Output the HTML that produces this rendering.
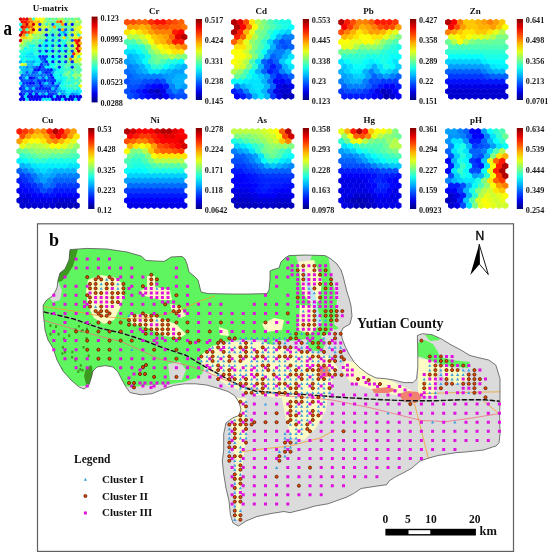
<!DOCTYPE html>
<html><head><meta charset="utf-8"><style>
html,body{margin:0;padding:0;background:#fff;}
svg{display:block;filter:blur(0.3px);}
.tt{font-family:"Liberation Serif",serif;font-weight:bold;font-size:9px;fill:#111;}
.cb{font-family:"Liberation Serif",serif;font-weight:bold;font-size:8.2px;fill:#1a1a1a;}
.big{font-family:"Liberation Serif",serif;font-weight:bold;font-size:17px;fill:#000;}
.lg{font-family:"Liberation Serif",serif;font-weight:bold;fill:#111;}
</style></head><body>
<svg width="550" height="556" viewBox="0 0 550 556">
<rect width="550" height="556" fill="#fff"/>
<defs><linearGradient id="jetg" x1="0" y1="1" x2="0" y2="0">
<stop offset="0.00" stop-color="#000080"/>
<stop offset="0.10" stop-color="#0000e6"/>
<stop offset="0.20" stop-color="#004dff"/>
<stop offset="0.30" stop-color="#00b2ff"/>
<stop offset="0.40" stop-color="#1affe5"/>
<stop offset="0.50" stop-color="#80ff80"/>
<stop offset="0.60" stop-color="#e5ff1a"/>
<stop offset="0.70" stop-color="#ffb300"/>
<stop offset="0.80" stop-color="#ff4c00"/>
<stop offset="0.90" stop-color="#e50000"/>
<stop offset="1.00" stop-color="#800000"/>
</linearGradient></defs>
<text x="50.5" y="11.4" class="tt" text-anchor="middle">U-matrix</text>
<defs><path id="h1" d="M0.00 -1.89 1.71 -0.94 1.71 0.94 0.00 1.89 -1.71 0.94 -1.71 -0.94 Z"/></defs>
<use href="#h1" x="20.62" y="19.18" fill="#d10000"/>
<use href="#h1" x="23.85" y="19.18" fill="#ff1300"/>
<use href="#h1" x="27.08" y="19.18" fill="#d10000"/>
<use href="#h1" x="30.31" y="19.18" fill="#ff8f00"/>
<use href="#h1" x="33.54" y="19.18" fill="#4dffb2"/>
<use href="#h1" x="36.77" y="19.18" fill="#fffb00"/>
<use href="#h1" x="40.00" y="19.18" fill="#faff05"/>
<use href="#h1" x="43.23" y="19.18" fill="#efff10"/>
<use href="#h1" x="46.46" y="19.18" fill="#76ff89"/>
<use href="#h1" x="49.69" y="19.18" fill="#56ffa9"/>
<use href="#h1" x="52.92" y="19.18" fill="#79ff86"/>
<use href="#h1" x="56.15" y="19.18" fill="#5affa5"/>
<use href="#h1" x="59.38" y="19.18" fill="#9eff61"/>
<use href="#h1" x="62.62" y="19.18" fill="#a1ff5e"/>
<use href="#h1" x="65.85" y="19.18" fill="#56ffa9"/>
<use href="#h1" x="69.08" y="19.18" fill="#6dff92"/>
<use href="#h1" x="72.31" y="19.18" fill="#59ffa6"/>
<use href="#h1" x="75.54" y="19.18" fill="#8cff73"/>
<use href="#h1" x="78.77" y="19.18" fill="#64ff9b"/>
<use href="#h1" x="22.23" y="21.86" fill="#ff0500"/>
<use href="#h1" x="25.46" y="21.86" fill="#ff0c00"/>
<use href="#h1" x="28.69" y="21.86" fill="#ff4f00"/>
<use href="#h1" x="31.92" y="21.86" fill="#ff7b00"/>
<use href="#h1" x="35.15" y="21.86" fill="#ffd000"/>
<use href="#h1" x="38.38" y="21.86" fill="#ffb300"/>
<use href="#h1" x="41.62" y="21.86" fill="#fff900"/>
<use href="#h1" x="44.85" y="21.86" fill="#abff54"/>
<use href="#h1" x="48.08" y="21.86" fill="#71ff8e"/>
<use href="#h1" x="51.31" y="21.86" fill="#69ff96"/>
<use href="#h1" x="54.54" y="21.86" fill="#6cff93"/>
<use href="#h1" x="57.77" y="21.86" fill="#ff7f00"/>
<use href="#h1" x="61.00" y="21.86" fill="#ff3500"/>
<use href="#h1" x="64.23" y="21.86" fill="#b5ff4a"/>
<use href="#h1" x="67.46" y="21.86" fill="#60ff9f"/>
<use href="#h1" x="70.69" y="21.86" fill="#b5ff4a"/>
<use href="#h1" x="73.92" y="21.86" fill="#7bff84"/>
<use href="#h1" x="77.15" y="21.86" fill="#e1ff1e"/>
<use href="#h1" x="80.38" y="21.86" fill="#97ff68"/>
<use href="#h1" x="20.62" y="24.53" fill="#1affe5"/>
<use href="#h1" x="23.85" y="24.53" fill="#ff5800"/>
<use href="#h1" x="27.08" y="24.53" fill="#d10000"/>
<use href="#h1" x="30.31" y="24.53" fill="#ffae00"/>
<use href="#h1" x="33.54" y="24.53" fill="#d10000"/>
<use href="#h1" x="36.77" y="24.53" fill="#ffee00"/>
<use href="#h1" x="40.00" y="24.53" fill="#0032ff"/>
<use href="#h1" x="43.23" y="24.53" fill="#b0ff4f"/>
<use href="#h1" x="46.46" y="24.53" fill="#40ffbf"/>
<use href="#h1" x="49.69" y="24.53" fill="#8dff72"/>
<use href="#h1" x="52.92" y="24.53" fill="#0061ff"/>
<use href="#h1" x="56.15" y="24.53" fill="#3effc1"/>
<use href="#h1" x="59.38" y="24.53" fill="#5effa1"/>
<use href="#h1" x="62.62" y="24.53" fill="#ffa000"/>
<use href="#h1" x="65.85" y="24.53" fill="#0024ff"/>
<use href="#h1" x="69.08" y="24.53" fill="#afff50"/>
<use href="#h1" x="72.31" y="24.53" fill="#0015ff"/>
<use href="#h1" x="75.54" y="24.53" fill="#8eff71"/>
<use href="#h1" x="78.77" y="24.53" fill="#91ff6e"/>
<use href="#h1" x="22.23" y="27.21" fill="#d90000"/>
<use href="#h1" x="25.46" y="27.21" fill="#ff2200"/>
<use href="#h1" x="28.69" y="27.21" fill="#ff5700"/>
<use href="#h1" x="31.92" y="27.21" fill="#ff6900"/>
<use href="#h1" x="35.15" y="27.21" fill="#ffea00"/>
<use href="#h1" x="38.38" y="27.21" fill="#ffd800"/>
<use href="#h1" x="41.62" y="27.21" fill="#bbff44"/>
<use href="#h1" x="44.85" y="27.21" fill="#ddff22"/>
<use href="#h1" x="48.08" y="27.21" fill="#b4ff4b"/>
<use href="#h1" x="51.31" y="27.21" fill="#66ff99"/>
<use href="#h1" x="54.54" y="27.21" fill="#ffaa00"/>
<use href="#h1" x="57.77" y="27.21" fill="#47ffb8"/>
<use href="#h1" x="61.00" y="27.21" fill="#4cffb3"/>
<use href="#h1" x="64.23" y="27.21" fill="#71ff8e"/>
<use href="#h1" x="67.46" y="27.21" fill="#54ffab"/>
<use href="#h1" x="70.69" y="27.21" fill="#61ff9e"/>
<use href="#h1" x="73.92" y="27.21" fill="#acff53"/>
<use href="#h1" x="77.15" y="27.21" fill="#caff35"/>
<use href="#h1" x="80.38" y="27.21" fill="#fffd00"/>
<use href="#h1" x="20.62" y="29.88" fill="#1affe5"/>
<use href="#h1" x="23.85" y="29.88" fill="#ff4000"/>
<use href="#h1" x="27.08" y="29.88" fill="#4dffb2"/>
<use href="#h1" x="30.31" y="29.88" fill="#ffbd00"/>
<use href="#h1" x="33.54" y="29.88" fill="#b30000"/>
<use href="#h1" x="36.77" y="29.88" fill="#ffff00"/>
<use href="#h1" x="40.00" y="29.88" fill="#001bff"/>
<use href="#h1" x="43.23" y="29.88" fill="#a1ff5e"/>
<use href="#h1" x="46.46" y="29.88" fill="#003aff"/>
<use href="#h1" x="49.69" y="29.88" fill="#7dff82"/>
<use href="#h1" x="52.92" y="29.88" fill="#31ffce"/>
<use href="#h1" x="56.15" y="29.88" fill="#46ffb9"/>
<use href="#h1" x="59.38" y="29.88" fill="#0040ff"/>
<use href="#h1" x="62.62" y="29.88" fill="#ffb200"/>
<use href="#h1" x="65.85" y="29.88" fill="#0061ff"/>
<use href="#h1" x="69.08" y="29.88" fill="#5dffa2"/>
<use href="#h1" x="72.31" y="29.88" fill="#0059ff"/>
<use href="#h1" x="75.54" y="29.88" fill="#dcff23"/>
<use href="#h1" x="78.77" y="29.88" fill="#e1ff1e"/>
<use href="#h1" x="22.23" y="32.56" fill="#e40000"/>
<use href="#h1" x="25.46" y="32.56" fill="#ff3700"/>
<use href="#h1" x="28.69" y="32.56" fill="#ff5e00"/>
<use href="#h1" x="31.92" y="32.56" fill="#ffa000"/>
<use href="#h1" x="35.15" y="32.56" fill="#fff100"/>
<use href="#h1" x="38.38" y="32.56" fill="#cbff34"/>
<use href="#h1" x="41.62" y="32.56" fill="#bdff42"/>
<use href="#h1" x="44.85" y="32.56" fill="#9cff63"/>
<use href="#h1" x="48.08" y="32.56" fill="#8fff70"/>
<use href="#h1" x="51.31" y="32.56" fill="#39ffc6"/>
<use href="#h1" x="54.54" y="32.56" fill="#4fffb0"/>
<use href="#h1" x="57.77" y="32.56" fill="#6cff93"/>
<use href="#h1" x="61.00" y="32.56" fill="#00eaff"/>
<use href="#h1" x="64.23" y="32.56" fill="#00a9ff"/>
<use href="#h1" x="67.46" y="32.56" fill="#3bffc4"/>
<use href="#h1" x="70.69" y="32.56" fill="#98ff67"/>
<use href="#h1" x="73.92" y="32.56" fill="#d5ff2a"/>
<use href="#h1" x="77.15" y="32.56" fill="#adff52"/>
<use href="#h1" x="80.38" y="32.56" fill="#f8ff07"/>
<use href="#h1" x="20.62" y="35.23" fill="#b30000"/>
<use href="#h1" x="23.85" y="35.23" fill="#ff8700"/>
<use href="#h1" x="27.08" y="35.23" fill="#4dffb2"/>
<use href="#h1" x="30.31" y="35.23" fill="#efff10"/>
<use href="#h1" x="33.54" y="35.23" fill="#91ff6e"/>
<use href="#h1" x="36.77" y="35.23" fill="#a0ff5f"/>
<use href="#h1" x="40.00" y="35.23" fill="#93ff6c"/>
<use href="#h1" x="43.23" y="35.23" fill="#64ff9b"/>
<use href="#h1" x="46.46" y="35.23" fill="#001aff"/>
<use href="#h1" x="49.69" y="35.23" fill="#38ffc7"/>
<use href="#h1" x="52.92" y="35.23" fill="#0049ff"/>
<use href="#h1" x="56.15" y="35.23" fill="#6cff93"/>
<use href="#h1" x="59.38" y="35.23" fill="#0034ff"/>
<use href="#h1" x="62.62" y="35.23" fill="#2effd1"/>
<use href="#h1" x="65.85" y="35.23" fill="#0042ff"/>
<use href="#h1" x="69.08" y="35.23" fill="#88ff77"/>
<use href="#h1" x="72.31" y="35.23" fill="#005fff"/>
<use href="#h1" x="75.54" y="35.23" fill="#ddff22"/>
<use href="#h1" x="78.77" y="35.23" fill="#1affe5"/>
<use href="#h1" x="22.23" y="37.90" fill="#ffd100"/>
<use href="#h1" x="25.46" y="37.90" fill="#ffd400"/>
<use href="#h1" x="28.69" y="37.90" fill="#deff21"/>
<use href="#h1" x="31.92" y="37.90" fill="#c8ff37"/>
<use href="#h1" x="35.15" y="37.90" fill="#8cff73"/>
<use href="#h1" x="38.38" y="37.90" fill="#92ff6d"/>
<use href="#h1" x="41.62" y="37.90" fill="#81ff7e"/>
<use href="#h1" x="44.85" y="37.90" fill="#83ff7c"/>
<use href="#h1" x="48.08" y="37.90" fill="#17ffe8"/>
<use href="#h1" x="51.31" y="37.90" fill="#3affc5"/>
<use href="#h1" x="54.54" y="37.90" fill="#05fffa"/>
<use href="#h1" x="57.77" y="37.90" fill="#55ffaa"/>
<use href="#h1" x="61.00" y="37.90" fill="#4dffb2"/>
<use href="#h1" x="64.23" y="37.90" fill="#ffdf00"/>
<use href="#h1" x="67.46" y="37.90" fill="#40ffbf"/>
<use href="#h1" x="70.69" y="37.90" fill="#9fff60"/>
<use href="#h1" x="73.92" y="37.90" fill="#caff35"/>
<use href="#h1" x="77.15" y="37.90" fill="#e7ff18"/>
<use href="#h1" x="80.38" y="37.90" fill="#ffae00"/>
<use href="#h1" x="20.62" y="40.58" fill="#d10000"/>
<use href="#h1" x="23.85" y="40.58" fill="#a4ff5b"/>
<use href="#h1" x="27.08" y="40.58" fill="#94ff6b"/>
<use href="#h1" x="30.31" y="40.58" fill="#acff53"/>
<use href="#h1" x="33.54" y="40.58" fill="#46ffb9"/>
<use href="#h1" x="36.77" y="40.58" fill="#6eff91"/>
<use href="#h1" x="40.00" y="40.58" fill="#1bffe4"/>
<use href="#h1" x="43.23" y="40.58" fill="#43ffbc"/>
<use href="#h1" x="46.46" y="40.58" fill="#0052ff"/>
<use href="#h1" x="49.69" y="40.58" fill="#2fffd0"/>
<use href="#h1" x="52.92" y="40.58" fill="#0059ff"/>
<use href="#h1" x="56.15" y="40.58" fill="#5affa5"/>
<use href="#h1" x="59.38" y="40.58" fill="#0050ff"/>
<use href="#h1" x="62.62" y="40.58" fill="#1fffe0"/>
<use href="#h1" x="65.85" y="40.58" fill="#23ffdc"/>
<use href="#h1" x="69.08" y="40.58" fill="#62ff9d"/>
<use href="#h1" x="72.31" y="40.58" fill="#004eff"/>
<use href="#h1" x="75.54" y="40.58" fill="#ff1c00"/>
<use href="#h1" x="78.77" y="40.58" fill="#d10000"/>
<use href="#h1" x="22.23" y="43.25" fill="#cbff34"/>
<use href="#h1" x="25.46" y="43.25" fill="#7fff80"/>
<use href="#h1" x="28.69" y="43.25" fill="#4effb1"/>
<use href="#h1" x="31.92" y="43.25" fill="#57ffa8"/>
<use href="#h1" x="35.15" y="43.25" fill="#5bffa4"/>
<use href="#h1" x="38.38" y="43.25" fill="#55ffaa"/>
<use href="#h1" x="41.62" y="43.25" fill="#52ffad"/>
<use href="#h1" x="44.85" y="43.25" fill="#04fffb"/>
<use href="#h1" x="48.08" y="43.25" fill="#08fff7"/>
<use href="#h1" x="51.31" y="43.25" fill="#28ffd7"/>
<use href="#h1" x="54.54" y="43.25" fill="#42ffbd"/>
<use href="#h1" x="57.77" y="43.25" fill="#10ffef"/>
<use href="#h1" x="61.00" y="43.25" fill="#4cffb3"/>
<use href="#h1" x="64.23" y="43.25" fill="#10ffef"/>
<use href="#h1" x="67.46" y="43.25" fill="#7fff80"/>
<use href="#h1" x="70.69" y="43.25" fill="#95ff6a"/>
<use href="#h1" x="73.92" y="43.25" fill="#cfff30"/>
<use href="#h1" x="77.15" y="43.25" fill="#ff0a00"/>
<use href="#h1" x="80.38" y="43.25" fill="#ffb500"/>
<use href="#h1" x="20.62" y="45.93" fill="#86ff79"/>
<use href="#h1" x="23.85" y="45.93" fill="#76ff89"/>
<use href="#h1" x="27.08" y="45.93" fill="#4effb1"/>
<use href="#h1" x="30.31" y="45.93" fill="#16ffe9"/>
<use href="#h1" x="33.54" y="45.93" fill="#04fffb"/>
<use href="#h1" x="36.77" y="45.93" fill="#4effb1"/>
<use href="#h1" x="40.00" y="45.93" fill="#0036ff"/>
<use href="#h1" x="43.23" y="45.93" fill="#00f5ff"/>
<use href="#h1" x="46.46" y="45.93" fill="#0059ff"/>
<use href="#h1" x="49.69" y="45.93" fill="#17ffe8"/>
<use href="#h1" x="52.92" y="45.93" fill="#0042ff"/>
<use href="#h1" x="56.15" y="45.93" fill="#51ffae"/>
<use href="#h1" x="59.38" y="45.93" fill="#0011ff"/>
<use href="#h1" x="62.62" y="45.93" fill="#12ffed"/>
<use href="#h1" x="65.85" y="45.93" fill="#002aff"/>
<use href="#h1" x="69.08" y="45.93" fill="#7eff81"/>
<use href="#h1" x="72.31" y="45.93" fill="#004bff"/>
<use href="#h1" x="75.54" y="45.93" fill="#dcff23"/>
<use href="#h1" x="78.77" y="45.93" fill="#b30000"/>
<use href="#h1" x="22.23" y="48.60" fill="#76ff89"/>
<use href="#h1" x="25.46" y="48.60" fill="#00fbff"/>
<use href="#h1" x="28.69" y="48.60" fill="#37ffc8"/>
<use href="#h1" x="31.92" y="48.60" fill="#0dfff2"/>
<use href="#h1" x="35.15" y="48.60" fill="#2cffd3"/>
<use href="#h1" x="38.38" y="48.60" fill="#1affe5"/>
<use href="#h1" x="41.62" y="48.60" fill="#23ffdc"/>
<use href="#h1" x="44.85" y="48.60" fill="#00fcff"/>
<use href="#h1" x="48.08" y="48.60" fill="#39ffc6"/>
<use href="#h1" x="51.31" y="48.60" fill="#07fff8"/>
<use href="#h1" x="54.54" y="48.60" fill="#4cffb3"/>
<use href="#h1" x="57.77" y="48.60" fill="#5bffa4"/>
<use href="#h1" x="61.00" y="48.60" fill="#09fff6"/>
<use href="#h1" x="64.23" y="48.60" fill="#4dffb2"/>
<use href="#h1" x="67.46" y="48.60" fill="#2cffd3"/>
<use href="#h1" x="70.69" y="48.60" fill="#85ff7a"/>
<use href="#h1" x="73.92" y="48.60" fill="#9fff60"/>
<use href="#h1" x="77.15" y="48.60" fill="#ff0e00"/>
<use href="#h1" x="80.38" y="48.60" fill="#ffc200"/>
<use href="#h1" x="20.62" y="51.28" fill="#3cffc3"/>
<use href="#h1" x="23.85" y="51.28" fill="#22ffdd"/>
<use href="#h1" x="27.08" y="51.28" fill="#15ffea"/>
<use href="#h1" x="30.31" y="51.28" fill="#0cfff3"/>
<use href="#h1" x="33.54" y="51.28" fill="#16ffe9"/>
<use href="#h1" x="36.77" y="51.28" fill="#2effd1"/>
<use href="#h1" x="40.00" y="51.28" fill="#004dff"/>
<use href="#h1" x="43.23" y="51.28" fill="#20ffdf"/>
<use href="#h1" x="46.46" y="51.28" fill="#001fff"/>
<use href="#h1" x="49.69" y="51.28" fill="#00f1ff"/>
<use href="#h1" x="52.92" y="51.28" fill="#0026ff"/>
<use href="#h1" x="56.15" y="51.28" fill="#3bffc4"/>
<use href="#h1" x="59.38" y="51.28" fill="#0047ff"/>
<use href="#h1" x="62.62" y="51.28" fill="#0ffff0"/>
<use href="#h1" x="65.85" y="51.28" fill="#0032ff"/>
<use href="#h1" x="69.08" y="51.28" fill="#7eff81"/>
<use href="#h1" x="72.31" y="51.28" fill="#0043ff"/>
<use href="#h1" x="75.54" y="51.28" fill="#c7ff38"/>
<use href="#h1" x="78.77" y="51.28" fill="#d10000"/>
<use href="#h1" x="22.23" y="53.95" fill="#13ffec"/>
<use href="#h1" x="25.46" y="53.95" fill="#0afff5"/>
<use href="#h1" x="28.69" y="53.95" fill="#00ecff"/>
<use href="#h1" x="31.92" y="53.95" fill="#00d8ff"/>
<use href="#h1" x="35.15" y="53.95" fill="#25ffda"/>
<use href="#h1" x="38.38" y="53.95" fill="#2bffd4"/>
<use href="#h1" x="41.62" y="53.95" fill="#01fffe"/>
<use href="#h1" x="44.85" y="53.95" fill="#10ffef"/>
<use href="#h1" x="48.08" y="53.95" fill="#33ffcc"/>
<use href="#h1" x="51.31" y="53.95" fill="#42ffbd"/>
<use href="#h1" x="54.54" y="53.95" fill="#3effc1"/>
<use href="#h1" x="57.77" y="53.95" fill="#21ffde"/>
<use href="#h1" x="61.00" y="53.95" fill="#5bffa4"/>
<use href="#h1" x="64.23" y="53.95" fill="#59ffa6"/>
<use href="#h1" x="67.46" y="53.95" fill="#51ffae"/>
<use href="#h1" x="70.69" y="53.95" fill="#5fffa0"/>
<use href="#h1" x="73.92" y="53.95" fill="#ff2800"/>
<use href="#h1" x="77.15" y="53.95" fill="#ffdf00"/>
<use href="#h1" x="80.38" y="53.95" fill="#efff10"/>
<use href="#h1" x="20.62" y="56.63" fill="#1fffe0"/>
<use href="#h1" x="23.85" y="56.63" fill="#00f5ff"/>
<use href="#h1" x="27.08" y="56.63" fill="#00dcff"/>
<use href="#h1" x="30.31" y="56.63" fill="#00e0ff"/>
<use href="#h1" x="33.54" y="56.63" fill="#00deff"/>
<use href="#h1" x="36.77" y="56.63" fill="#00fbff"/>
<use href="#h1" x="40.00" y="56.63" fill="#0030ff"/>
<use href="#h1" x="43.23" y="56.63" fill="#0030ff"/>
<use href="#h1" x="46.46" y="56.63" fill="#0034ff"/>
<use href="#h1" x="49.69" y="56.63" fill="#0ffff0"/>
<use href="#h1" x="52.92" y="56.63" fill="#0010ff"/>
<use href="#h1" x="56.15" y="56.63" fill="#0dfff2"/>
<use href="#h1" x="59.38" y="56.63" fill="#003bff"/>
<use href="#h1" x="62.62" y="56.63" fill="#34ffcb"/>
<use href="#h1" x="65.85" y="56.63" fill="#0017ff"/>
<use href="#h1" x="69.08" y="56.63" fill="#79ff86"/>
<use href="#h1" x="72.31" y="56.63" fill="#0046ff"/>
<use href="#h1" x="75.54" y="56.63" fill="#fdff02"/>
<use href="#h1" x="78.77" y="56.63" fill="#4dffb2"/>
<use href="#h1" x="22.23" y="59.30" fill="#00f8ff"/>
<use href="#h1" x="25.46" y="59.30" fill="#25ffda"/>
<use href="#h1" x="28.69" y="59.30" fill="#06fff9"/>
<use href="#h1" x="31.92" y="59.30" fill="#00f6ff"/>
<use href="#h1" x="35.15" y="59.30" fill="#00e8ff"/>
<use href="#h1" x="38.38" y="59.30" fill="#00f5ff"/>
<use href="#h1" x="41.62" y="59.30" fill="#006dff"/>
<use href="#h1" x="44.85" y="59.30" fill="#0033ff"/>
<use href="#h1" x="48.08" y="59.30" fill="#09fff6"/>
<use href="#h1" x="51.31" y="59.30" fill="#00fbff"/>
<use href="#h1" x="54.54" y="59.30" fill="#00e4ff"/>
<use href="#h1" x="57.77" y="59.30" fill="#16ffe9"/>
<use href="#h1" x="61.00" y="59.30" fill="#45ffba"/>
<use href="#h1" x="64.23" y="59.30" fill="#5affa5"/>
<use href="#h1" x="67.46" y="59.30" fill="#69ff96"/>
<use href="#h1" x="70.69" y="59.30" fill="#ff9200"/>
<use href="#h1" x="73.92" y="59.30" fill="#beff41"/>
<use href="#h1" x="77.15" y="59.30" fill="#aeff51"/>
<use href="#h1" x="80.38" y="59.30" fill="#f1ff0e"/>
<use href="#h1" x="20.62" y="61.97" fill="#00b5ff"/>
<use href="#h1" x="23.85" y="61.97" fill="#04fffb"/>
<use href="#h1" x="27.08" y="61.97" fill="#00b5ff"/>
<use href="#h1" x="30.31" y="61.97" fill="#00bfff"/>
<use href="#h1" x="33.54" y="61.97" fill="#00a4ff"/>
<use href="#h1" x="36.77" y="61.97" fill="#00e3ff"/>
<use href="#h1" x="40.00" y="61.97" fill="#00ddff"/>
<use href="#h1" x="43.23" y="61.97" fill="#006eff"/>
<use href="#h1" x="46.46" y="61.97" fill="#0026ff"/>
<use href="#h1" x="49.69" y="61.97" fill="#2affd5"/>
<use href="#h1" x="52.92" y="61.97" fill="#0019ff"/>
<use href="#h1" x="56.15" y="61.97" fill="#43ffbc"/>
<use href="#h1" x="59.38" y="61.97" fill="#002dff"/>
<use href="#h1" x="62.62" y="61.97" fill="#23ffdc"/>
<use href="#h1" x="65.85" y="61.97" fill="#0040ff"/>
<use href="#h1" x="69.08" y="61.97" fill="#73ff8c"/>
<use href="#h1" x="72.31" y="61.97" fill="#0024ff"/>
<use href="#h1" x="75.54" y="61.97" fill="#c5ff3a"/>
<use href="#h1" x="78.77" y="61.97" fill="#b3ff4c"/>
<use href="#h1" x="22.23" y="64.65" fill="#e1ff1e"/>
<use href="#h1" x="25.46" y="64.65" fill="#b5ff4a"/>
<use href="#h1" x="28.69" y="64.65" fill="#00bfff"/>
<use href="#h1" x="31.92" y="64.65" fill="#00b8ff"/>
<use href="#h1" x="35.15" y="64.65" fill="#00f1ff"/>
<use href="#h1" x="38.38" y="64.65" fill="#00ecff"/>
<use href="#h1" x="41.62" y="64.65" fill="#0033ff"/>
<use href="#h1" x="44.85" y="64.65" fill="#0086ff"/>
<use href="#h1" x="48.08" y="64.65" fill="#0056ff"/>
<use href="#h1" x="51.31" y="64.65" fill="#0dfff2"/>
<use href="#h1" x="54.54" y="64.65" fill="#00fbff"/>
<use href="#h1" x="57.77" y="64.65" fill="#35ffca"/>
<use href="#h1" x="61.00" y="64.65" fill="#37ffc8"/>
<use href="#h1" x="64.23" y="64.65" fill="#28ffd7"/>
<use href="#h1" x="67.46" y="64.65" fill="#63ff9c"/>
<use href="#h1" x="70.69" y="64.65" fill="#51ffae"/>
<use href="#h1" x="73.92" y="64.65" fill="#3effc1"/>
<use href="#h1" x="77.15" y="64.65" fill="#4bffb4"/>
<use href="#h1" x="80.38" y="64.65" fill="#8bff74"/>
<use href="#h1" x="20.62" y="67.32" fill="#00ccff"/>
<use href="#h1" x="23.85" y="67.32" fill="#00beff"/>
<use href="#h1" x="27.08" y="67.32" fill="#0084ff"/>
<use href="#h1" x="30.31" y="67.32" fill="#00acff"/>
<use href="#h1" x="33.54" y="67.32" fill="#007cff"/>
<use href="#h1" x="36.77" y="67.32" fill="#005bff"/>
<use href="#h1" x="40.00" y="67.32" fill="#0005ff"/>
<use href="#h1" x="43.23" y="67.32" fill="#004eff"/>
<use href="#h1" x="46.46" y="67.32" fill="#00fdff"/>
<use href="#h1" x="49.69" y="67.32" fill="#00f5ff"/>
<use href="#h1" x="52.92" y="67.32" fill="#04fffb"/>
<use href="#h1" x="56.15" y="67.32" fill="#36ffc9"/>
<use href="#h1" x="59.38" y="67.32" fill="#0028ff"/>
<use href="#h1" x="62.62" y="67.32" fill="#25ffda"/>
<use href="#h1" x="65.85" y="67.32" fill="#53ffac"/>
<use href="#h1" x="69.08" y="67.32" fill="#3dffc2"/>
<use href="#h1" x="72.31" y="67.32" fill="#002dff"/>
<use href="#h1" x="75.54" y="67.32" fill="#67ff98"/>
<use href="#h1" x="78.77" y="67.32" fill="#42ffbd"/>
<use href="#h1" x="22.23" y="70.00" fill="#00c1ff"/>
<use href="#h1" x="25.46" y="70.00" fill="#00baff"/>
<use href="#h1" x="28.69" y="70.00" fill="#00b8ff"/>
<use href="#h1" x="31.92" y="70.00" fill="#00c7ff"/>
<use href="#h1" x="35.15" y="70.00" fill="#0018ff"/>
<use href="#h1" x="38.38" y="70.00" fill="#000fff"/>
<use href="#h1" x="41.62" y="70.00" fill="#0052ff"/>
<use href="#h1" x="44.85" y="70.00" fill="#0044ff"/>
<use href="#h1" x="48.08" y="70.00" fill="#002fff"/>
<use href="#h1" x="51.31" y="70.00" fill="#0014ff"/>
<use href="#h1" x="54.54" y="70.00" fill="#00bdff"/>
<use href="#h1" x="57.77" y="70.00" fill="#00f8ff"/>
<use href="#h1" x="61.00" y="70.00" fill="#1affe5"/>
<use href="#h1" x="64.23" y="70.00" fill="#25ffda"/>
<use href="#h1" x="67.46" y="70.00" fill="#3affc5"/>
<use href="#h1" x="70.69" y="70.00" fill="#46ffb9"/>
<use href="#h1" x="73.92" y="70.00" fill="#63ff9c"/>
<use href="#h1" x="77.15" y="70.00" fill="#46ffb9"/>
<use href="#h1" x="80.38" y="70.00" fill="#51ffae"/>
<use href="#h1" x="20.62" y="72.67" fill="#2effd1"/>
<use href="#h1" x="23.85" y="72.67" fill="#00beff"/>
<use href="#h1" x="27.08" y="72.67" fill="#0058ff"/>
<use href="#h1" x="30.31" y="72.67" fill="#00b8ff"/>
<use href="#h1" x="33.54" y="72.67" fill="#004fff"/>
<use href="#h1" x="36.77" y="72.67" fill="#0069ff"/>
<use href="#h1" x="40.00" y="72.67" fill="#00dbff"/>
<use href="#h1" x="43.23" y="72.67" fill="#0055ff"/>
<use href="#h1" x="46.46" y="72.67" fill="#001eff"/>
<use href="#h1" x="49.69" y="72.67" fill="#003aff"/>
<use href="#h1" x="52.92" y="72.67" fill="#00a2ff"/>
<use href="#h1" x="56.15" y="72.67" fill="#1effe1"/>
<use href="#h1" x="59.38" y="72.67" fill="#0efff1"/>
<use href="#h1" x="62.62" y="72.67" fill="#1fffe0"/>
<use href="#h1" x="65.85" y="72.67" fill="#55ffaa"/>
<use href="#h1" x="69.08" y="72.67" fill="#81ff7e"/>
<use href="#h1" x="72.31" y="72.67" fill="#14ffeb"/>
<use href="#h1" x="75.54" y="72.67" fill="#70ff8f"/>
<use href="#h1" x="78.77" y="72.67" fill="#4effb1"/>
<use href="#h1" x="22.23" y="75.35" fill="#0063ff"/>
<use href="#h1" x="25.46" y="75.35" fill="#0086ff"/>
<use href="#h1" x="28.69" y="75.35" fill="#0076ff"/>
<use href="#h1" x="31.92" y="75.35" fill="#006eff"/>
<use href="#h1" x="35.15" y="75.35" fill="#0075ff"/>
<use href="#h1" x="38.38" y="75.35" fill="#0088ff"/>
<use href="#h1" x="41.62" y="75.35" fill="#0069ff"/>
<use href="#h1" x="44.85" y="75.35" fill="#0082ff"/>
<use href="#h1" x="48.08" y="75.35" fill="#0059ff"/>
<use href="#h1" x="51.31" y="75.35" fill="#0018ff"/>
<use href="#h1" x="54.54" y="75.35" fill="#00f9ff"/>
<use href="#h1" x="57.77" y="75.35" fill="#08fff7"/>
<use href="#h1" x="61.00" y="75.35" fill="#00e1ff"/>
<use href="#h1" x="64.23" y="75.35" fill="#59ffa6"/>
<use href="#h1" x="67.46" y="75.35" fill="#72ff8d"/>
<use href="#h1" x="70.69" y="75.35" fill="#3dffc2"/>
<use href="#h1" x="73.92" y="75.35" fill="#8bff74"/>
<use href="#h1" x="77.15" y="75.35" fill="#8eff71"/>
<use href="#h1" x="80.38" y="75.35" fill="#a9ff56"/>
<use href="#h1" x="20.62" y="78.02" fill="#0035ff"/>
<use href="#h1" x="23.85" y="78.02" fill="#007cff"/>
<use href="#h1" x="27.08" y="78.02" fill="#00f8ff"/>
<use href="#h1" x="30.31" y="78.02" fill="#0000eb"/>
<use href="#h1" x="33.54" y="78.02" fill="#0023ff"/>
<use href="#h1" x="36.77" y="78.02" fill="#0067ff"/>
<use href="#h1" x="40.00" y="78.02" fill="#00c6ff"/>
<use href="#h1" x="43.23" y="78.02" fill="#0057ff"/>
<use href="#h1" x="46.46" y="78.02" fill="#00dfff"/>
<use href="#h1" x="49.69" y="78.02" fill="#004dff"/>
<use href="#h1" x="52.92" y="78.02" fill="#0015ff"/>
<use href="#h1" x="56.15" y="78.02" fill="#00ffff"/>
<use href="#h1" x="59.38" y="78.02" fill="#12ffed"/>
<use href="#h1" x="62.62" y="78.02" fill="#01fffe"/>
<use href="#h1" x="65.85" y="78.02" fill="#07fff8"/>
<use href="#h1" x="69.08" y="78.02" fill="#55ffaa"/>
<use href="#h1" x="72.31" y="78.02" fill="#1cffe3"/>
<use href="#h1" x="75.54" y="78.02" fill="#8cff73"/>
<use href="#h1" x="78.77" y="78.02" fill="#45ffba"/>
<use href="#h1" x="22.23" y="80.70" fill="#0043ff"/>
<use href="#h1" x="25.46" y="80.70" fill="#0066ff"/>
<use href="#h1" x="28.69" y="80.70" fill="#0056ff"/>
<use href="#h1" x="31.92" y="80.70" fill="#0038ff"/>
<use href="#h1" x="35.15" y="80.70" fill="#007eff"/>
<use href="#h1" x="38.38" y="80.70" fill="#002bff"/>
<use href="#h1" x="41.62" y="80.70" fill="#0046ff"/>
<use href="#h1" x="44.85" y="80.70" fill="#001dff"/>
<use href="#h1" x="48.08" y="80.70" fill="#0049ff"/>
<use href="#h1" x="51.31" y="80.70" fill="#0036ff"/>
<use href="#h1" x="54.54" y="80.70" fill="#0033ff"/>
<use href="#h1" x="57.77" y="80.70" fill="#00e9ff"/>
<use href="#h1" x="61.00" y="80.70" fill="#00ddff"/>
<use href="#h1" x="64.23" y="80.70" fill="#10ffef"/>
<use href="#h1" x="67.46" y="80.70" fill="#40ffbf"/>
<use href="#h1" x="70.69" y="80.70" fill="#34ffcb"/>
<use href="#h1" x="73.92" y="80.70" fill="#28ffd7"/>
<use href="#h1" x="77.15" y="80.70" fill="#34ffcb"/>
<use href="#h1" x="80.38" y="80.70" fill="#7eff81"/>
<use href="#h1" x="20.62" y="83.37" fill="#00f8ff"/>
<use href="#h1" x="23.85" y="83.37" fill="#0035ff"/>
<use href="#h1" x="27.08" y="83.37" fill="#0023ff"/>
<use href="#h1" x="30.31" y="83.37" fill="#0005ff"/>
<use href="#h1" x="33.54" y="83.37" fill="#0010ff"/>
<use href="#h1" x="36.77" y="83.37" fill="#0067ff"/>
<use href="#h1" x="40.00" y="83.37" fill="#0000fa"/>
<use href="#h1" x="43.23" y="83.37" fill="#0085ff"/>
<use href="#h1" x="46.46" y="83.37" fill="#00d4ff"/>
<use href="#h1" x="49.69" y="83.37" fill="#0072ff"/>
<use href="#h1" x="52.92" y="83.37" fill="#0007ff"/>
<use href="#h1" x="56.15" y="83.37" fill="#00deff"/>
<use href="#h1" x="59.38" y="83.37" fill="#00a3ff"/>
<use href="#h1" x="62.62" y="83.37" fill="#06fff9"/>
<use href="#h1" x="65.85" y="83.37" fill="#20ffdf"/>
<use href="#h1" x="69.08" y="83.37" fill="#12ffed"/>
<use href="#h1" x="72.31" y="83.37" fill="#27ffd8"/>
<use href="#h1" x="75.54" y="83.37" fill="#6dff92"/>
<use href="#h1" x="78.77" y="83.37" fill="#48ffb7"/>
<use href="#h1" x="22.23" y="86.04" fill="#0041ff"/>
<use href="#h1" x="25.46" y="86.04" fill="#0089ff"/>
<use href="#h1" x="28.69" y="86.04" fill="#004cff"/>
<use href="#h1" x="31.92" y="86.04" fill="#004eff"/>
<use href="#h1" x="35.15" y="86.04" fill="#0068ff"/>
<use href="#h1" x="38.38" y="86.04" fill="#0069ff"/>
<use href="#h1" x="41.62" y="86.04" fill="#0012ff"/>
<use href="#h1" x="44.85" y="86.04" fill="#006bff"/>
<use href="#h1" x="48.08" y="86.04" fill="#0062ff"/>
<use href="#h1" x="51.31" y="86.04" fill="#0067ff"/>
<use href="#h1" x="54.54" y="86.04" fill="#0073ff"/>
<use href="#h1" x="57.77" y="86.04" fill="#003eff"/>
<use href="#h1" x="61.00" y="86.04" fill="#1cffe3"/>
<use href="#h1" x="64.23" y="86.04" fill="#19ffe6"/>
<use href="#h1" x="67.46" y="86.04" fill="#46ffb9"/>
<use href="#h1" x="70.69" y="86.04" fill="#58ffa7"/>
<use href="#h1" x="73.92" y="86.04" fill="#40ffbf"/>
<use href="#h1" x="77.15" y="86.04" fill="#23ffdc"/>
<use href="#h1" x="80.38" y="86.04" fill="#fffc00"/>
<use href="#h1" x="20.62" y="88.72" fill="#001eff"/>
<use href="#h1" x="23.85" y="88.72" fill="#0044ff"/>
<use href="#h1" x="27.08" y="88.72" fill="#00e2ff"/>
<use href="#h1" x="30.31" y="88.72" fill="#005eff"/>
<use href="#h1" x="33.54" y="88.72" fill="#00c8ff"/>
<use href="#h1" x="36.77" y="88.72" fill="#002aff"/>
<use href="#h1" x="40.00" y="88.72" fill="#0019ff"/>
<use href="#h1" x="43.23" y="88.72" fill="#0020ff"/>
<use href="#h1" x="46.46" y="88.72" fill="#002bff"/>
<use href="#h1" x="49.69" y="88.72" fill="#002dff"/>
<use href="#h1" x="52.92" y="88.72" fill="#00c7ff"/>
<use href="#h1" x="56.15" y="88.72" fill="#0056ff"/>
<use href="#h1" x="59.38" y="88.72" fill="#00c7ff"/>
<use href="#h1" x="62.62" y="88.72" fill="#0ffff0"/>
<use href="#h1" x="65.85" y="88.72" fill="#0cfff3"/>
<use href="#h1" x="69.08" y="88.72" fill="#18ffe7"/>
<use href="#h1" x="72.31" y="88.72" fill="#26ffd9"/>
<use href="#h1" x="75.54" y="88.72" fill="#4effb1"/>
<use href="#h1" x="78.77" y="88.72" fill="#0dfff2"/>
<use href="#h1" x="22.23" y="91.39" fill="#004fff"/>
<use href="#h1" x="25.46" y="91.39" fill="#0049ff"/>
<use href="#h1" x="28.69" y="91.39" fill="#003eff"/>
<use href="#h1" x="31.92" y="91.39" fill="#0031ff"/>
<use href="#h1" x="35.15" y="91.39" fill="#0058ff"/>
<use href="#h1" x="38.38" y="91.39" fill="#005cff"/>
<use href="#h1" x="41.62" y="91.39" fill="#0066ff"/>
<use href="#h1" x="44.85" y="91.39" fill="#005dff"/>
<use href="#h1" x="48.08" y="91.39" fill="#0035ff"/>
<use href="#h1" x="51.31" y="91.39" fill="#0063ff"/>
<use href="#h1" x="54.54" y="91.39" fill="#0051ff"/>
<use href="#h1" x="57.77" y="91.39" fill="#009eff"/>
<use href="#h1" x="61.00" y="91.39" fill="#00a4ff"/>
<use href="#h1" x="64.23" y="91.39" fill="#00b8ff"/>
<use href="#h1" x="67.46" y="91.39" fill="#0ffff0"/>
<use href="#h1" x="70.69" y="91.39" fill="#00faff"/>
<use href="#h1" x="73.92" y="91.39" fill="#00e6ff"/>
<use href="#h1" x="77.15" y="91.39" fill="#00d6ff"/>
<use href="#h1" x="80.38" y="91.39" fill="#00ffff"/>
<use href="#h1" x="20.62" y="94.07" fill="#0000f7"/>
<use href="#h1" x="23.85" y="94.07" fill="#0038ff"/>
<use href="#h1" x="27.08" y="94.07" fill="#00c5ff"/>
<use href="#h1" x="30.31" y="94.07" fill="#0003ff"/>
<use href="#h1" x="33.54" y="94.07" fill="#00c5ff"/>
<use href="#h1" x="36.77" y="94.07" fill="#000aff"/>
<use href="#h1" x="40.00" y="94.07" fill="#00d0ff"/>
<use href="#h1" x="43.23" y="94.07" fill="#0070ff"/>
<use href="#h1" x="46.46" y="94.07" fill="#00ddff"/>
<use href="#h1" x="49.69" y="94.07" fill="#0030ff"/>
<use href="#h1" x="52.92" y="94.07" fill="#002dff"/>
<use href="#h1" x="56.15" y="94.07" fill="#0052ff"/>
<use href="#h1" x="59.38" y="94.07" fill="#26ffd9"/>
<use href="#h1" x="62.62" y="94.07" fill="#0098ff"/>
<use href="#h1" x="65.85" y="94.07" fill="#00c5ff"/>
<use href="#h1" x="69.08" y="94.07" fill="#00eaff"/>
<use href="#h1" x="72.31" y="94.07" fill="#007fff"/>
<use href="#h1" x="75.54" y="94.07" fill="#00a8ff"/>
<use href="#h1" x="78.77" y="94.07" fill="#00c9ff"/>
<use href="#h1" x="22.23" y="96.74" fill="#0000fa"/>
<use href="#h1" x="25.46" y="96.74" fill="#00e5ff"/>
<use href="#h1" x="28.69" y="96.74" fill="#0000e6"/>
<use href="#h1" x="31.92" y="96.74" fill="#0000d1"/>
<use href="#h1" x="35.15" y="96.74" fill="#0000fa"/>
<use href="#h1" x="38.38" y="96.74" fill="#0000e6"/>
<use href="#h1" x="41.62" y="96.74" fill="#000fff"/>
<use href="#h1" x="44.85" y="96.74" fill="#0000fa"/>
<use href="#h1" x="48.08" y="96.74" fill="#0000fa"/>
<use href="#h1" x="51.31" y="96.74" fill="#0000fa"/>
<use href="#h1" x="54.54" y="96.74" fill="#00e5ff"/>
<use href="#h1" x="57.77" y="96.74" fill="#0000e6"/>
<use href="#h1" x="61.00" y="96.74" fill="#0000e6"/>
<use href="#h1" x="64.23" y="96.74" fill="#0000d1"/>
<use href="#h1" x="67.46" y="96.74" fill="#00e5ff"/>
<use href="#h1" x="70.69" y="96.74" fill="#0000d1"/>
<use href="#h1" x="73.92" y="96.74" fill="#0000fa"/>
<use href="#h1" x="77.15" y="96.74" fill="#0000e6"/>
<use href="#h1" x="80.38" y="96.74" fill="#0000e6"/>
<use href="#h1" x="20.62" y="99.42" fill="#0000fa"/>
<use href="#h1" x="23.85" y="99.42" fill="#0000e6"/>
<use href="#h1" x="27.08" y="99.42" fill="#00e5ff"/>
<use href="#h1" x="30.31" y="99.42" fill="#000fff"/>
<use href="#h1" x="33.54" y="99.42" fill="#000fff"/>
<use href="#h1" x="36.77" y="99.42" fill="#0000fa"/>
<use href="#h1" x="40.00" y="99.42" fill="#000fff"/>
<use href="#h1" x="43.23" y="99.42" fill="#00e5ff"/>
<use href="#h1" x="46.46" y="99.42" fill="#00e5ff"/>
<use href="#h1" x="49.69" y="99.42" fill="#00e5ff"/>
<use href="#h1" x="52.92" y="99.42" fill="#0000e6"/>
<use href="#h1" x="56.15" y="99.42" fill="#0000fa"/>
<use href="#h1" x="59.38" y="99.42" fill="#0000fa"/>
<use href="#h1" x="62.62" y="99.42" fill="#00e5ff"/>
<use href="#h1" x="65.85" y="99.42" fill="#0000fa"/>
<use href="#h1" x="69.08" y="99.42" fill="#0000d1"/>
<use href="#h1" x="72.31" y="99.42" fill="#0000e6"/>
<use href="#h1" x="75.54" y="99.42" fill="#00e5ff"/>
<use href="#h1" x="78.77" y="99.42" fill="#000fff"/>
<rect x="91.6" y="16.6" width="6.0" height="85.8" fill="url(#jetg)"/>
<text x="100.4" y="20.6" class="cb">0.123</text>
<text x="100.4" y="42.0" class="cb">0.0993</text>
<text x="100.4" y="63.5" class="cb">0.0758</text>
<text x="100.4" y="84.9" class="cb">0.0523</text>
<text x="100.4" y="106.4" class="cb">0.0288</text>
<text x="154.3" y="14.1" class="tt" text-anchor="middle">Cr</text>
<defs><path id="h2" d="M0.00 -3.49 3.18 -1.74 3.18 1.74 0.00 3.49 -3.18 1.74 -3.18 -1.74 Z"/></defs>
<use href="#h2" x="127.20" y="22.29" fill="#ff4c00"/>
<use href="#h2" x="133.20" y="22.29" fill="#ff4c00"/>
<use href="#h2" x="139.20" y="22.29" fill="#ff6100"/>
<use href="#h2" x="145.20" y="22.29" fill="#ff6100"/>
<use href="#h2" x="151.20" y="22.29" fill="#ff2e00"/>
<use href="#h2" x="157.20" y="22.29" fill="#ff0f00"/>
<use href="#h2" x="163.20" y="22.29" fill="#ff0f00"/>
<use href="#h2" x="169.20" y="22.29" fill="#ff3800"/>
<use href="#h2" x="175.20" y="22.29" fill="#ff4c00"/>
<use href="#h2" x="181.20" y="22.29" fill="#ff6100"/>
<use href="#h2" x="130.20" y="27.22" fill="#ff9e00"/>
<use href="#h2" x="136.20" y="27.22" fill="#ff9e00"/>
<use href="#h2" x="142.20" y="27.22" fill="#ffb300"/>
<use href="#h2" x="148.20" y="27.22" fill="#ff9e00"/>
<use href="#h2" x="154.20" y="27.22" fill="#ff6100"/>
<use href="#h2" x="160.20" y="27.22" fill="#ff4c00"/>
<use href="#h2" x="166.20" y="27.22" fill="#ff4c00"/>
<use href="#h2" x="172.20" y="27.22" fill="#ff6100"/>
<use href="#h2" x="178.20" y="27.22" fill="#ff6100"/>
<use href="#h2" x="184.20" y="27.22" fill="#ff7500"/>
<use href="#h2" x="127.20" y="32.16" fill="#ffe500"/>
<use href="#h2" x="133.20" y="32.16" fill="#faff05"/>
<use href="#h2" x="139.20" y="32.16" fill="#ffe500"/>
<use href="#h2" x="145.20" y="32.16" fill="#ffc700"/>
<use href="#h2" x="151.20" y="32.16" fill="#ff9e00"/>
<use href="#h2" x="157.20" y="32.16" fill="#ff8000"/>
<use href="#h2" x="163.20" y="32.16" fill="#ff8000"/>
<use href="#h2" x="169.20" y="32.16" fill="#ff8000"/>
<use href="#h2" x="175.20" y="32.16" fill="#ff1a00"/>
<use href="#h2" x="181.20" y="32.16" fill="#fa0000"/>
<use href="#h2" x="130.20" y="37.09" fill="#b3ff4c"/>
<use href="#h2" x="136.20" y="37.09" fill="#b3ff4c"/>
<use href="#h2" x="142.20" y="37.09" fill="#d1ff2e"/>
<use href="#h2" x="148.20" y="37.09" fill="#faff05"/>
<use href="#h2" x="154.20" y="37.09" fill="#ffc700"/>
<use href="#h2" x="160.20" y="37.09" fill="#ffb300"/>
<use href="#h2" x="166.20" y="37.09" fill="#ff9e00"/>
<use href="#h2" x="172.20" y="37.09" fill="#ff6100"/>
<use href="#h2" x="178.20" y="37.09" fill="#e50000"/>
<use href="#h2" x="184.20" y="37.09" fill="#b30000"/>
<use href="#h2" x="127.20" y="42.03" fill="#4dffb2"/>
<use href="#h2" x="133.20" y="42.03" fill="#4dffb2"/>
<use href="#h2" x="139.20" y="42.03" fill="#80ff80"/>
<use href="#h2" x="145.20" y="42.03" fill="#b3ff4c"/>
<use href="#h2" x="151.20" y="42.03" fill="#faff05"/>
<use href="#h2" x="157.20" y="42.03" fill="#ffc700"/>
<use href="#h2" x="163.20" y="42.03" fill="#ffb300"/>
<use href="#h2" x="169.20" y="42.03" fill="#ff8000"/>
<use href="#h2" x="175.20" y="42.03" fill="#ff1a00"/>
<use href="#h2" x="181.20" y="42.03" fill="#ff1a00"/>
<use href="#h2" x="130.20" y="46.96" fill="#1affe5"/>
<use href="#h2" x="136.20" y="46.96" fill="#1affe5"/>
<use href="#h2" x="142.20" y="46.96" fill="#2effd1"/>
<use href="#h2" x="148.20" y="46.96" fill="#6bff94"/>
<use href="#h2" x="154.20" y="46.96" fill="#d1ff2e"/>
<use href="#h2" x="160.20" y="46.96" fill="#faff05"/>
<use href="#h2" x="166.20" y="46.96" fill="#ffe500"/>
<use href="#h2" x="172.20" y="46.96" fill="#ffc700"/>
<use href="#h2" x="178.20" y="46.96" fill="#ff9e00"/>
<use href="#h2" x="184.20" y="46.96" fill="#ff8000"/>
<use href="#h2" x="127.20" y="51.90" fill="#00e5ff"/>
<use href="#h2" x="133.20" y="51.90" fill="#00e5ff"/>
<use href="#h2" x="139.20" y="51.90" fill="#05fffa"/>
<use href="#h2" x="145.20" y="51.90" fill="#2effd1"/>
<use href="#h2" x="151.20" y="51.90" fill="#80ff80"/>
<use href="#h2" x="157.20" y="51.90" fill="#b3ff4c"/>
<use href="#h2" x="163.20" y="51.90" fill="#e5ff1a"/>
<use href="#h2" x="169.20" y="51.90" fill="#faff05"/>
<use href="#h2" x="175.20" y="51.90" fill="#ffe500"/>
<use href="#h2" x="181.20" y="51.90" fill="#ffe500"/>
<use href="#h2" x="130.20" y="56.83" fill="#00b2ff"/>
<use href="#h2" x="136.20" y="56.83" fill="#00c7ff"/>
<use href="#h2" x="142.20" y="56.83" fill="#00e5ff"/>
<use href="#h2" x="148.20" y="56.83" fill="#1affe5"/>
<use href="#h2" x="154.20" y="56.83" fill="#6bff94"/>
<use href="#h2" x="160.20" y="56.83" fill="#80ff80"/>
<use href="#h2" x="166.20" y="56.83" fill="#94ff6b"/>
<use href="#h2" x="172.20" y="56.83" fill="#b3ff4c"/>
<use href="#h2" x="178.20" y="56.83" fill="#94ff6b"/>
<use href="#h2" x="184.20" y="56.83" fill="#80ff80"/>
<use href="#h2" x="127.20" y="61.77" fill="#009eff"/>
<use href="#h2" x="133.20" y="61.77" fill="#00b2ff"/>
<use href="#h2" x="139.20" y="61.77" fill="#00d1ff"/>
<use href="#h2" x="145.20" y="61.77" fill="#05fffa"/>
<use href="#h2" x="151.20" y="61.77" fill="#4dffb2"/>
<use href="#h2" x="157.20" y="61.77" fill="#6bff94"/>
<use href="#h2" x="163.20" y="61.77" fill="#4dffb2"/>
<use href="#h2" x="169.20" y="61.77" fill="#2effd1"/>
<use href="#h2" x="175.20" y="61.77" fill="#1affe5"/>
<use href="#h2" x="181.20" y="61.77" fill="#05fffa"/>
<use href="#h2" x="130.20" y="66.70" fill="#0080ff"/>
<use href="#h2" x="136.20" y="66.70" fill="#0094ff"/>
<use href="#h2" x="142.20" y="66.70" fill="#00b2ff"/>
<use href="#h2" x="148.20" y="66.70" fill="#00e5ff"/>
<use href="#h2" x="154.20" y="66.70" fill="#2effd1"/>
<use href="#h2" x="160.20" y="66.70" fill="#2effd1"/>
<use href="#h2" x="166.20" y="66.70" fill="#05fffa"/>
<use href="#h2" x="172.20" y="66.70" fill="#00e5ff"/>
<use href="#h2" x="178.20" y="66.70" fill="#00c7ff"/>
<use href="#h2" x="184.20" y="66.70" fill="#00b2ff"/>
<use href="#h2" x="127.20" y="71.64" fill="#006bff"/>
<use href="#h2" x="133.20" y="71.64" fill="#0080ff"/>
<use href="#h2" x="139.20" y="71.64" fill="#009eff"/>
<use href="#h2" x="145.20" y="71.64" fill="#00b2ff"/>
<use href="#h2" x="151.20" y="71.64" fill="#00e5ff"/>
<use href="#h2" x="157.20" y="71.64" fill="#00e5ff"/>
<use href="#h2" x="163.20" y="71.64" fill="#00c7ff"/>
<use href="#h2" x="169.20" y="71.64" fill="#00b2ff"/>
<use href="#h2" x="175.20" y="71.64" fill="#009eff"/>
<use href="#h2" x="181.20" y="71.64" fill="#009eff"/>
<use href="#h2" x="130.20" y="76.57" fill="#0061ff"/>
<use href="#h2" x="136.20" y="76.57" fill="#0075ff"/>
<use href="#h2" x="142.20" y="76.57" fill="#0080ff"/>
<use href="#h2" x="148.20" y="76.57" fill="#0080ff"/>
<use href="#h2" x="154.20" y="76.57" fill="#0080ff"/>
<use href="#h2" x="160.20" y="76.57" fill="#0080ff"/>
<use href="#h2" x="166.20" y="76.57" fill="#0094ff"/>
<use href="#h2" x="172.20" y="76.57" fill="#009eff"/>
<use href="#h2" x="178.20" y="76.57" fill="#00b2ff"/>
<use href="#h2" x="184.20" y="76.57" fill="#00b2ff"/>
<use href="#h2" x="127.20" y="81.51" fill="#004dff"/>
<use href="#h2" x="133.20" y="81.51" fill="#0061ff"/>
<use href="#h2" x="139.20" y="81.51" fill="#0061ff"/>
<use href="#h2" x="145.20" y="81.51" fill="#004dff"/>
<use href="#h2" x="151.20" y="81.51" fill="#004dff"/>
<use href="#h2" x="157.20" y="81.51" fill="#0038ff"/>
<use href="#h2" x="163.20" y="81.51" fill="#004dff"/>
<use href="#h2" x="169.20" y="81.51" fill="#0094ff"/>
<use href="#h2" x="175.20" y="81.51" fill="#00b2ff"/>
<use href="#h2" x="181.20" y="81.51" fill="#00b2ff"/>
<use href="#h2" x="130.20" y="86.44" fill="#004dff"/>
<use href="#h2" x="136.20" y="86.44" fill="#004dff"/>
<use href="#h2" x="142.20" y="86.44" fill="#0038ff"/>
<use href="#h2" x="148.20" y="86.44" fill="#001aff"/>
<use href="#h2" x="154.20" y="86.44" fill="#0005ff"/>
<use href="#h2" x="160.20" y="86.44" fill="#0000fa"/>
<use href="#h2" x="166.20" y="86.44" fill="#001aff"/>
<use href="#h2" x="172.20" y="86.44" fill="#0080ff"/>
<use href="#h2" x="178.20" y="86.44" fill="#00b2ff"/>
<use href="#h2" x="184.20" y="86.44" fill="#009eff"/>
<use href="#h2" x="127.20" y="91.38" fill="#004dff"/>
<use href="#h2" x="133.20" y="91.38" fill="#0038ff"/>
<use href="#h2" x="139.20" y="91.38" fill="#001aff"/>
<use href="#h2" x="145.20" y="91.38" fill="#0000fa"/>
<use href="#h2" x="151.20" y="91.38" fill="#0000d1"/>
<use href="#h2" x="157.20" y="91.38" fill="#0000bd"/>
<use href="#h2" x="163.20" y="91.38" fill="#0000e6"/>
<use href="#h2" x="169.20" y="91.38" fill="#004dff"/>
<use href="#h2" x="175.20" y="91.38" fill="#0080ff"/>
<use href="#h2" x="181.20" y="91.38" fill="#0061ff"/>
<use href="#h2" x="130.20" y="96.31" fill="#004dff"/>
<use href="#h2" x="136.20" y="96.31" fill="#0038ff"/>
<use href="#h2" x="142.20" y="96.31" fill="#001aff"/>
<use href="#h2" x="148.20" y="96.31" fill="#0005ff"/>
<use href="#h2" x="154.20" y="96.31" fill="#0000e6"/>
<use href="#h2" x="160.20" y="96.31" fill="#0000d1"/>
<use href="#h2" x="166.20" y="96.31" fill="#0000fa"/>
<use href="#h2" x="172.20" y="96.31" fill="#0038ff"/>
<use href="#h2" x="178.20" y="96.31" fill="#004dff"/>
<use href="#h2" x="184.20" y="96.31" fill="#004dff"/>
<rect x="195.8" y="19.0" width="6.2" height="81.0" fill="url(#jetg)"/>
<text x="204.8" y="23.0" class="cb">0.517</text>
<text x="204.8" y="43.2" class="cb">0.424</text>
<text x="204.8" y="63.5" class="cb">0.331</text>
<text x="204.8" y="83.8" class="cb">0.238</text>
<text x="204.8" y="104.0" class="cb">0.145</text>
<text x="261.3" y="14.1" class="tt" text-anchor="middle">Cd</text>
<defs><path id="h3" d="M0.00 -3.49 3.18 -1.74 3.18 1.74 0.00 3.49 -3.18 1.74 -3.18 -1.74 Z"/></defs>
<use href="#h3" x="234.20" y="22.29" fill="#b30000"/>
<use href="#h3" x="240.20" y="22.29" fill="#e50000"/>
<use href="#h3" x="246.20" y="22.29" fill="#ff4c00"/>
<use href="#h3" x="252.20" y="22.29" fill="#ffe500"/>
<use href="#h3" x="258.20" y="22.29" fill="#b3ff4c"/>
<use href="#h3" x="264.20" y="22.29" fill="#80ff80"/>
<use href="#h3" x="270.20" y="22.29" fill="#4dffb2"/>
<use href="#h3" x="276.20" y="22.29" fill="#2effd1"/>
<use href="#h3" x="282.20" y="22.29" fill="#1affe5"/>
<use href="#h3" x="288.20" y="22.29" fill="#1affe5"/>
<use href="#h3" x="237.20" y="27.22" fill="#b30000"/>
<use href="#h3" x="243.20" y="27.22" fill="#fa0000"/>
<use href="#h3" x="249.20" y="27.22" fill="#ff8000"/>
<use href="#h3" x="255.20" y="27.22" fill="#faff05"/>
<use href="#h3" x="261.20" y="27.22" fill="#94ff6b"/>
<use href="#h3" x="267.20" y="27.22" fill="#6bff94"/>
<use href="#h3" x="273.20" y="27.22" fill="#4dffb2"/>
<use href="#h3" x="279.20" y="27.22" fill="#2effd1"/>
<use href="#h3" x="285.20" y="27.22" fill="#1affe5"/>
<use href="#h3" x="291.20" y="27.22" fill="#05fffa"/>
<use href="#h3" x="234.20" y="32.16" fill="#b30000"/>
<use href="#h3" x="240.20" y="32.16" fill="#ff1a00"/>
<use href="#h3" x="246.20" y="32.16" fill="#ffb300"/>
<use href="#h3" x="252.20" y="32.16" fill="#e5ff1a"/>
<use href="#h3" x="258.20" y="32.16" fill="#80ff80"/>
<use href="#h3" x="264.20" y="32.16" fill="#6bff94"/>
<use href="#h3" x="270.20" y="32.16" fill="#2effd1"/>
<use href="#h3" x="276.20" y="32.16" fill="#05fffa"/>
<use href="#h3" x="282.20" y="32.16" fill="#00e5ff"/>
<use href="#h3" x="288.20" y="32.16" fill="#00d1ff"/>
<use href="#h3" x="237.20" y="37.09" fill="#ff1a00"/>
<use href="#h3" x="243.20" y="37.09" fill="#ff6100"/>
<use href="#h3" x="249.20" y="37.09" fill="#ffe500"/>
<use href="#h3" x="255.20" y="37.09" fill="#b3ff4c"/>
<use href="#h3" x="261.20" y="37.09" fill="#6bff94"/>
<use href="#h3" x="267.20" y="37.09" fill="#4dffb2"/>
<use href="#h3" x="273.20" y="37.09" fill="#05fffa"/>
<use href="#h3" x="279.20" y="37.09" fill="#00b2ff"/>
<use href="#h3" x="285.20" y="37.09" fill="#0080ff"/>
<use href="#h3" x="291.20" y="37.09" fill="#0080ff"/>
<use href="#h3" x="234.20" y="42.03" fill="#ff6100"/>
<use href="#h3" x="240.20" y="42.03" fill="#ffb300"/>
<use href="#h3" x="246.20" y="42.03" fill="#e5ff1a"/>
<use href="#h3" x="252.20" y="42.03" fill="#94ff6b"/>
<use href="#h3" x="258.20" y="42.03" fill="#6bff94"/>
<use href="#h3" x="264.20" y="42.03" fill="#2effd1"/>
<use href="#h3" x="270.20" y="42.03" fill="#00d1ff"/>
<use href="#h3" x="276.20" y="42.03" fill="#0080ff"/>
<use href="#h3" x="282.20" y="42.03" fill="#004dff"/>
<use href="#h3" x="288.20" y="42.03" fill="#0061ff"/>
<use href="#h3" x="237.20" y="46.96" fill="#ffe500"/>
<use href="#h3" x="243.20" y="46.96" fill="#ffe500"/>
<use href="#h3" x="249.20" y="46.96" fill="#d1ff2e"/>
<use href="#h3" x="255.20" y="46.96" fill="#80ff80"/>
<use href="#h3" x="261.20" y="46.96" fill="#4dffb2"/>
<use href="#h3" x="267.20" y="46.96" fill="#1affe5"/>
<use href="#h3" x="273.20" y="46.96" fill="#00b2ff"/>
<use href="#h3" x="279.20" y="46.96" fill="#0061ff"/>
<use href="#h3" x="285.20" y="46.96" fill="#004dff"/>
<use href="#h3" x="291.20" y="46.96" fill="#0061ff"/>
<use href="#h3" x="234.20" y="51.90" fill="#faff05"/>
<use href="#h3" x="240.20" y="51.90" fill="#faff05"/>
<use href="#h3" x="246.20" y="51.90" fill="#d1ff2e"/>
<use href="#h3" x="252.20" y="51.90" fill="#80ff80"/>
<use href="#h3" x="258.20" y="51.90" fill="#4dffb2"/>
<use href="#h3" x="264.20" y="51.90" fill="#05fffa"/>
<use href="#h3" x="270.20" y="51.90" fill="#009eff"/>
<use href="#h3" x="276.20" y="51.90" fill="#0080ff"/>
<use href="#h3" x="282.20" y="51.90" fill="#0080ff"/>
<use href="#h3" x="288.20" y="51.90" fill="#00b2ff"/>
<use href="#h3" x="237.20" y="56.83" fill="#faff05"/>
<use href="#h3" x="243.20" y="56.83" fill="#faff05"/>
<use href="#h3" x="249.20" y="56.83" fill="#d1ff2e"/>
<use href="#h3" x="255.20" y="56.83" fill="#80ff80"/>
<use href="#h3" x="261.20" y="56.83" fill="#2effd1"/>
<use href="#h3" x="267.20" y="56.83" fill="#00b2ff"/>
<use href="#h3" x="273.20" y="56.83" fill="#0061ff"/>
<use href="#h3" x="279.20" y="56.83" fill="#0080ff"/>
<use href="#h3" x="285.20" y="56.83" fill="#00b2ff"/>
<use href="#h3" x="291.20" y="56.83" fill="#00e5ff"/>
<use href="#h3" x="234.20" y="61.77" fill="#faff05"/>
<use href="#h3" x="240.20" y="61.77" fill="#e5ff1a"/>
<use href="#h3" x="246.20" y="61.77" fill="#b3ff4c"/>
<use href="#h3" x="252.20" y="61.77" fill="#4dffb2"/>
<use href="#h3" x="258.20" y="61.77" fill="#00e5ff"/>
<use href="#h3" x="264.20" y="61.77" fill="#0061ff"/>
<use href="#h3" x="270.20" y="61.77" fill="#0038ff"/>
<use href="#h3" x="276.20" y="61.77" fill="#0061ff"/>
<use href="#h3" x="282.20" y="61.77" fill="#00c7ff"/>
<use href="#h3" x="288.20" y="61.77" fill="#05fffa"/>
<use href="#h3" x="237.20" y="66.70" fill="#e5ff1a"/>
<use href="#h3" x="243.20" y="66.70" fill="#d1ff2e"/>
<use href="#h3" x="249.20" y="66.70" fill="#80ff80"/>
<use href="#h3" x="255.20" y="66.70" fill="#2effd1"/>
<use href="#h3" x="261.20" y="66.70" fill="#00b2ff"/>
<use href="#h3" x="267.20" y="66.70" fill="#004dff"/>
<use href="#h3" x="273.20" y="66.70" fill="#001aff"/>
<use href="#h3" x="279.20" y="66.70" fill="#004dff"/>
<use href="#h3" x="285.20" y="66.70" fill="#00b2ff"/>
<use href="#h3" x="291.20" y="66.70" fill="#00e5ff"/>
<use href="#h3" x="234.20" y="71.64" fill="#b3ff4c"/>
<use href="#h3" x="240.20" y="71.64" fill="#94ff6b"/>
<use href="#h3" x="246.20" y="71.64" fill="#4dffb2"/>
<use href="#h3" x="252.20" y="71.64" fill="#05fffa"/>
<use href="#h3" x="258.20" y="71.64" fill="#00b2ff"/>
<use href="#h3" x="264.20" y="71.64" fill="#0061ff"/>
<use href="#h3" x="270.20" y="71.64" fill="#001aff"/>
<use href="#h3" x="276.20" y="71.64" fill="#0038ff"/>
<use href="#h3" x="282.20" y="71.64" fill="#0080ff"/>
<use href="#h3" x="288.20" y="71.64" fill="#00b2ff"/>
<use href="#h3" x="237.20" y="76.57" fill="#6bff94"/>
<use href="#h3" x="243.20" y="76.57" fill="#4dffb2"/>
<use href="#h3" x="249.20" y="76.57" fill="#1affe5"/>
<use href="#h3" x="255.20" y="76.57" fill="#00f0ff"/>
<use href="#h3" x="261.20" y="76.57" fill="#00d1ff"/>
<use href="#h3" x="267.20" y="76.57" fill="#009eff"/>
<use href="#h3" x="273.20" y="76.57" fill="#004dff"/>
<use href="#h3" x="279.20" y="76.57" fill="#001aff"/>
<use href="#h3" x="285.20" y="76.57" fill="#0038ff"/>
<use href="#h3" x="291.20" y="76.57" fill="#0061ff"/>
<use href="#h3" x="234.20" y="81.51" fill="#05fffa"/>
<use href="#h3" x="240.20" y="81.51" fill="#05fffa"/>
<use href="#h3" x="246.20" y="81.51" fill="#00f0ff"/>
<use href="#h3" x="252.20" y="81.51" fill="#00e5ff"/>
<use href="#h3" x="258.20" y="81.51" fill="#00e5ff"/>
<use href="#h3" x="264.20" y="81.51" fill="#00b2ff"/>
<use href="#h3" x="270.20" y="81.51" fill="#0061ff"/>
<use href="#h3" x="276.20" y="81.51" fill="#0000fa"/>
<use href="#h3" x="282.20" y="81.51" fill="#0000fa"/>
<use href="#h3" x="288.20" y="81.51" fill="#001aff"/>
<use href="#h3" x="237.20" y="86.44" fill="#0080ff"/>
<use href="#h3" x="243.20" y="86.44" fill="#00b2ff"/>
<use href="#h3" x="249.20" y="86.44" fill="#00d1ff"/>
<use href="#h3" x="255.20" y="86.44" fill="#00e5ff"/>
<use href="#h3" x="261.20" y="86.44" fill="#00e5ff"/>
<use href="#h3" x="267.20" y="86.44" fill="#00b2ff"/>
<use href="#h3" x="273.20" y="86.44" fill="#0061ff"/>
<use href="#h3" x="279.20" y="86.44" fill="#0000e6"/>
<use href="#h3" x="285.20" y="86.44" fill="#0000d1"/>
<use href="#h3" x="291.20" y="86.44" fill="#0000e6"/>
<use href="#h3" x="234.20" y="91.38" fill="#001aff"/>
<use href="#h3" x="240.20" y="91.38" fill="#0038ff"/>
<use href="#h3" x="246.20" y="91.38" fill="#0080ff"/>
<use href="#h3" x="252.20" y="91.38" fill="#00d1ff"/>
<use href="#h3" x="258.20" y="91.38" fill="#00e5ff"/>
<use href="#h3" x="264.20" y="91.38" fill="#00b2ff"/>
<use href="#h3" x="270.20" y="91.38" fill="#004dff"/>
<use href="#h3" x="276.20" y="91.38" fill="#0000e6"/>
<use href="#h3" x="282.20" y="91.38" fill="#0000d1"/>
<use href="#h3" x="288.20" y="91.38" fill="#0000d1"/>
<use href="#h3" x="237.20" y="96.31" fill="#0000fa"/>
<use href="#h3" x="243.20" y="96.31" fill="#001aff"/>
<use href="#h3" x="249.20" y="96.31" fill="#004dff"/>
<use href="#h3" x="255.20" y="96.31" fill="#00b2ff"/>
<use href="#h3" x="261.20" y="96.31" fill="#00e5ff"/>
<use href="#h3" x="267.20" y="96.31" fill="#00b2ff"/>
<use href="#h3" x="273.20" y="96.31" fill="#0038ff"/>
<use href="#h3" x="279.20" y="96.31" fill="#0000e6"/>
<use href="#h3" x="285.20" y="96.31" fill="#0000bd"/>
<use href="#h3" x="291.20" y="96.31" fill="#0000bd"/>
<rect x="302.8" y="19.0" width="6.2" height="81.0" fill="url(#jetg)"/>
<text x="311.8" y="23.0" class="cb">0.553</text>
<text x="311.8" y="43.2" class="cb">0.445</text>
<text x="311.8" y="63.5" class="cb">0.338</text>
<text x="311.8" y="83.8" class="cb">0.23</text>
<text x="311.8" y="104.0" class="cb">0.123</text>
<text x="368.5" y="14.1" class="tt" text-anchor="middle">Pb</text>
<defs><path id="h4" d="M0.00 -3.49 3.18 -1.74 3.18 1.74 0.00 3.49 -3.18 1.74 -3.18 -1.74 Z"/></defs>
<use href="#h4" x="341.40" y="22.29" fill="#b30000"/>
<use href="#h4" x="347.40" y="22.29" fill="#ff1a00"/>
<use href="#h4" x="353.40" y="22.29" fill="#ff4c00"/>
<use href="#h4" x="359.40" y="22.29" fill="#ff8000"/>
<use href="#h4" x="365.40" y="22.29" fill="#ff8000"/>
<use href="#h4" x="371.40" y="22.29" fill="#ff6100"/>
<use href="#h4" x="377.40" y="22.29" fill="#ff1a00"/>
<use href="#h4" x="383.40" y="22.29" fill="#ff1a00"/>
<use href="#h4" x="389.40" y="22.29" fill="#ff1a00"/>
<use href="#h4" x="395.40" y="22.29" fill="#ff3800"/>
<use href="#h4" x="344.40" y="27.22" fill="#fa0000"/>
<use href="#h4" x="350.40" y="27.22" fill="#ff3800"/>
<use href="#h4" x="356.40" y="27.22" fill="#ff8000"/>
<use href="#h4" x="362.40" y="27.22" fill="#ffb300"/>
<use href="#h4" x="368.40" y="27.22" fill="#ff9e00"/>
<use href="#h4" x="374.40" y="27.22" fill="#ff8000"/>
<use href="#h4" x="380.40" y="27.22" fill="#ff4c00"/>
<use href="#h4" x="386.40" y="27.22" fill="#ff3800"/>
<use href="#h4" x="392.40" y="27.22" fill="#ff4c00"/>
<use href="#h4" x="398.40" y="27.22" fill="#ff9e00"/>
<use href="#h4" x="341.40" y="32.16" fill="#ff4c00"/>
<use href="#h4" x="347.40" y="32.16" fill="#ff8000"/>
<use href="#h4" x="353.40" y="32.16" fill="#ffb300"/>
<use href="#h4" x="359.40" y="32.16" fill="#ffe500"/>
<use href="#h4" x="365.40" y="32.16" fill="#ffc700"/>
<use href="#h4" x="371.40" y="32.16" fill="#ff9e00"/>
<use href="#h4" x="377.40" y="32.16" fill="#ff9e00"/>
<use href="#h4" x="383.40" y="32.16" fill="#ffb300"/>
<use href="#h4" x="389.40" y="32.16" fill="#ffe500"/>
<use href="#h4" x="395.40" y="32.16" fill="#e5ff1a"/>
<use href="#h4" x="344.40" y="37.09" fill="#ffb300"/>
<use href="#h4" x="350.40" y="37.09" fill="#ffc700"/>
<use href="#h4" x="356.40" y="37.09" fill="#ffe500"/>
<use href="#h4" x="362.40" y="37.09" fill="#faff05"/>
<use href="#h4" x="368.40" y="37.09" fill="#faff05"/>
<use href="#h4" x="374.40" y="37.09" fill="#ffe500"/>
<use href="#h4" x="380.40" y="37.09" fill="#ffe500"/>
<use href="#h4" x="386.40" y="37.09" fill="#e5ff1a"/>
<use href="#h4" x="392.40" y="37.09" fill="#b3ff4c"/>
<use href="#h4" x="398.40" y="37.09" fill="#80ff80"/>
<use href="#h4" x="341.40" y="42.03" fill="#faff05"/>
<use href="#h4" x="347.40" y="42.03" fill="#faff05"/>
<use href="#h4" x="353.40" y="42.03" fill="#e5ff1a"/>
<use href="#h4" x="359.40" y="42.03" fill="#e5ff1a"/>
<use href="#h4" x="365.40" y="42.03" fill="#faff05"/>
<use href="#h4" x="371.40" y="42.03" fill="#faff05"/>
<use href="#h4" x="377.40" y="42.03" fill="#d1ff2e"/>
<use href="#h4" x="383.40" y="42.03" fill="#94ff6b"/>
<use href="#h4" x="389.40" y="42.03" fill="#6bff94"/>
<use href="#h4" x="395.40" y="42.03" fill="#4dffb2"/>
<use href="#h4" x="344.40" y="46.96" fill="#e5ff1a"/>
<use href="#h4" x="350.40" y="46.96" fill="#e5ff1a"/>
<use href="#h4" x="356.40" y="46.96" fill="#b3ff4c"/>
<use href="#h4" x="362.40" y="46.96" fill="#80ff80"/>
<use href="#h4" x="368.40" y="46.96" fill="#94ff6b"/>
<use href="#h4" x="374.40" y="46.96" fill="#94ff6b"/>
<use href="#h4" x="380.40" y="46.96" fill="#80ff80"/>
<use href="#h4" x="386.40" y="46.96" fill="#4dffb2"/>
<use href="#h4" x="392.40" y="46.96" fill="#2effd1"/>
<use href="#h4" x="398.40" y="46.96" fill="#1affe5"/>
<use href="#h4" x="341.40" y="51.90" fill="#6bff94"/>
<use href="#h4" x="347.40" y="51.90" fill="#6bff94"/>
<use href="#h4" x="353.40" y="51.90" fill="#6bff94"/>
<use href="#h4" x="359.40" y="51.90" fill="#4dffb2"/>
<use href="#h4" x="365.40" y="51.90" fill="#4dffb2"/>
<use href="#h4" x="371.40" y="51.90" fill="#4dffb2"/>
<use href="#h4" x="377.40" y="51.90" fill="#4dffb2"/>
<use href="#h4" x="383.40" y="51.90" fill="#2effd1"/>
<use href="#h4" x="389.40" y="51.90" fill="#1affe5"/>
<use href="#h4" x="395.40" y="51.90" fill="#1affe5"/>
<use href="#h4" x="344.40" y="56.83" fill="#2effd1"/>
<use href="#h4" x="350.40" y="56.83" fill="#2effd1"/>
<use href="#h4" x="356.40" y="56.83" fill="#2effd1"/>
<use href="#h4" x="362.40" y="56.83" fill="#2effd1"/>
<use href="#h4" x="368.40" y="56.83" fill="#1affe5"/>
<use href="#h4" x="374.40" y="56.83" fill="#1affe5"/>
<use href="#h4" x="380.40" y="56.83" fill="#1affe5"/>
<use href="#h4" x="386.40" y="56.83" fill="#1affe5"/>
<use href="#h4" x="392.40" y="56.83" fill="#05fffa"/>
<use href="#h4" x="398.40" y="56.83" fill="#05fffa"/>
<use href="#h4" x="341.40" y="61.77" fill="#00e5ff"/>
<use href="#h4" x="347.40" y="61.77" fill="#05fffa"/>
<use href="#h4" x="353.40" y="61.77" fill="#1affe5"/>
<use href="#h4" x="359.40" y="61.77" fill="#1affe5"/>
<use href="#h4" x="365.40" y="61.77" fill="#05fffa"/>
<use href="#h4" x="371.40" y="61.77" fill="#00f0ff"/>
<use href="#h4" x="377.40" y="61.77" fill="#05fffa"/>
<use href="#h4" x="383.40" y="61.77" fill="#1affe5"/>
<use href="#h4" x="389.40" y="61.77" fill="#05fffa"/>
<use href="#h4" x="395.40" y="61.77" fill="#00e5ff"/>
<use href="#h4" x="344.40" y="66.70" fill="#00c7ff"/>
<use href="#h4" x="350.40" y="66.70" fill="#00e5ff"/>
<use href="#h4" x="356.40" y="66.70" fill="#05fffa"/>
<use href="#h4" x="362.40" y="66.70" fill="#05fffa"/>
<use href="#h4" x="368.40" y="66.70" fill="#00e5ff"/>
<use href="#h4" x="374.40" y="66.70" fill="#00b2ff"/>
<use href="#h4" x="380.40" y="66.70" fill="#00e5ff"/>
<use href="#h4" x="386.40" y="66.70" fill="#1affe5"/>
<use href="#h4" x="392.40" y="66.70" fill="#05fffa"/>
<use href="#h4" x="398.40" y="66.70" fill="#00d1ff"/>
<use href="#h4" x="341.40" y="71.64" fill="#00b2ff"/>
<use href="#h4" x="347.40" y="71.64" fill="#00d1ff"/>
<use href="#h4" x="353.40" y="71.64" fill="#00f0ff"/>
<use href="#h4" x="359.40" y="71.64" fill="#00f0ff"/>
<use href="#h4" x="365.40" y="71.64" fill="#00b2ff"/>
<use href="#h4" x="371.40" y="71.64" fill="#0080ff"/>
<use href="#h4" x="377.40" y="71.64" fill="#00b2ff"/>
<use href="#h4" x="383.40" y="71.64" fill="#00e5ff"/>
<use href="#h4" x="389.40" y="71.64" fill="#00d1ff"/>
<use href="#h4" x="395.40" y="71.64" fill="#00b2ff"/>
<use href="#h4" x="344.40" y="76.57" fill="#009eff"/>
<use href="#h4" x="350.40" y="76.57" fill="#00b2ff"/>
<use href="#h4" x="356.40" y="76.57" fill="#00d1ff"/>
<use href="#h4" x="362.40" y="76.57" fill="#00d1ff"/>
<use href="#h4" x="368.40" y="76.57" fill="#009eff"/>
<use href="#h4" x="374.40" y="76.57" fill="#0061ff"/>
<use href="#h4" x="380.40" y="76.57" fill="#0080ff"/>
<use href="#h4" x="386.40" y="76.57" fill="#009eff"/>
<use href="#h4" x="392.40" y="76.57" fill="#0080ff"/>
<use href="#h4" x="398.40" y="76.57" fill="#0061ff"/>
<use href="#h4" x="341.40" y="81.51" fill="#0080ff"/>
<use href="#h4" x="347.40" y="81.51" fill="#009eff"/>
<use href="#h4" x="353.40" y="81.51" fill="#00b2ff"/>
<use href="#h4" x="359.40" y="81.51" fill="#00b2ff"/>
<use href="#h4" x="365.40" y="81.51" fill="#0080ff"/>
<use href="#h4" x="371.40" y="81.51" fill="#004dff"/>
<use href="#h4" x="377.40" y="81.51" fill="#004dff"/>
<use href="#h4" x="383.40" y="81.51" fill="#0038ff"/>
<use href="#h4" x="389.40" y="81.51" fill="#0038ff"/>
<use href="#h4" x="395.40" y="81.51" fill="#0038ff"/>
<use href="#h4" x="344.40" y="86.44" fill="#0061ff"/>
<use href="#h4" x="350.40" y="86.44" fill="#0080ff"/>
<use href="#h4" x="356.40" y="86.44" fill="#0080ff"/>
<use href="#h4" x="362.40" y="86.44" fill="#0080ff"/>
<use href="#h4" x="368.40" y="86.44" fill="#0061ff"/>
<use href="#h4" x="374.40" y="86.44" fill="#0038ff"/>
<use href="#h4" x="380.40" y="86.44" fill="#001aff"/>
<use href="#h4" x="386.40" y="86.44" fill="#0000fa"/>
<use href="#h4" x="392.40" y="86.44" fill="#0000fa"/>
<use href="#h4" x="398.40" y="86.44" fill="#001aff"/>
<use href="#h4" x="341.40" y="91.38" fill="#0038ff"/>
<use href="#h4" x="347.40" y="91.38" fill="#004dff"/>
<use href="#h4" x="353.40" y="91.38" fill="#004dff"/>
<use href="#h4" x="359.40" y="91.38" fill="#004dff"/>
<use href="#h4" x="365.40" y="91.38" fill="#0038ff"/>
<use href="#h4" x="371.40" y="91.38" fill="#001aff"/>
<use href="#h4" x="377.40" y="91.38" fill="#0000e6"/>
<use href="#h4" x="383.40" y="91.38" fill="#0000bd"/>
<use href="#h4" x="389.40" y="91.38" fill="#0000d1"/>
<use href="#h4" x="395.40" y="91.38" fill="#0000fa"/>
<use href="#h4" x="344.40" y="96.31" fill="#001aff"/>
<use href="#h4" x="350.40" y="96.31" fill="#001aff"/>
<use href="#h4" x="356.40" y="96.31" fill="#001aff"/>
<use href="#h4" x="362.40" y="96.31" fill="#001aff"/>
<use href="#h4" x="368.40" y="96.31" fill="#001aff"/>
<use href="#h4" x="374.40" y="96.31" fill="#0000fa"/>
<use href="#h4" x="380.40" y="96.31" fill="#0000e6"/>
<use href="#h4" x="386.40" y="96.31" fill="#0000b2"/>
<use href="#h4" x="392.40" y="96.31" fill="#0000d1"/>
<use href="#h4" x="398.40" y="96.31" fill="#0000fa"/>
<rect x="410.0" y="19.0" width="6.2" height="81.0" fill="url(#jetg)"/>
<text x="419.0" y="23.0" class="cb">0.427</text>
<text x="419.0" y="43.2" class="cb">0.358</text>
<text x="419.0" y="63.5" class="cb">0.289</text>
<text x="419.0" y="83.8" class="cb">0.22</text>
<text x="419.0" y="104.0" class="cb">0.151</text>
<text x="475.3" y="14.1" class="tt" text-anchor="middle">Zn</text>
<defs><path id="h5" d="M0.00 -3.49 3.18 -1.74 3.18 1.74 0.00 3.49 -3.18 1.74 -3.18 -1.74 Z"/></defs>
<use href="#h5" x="448.20" y="22.29" fill="#b30000"/>
<use href="#h5" x="454.20" y="22.29" fill="#fa0000"/>
<use href="#h5" x="460.20" y="22.29" fill="#ff8000"/>
<use href="#h5" x="466.20" y="22.29" fill="#ffc700"/>
<use href="#h5" x="472.20" y="22.29" fill="#ffc700"/>
<use href="#h5" x="478.20" y="22.29" fill="#ffb300"/>
<use href="#h5" x="484.20" y="22.29" fill="#ff9e00"/>
<use href="#h5" x="490.20" y="22.29" fill="#ff8000"/>
<use href="#h5" x="496.20" y="22.29" fill="#ff9e00"/>
<use href="#h5" x="502.20" y="22.29" fill="#ffc700"/>
<use href="#h5" x="451.20" y="27.22" fill="#fa0000"/>
<use href="#h5" x="457.20" y="27.22" fill="#ff4c00"/>
<use href="#h5" x="463.20" y="27.22" fill="#ff9e00"/>
<use href="#h5" x="469.20" y="27.22" fill="#ffc700"/>
<use href="#h5" x="475.20" y="27.22" fill="#ffc700"/>
<use href="#h5" x="481.20" y="27.22" fill="#ffb300"/>
<use href="#h5" x="487.20" y="27.22" fill="#ffb300"/>
<use href="#h5" x="493.20" y="27.22" fill="#ff9e00"/>
<use href="#h5" x="499.20" y="27.22" fill="#ffc700"/>
<use href="#h5" x="505.20" y="27.22" fill="#faff05"/>
<use href="#h5" x="448.20" y="32.16" fill="#ff8000"/>
<use href="#h5" x="454.20" y="32.16" fill="#ff9e00"/>
<use href="#h5" x="460.20" y="32.16" fill="#ffc700"/>
<use href="#h5" x="466.20" y="32.16" fill="#ffe500"/>
<use href="#h5" x="472.20" y="32.16" fill="#ffe500"/>
<use href="#h5" x="478.20" y="32.16" fill="#ffc700"/>
<use href="#h5" x="484.20" y="32.16" fill="#ffc700"/>
<use href="#h5" x="490.20" y="32.16" fill="#ffe500"/>
<use href="#h5" x="496.20" y="32.16" fill="#e5ff1a"/>
<use href="#h5" x="502.20" y="32.16" fill="#b3ff4c"/>
<use href="#h5" x="451.20" y="37.09" fill="#e5ff1a"/>
<use href="#h5" x="457.20" y="37.09" fill="#faff05"/>
<use href="#h5" x="463.20" y="37.09" fill="#ffe500"/>
<use href="#h5" x="469.20" y="37.09" fill="#faff05"/>
<use href="#h5" x="475.20" y="37.09" fill="#e5ff1a"/>
<use href="#h5" x="481.20" y="37.09" fill="#e5ff1a"/>
<use href="#h5" x="487.20" y="37.09" fill="#d1ff2e"/>
<use href="#h5" x="493.20" y="37.09" fill="#b3ff4c"/>
<use href="#h5" x="499.20" y="37.09" fill="#80ff80"/>
<use href="#h5" x="505.20" y="37.09" fill="#80ff80"/>
<use href="#h5" x="448.20" y="42.03" fill="#6bff94"/>
<use href="#h5" x="454.20" y="42.03" fill="#b3ff4c"/>
<use href="#h5" x="460.20" y="42.03" fill="#faff05"/>
<use href="#h5" x="466.20" y="42.03" fill="#b3ff4c"/>
<use href="#h5" x="472.20" y="42.03" fill="#80ff80"/>
<use href="#h5" x="478.20" y="42.03" fill="#6bff94"/>
<use href="#h5" x="484.20" y="42.03" fill="#6bff94"/>
<use href="#h5" x="490.20" y="42.03" fill="#6bff94"/>
<use href="#h5" x="496.20" y="42.03" fill="#61ff9e"/>
<use href="#h5" x="502.20" y="42.03" fill="#61ff9e"/>
<use href="#h5" x="451.20" y="46.96" fill="#4dffb2"/>
<use href="#h5" x="457.20" y="46.96" fill="#4dffb2"/>
<use href="#h5" x="463.20" y="46.96" fill="#4dffb2"/>
<use href="#h5" x="469.20" y="46.96" fill="#4dffb2"/>
<use href="#h5" x="475.20" y="46.96" fill="#4dffb2"/>
<use href="#h5" x="481.20" y="46.96" fill="#4dffb2"/>
<use href="#h5" x="487.20" y="46.96" fill="#4dffb2"/>
<use href="#h5" x="493.20" y="46.96" fill="#4dffb2"/>
<use href="#h5" x="499.20" y="46.96" fill="#4dffb2"/>
<use href="#h5" x="505.20" y="46.96" fill="#4dffb2"/>
<use href="#h5" x="448.20" y="51.90" fill="#2effd1"/>
<use href="#h5" x="454.20" y="51.90" fill="#2effd1"/>
<use href="#h5" x="460.20" y="51.90" fill="#2effd1"/>
<use href="#h5" x="466.20" y="51.90" fill="#2effd1"/>
<use href="#h5" x="472.20" y="51.90" fill="#2effd1"/>
<use href="#h5" x="478.20" y="51.90" fill="#2effd1"/>
<use href="#h5" x="484.20" y="51.90" fill="#2effd1"/>
<use href="#h5" x="490.20" y="51.90" fill="#2effd1"/>
<use href="#h5" x="496.20" y="51.90" fill="#2effd1"/>
<use href="#h5" x="502.20" y="51.90" fill="#2effd1"/>
<use href="#h5" x="451.20" y="56.83" fill="#05fffa"/>
<use href="#h5" x="457.20" y="56.83" fill="#05fffa"/>
<use href="#h5" x="463.20" y="56.83" fill="#05fffa"/>
<use href="#h5" x="469.20" y="56.83" fill="#05fffa"/>
<use href="#h5" x="475.20" y="56.83" fill="#05fffa"/>
<use href="#h5" x="481.20" y="56.83" fill="#05fffa"/>
<use href="#h5" x="487.20" y="56.83" fill="#1affe5"/>
<use href="#h5" x="493.20" y="56.83" fill="#1affe5"/>
<use href="#h5" x="499.20" y="56.83" fill="#1affe5"/>
<use href="#h5" x="505.20" y="56.83" fill="#1affe5"/>
<use href="#h5" x="448.20" y="61.77" fill="#00d1ff"/>
<use href="#h5" x="454.20" y="61.77" fill="#00d1ff"/>
<use href="#h5" x="460.20" y="61.77" fill="#00d1ff"/>
<use href="#h5" x="466.20" y="61.77" fill="#00d1ff"/>
<use href="#h5" x="472.20" y="61.77" fill="#00d1ff"/>
<use href="#h5" x="478.20" y="61.77" fill="#00d1ff"/>
<use href="#h5" x="484.20" y="61.77" fill="#00f0ff"/>
<use href="#h5" x="490.20" y="61.77" fill="#05fffa"/>
<use href="#h5" x="496.20" y="61.77" fill="#05fffa"/>
<use href="#h5" x="502.20" y="61.77" fill="#05fffa"/>
<use href="#h5" x="451.20" y="66.70" fill="#009eff"/>
<use href="#h5" x="457.20" y="66.70" fill="#009eff"/>
<use href="#h5" x="463.20" y="66.70" fill="#009eff"/>
<use href="#h5" x="469.20" y="66.70" fill="#009eff"/>
<use href="#h5" x="475.20" y="66.70" fill="#009eff"/>
<use href="#h5" x="481.20" y="66.70" fill="#009eff"/>
<use href="#h5" x="487.20" y="66.70" fill="#00b2ff"/>
<use href="#h5" x="493.20" y="66.70" fill="#00e5ff"/>
<use href="#h5" x="499.20" y="66.70" fill="#00f0ff"/>
<use href="#h5" x="505.20" y="66.70" fill="#00f0ff"/>
<use href="#h5" x="448.20" y="71.64" fill="#0061ff"/>
<use href="#h5" x="454.20" y="71.64" fill="#0061ff"/>
<use href="#h5" x="460.20" y="71.64" fill="#0061ff"/>
<use href="#h5" x="466.20" y="71.64" fill="#0061ff"/>
<use href="#h5" x="472.20" y="71.64" fill="#0061ff"/>
<use href="#h5" x="478.20" y="71.64" fill="#0061ff"/>
<use href="#h5" x="484.20" y="71.64" fill="#0080ff"/>
<use href="#h5" x="490.20" y="71.64" fill="#009eff"/>
<use href="#h5" x="496.20" y="71.64" fill="#00b2ff"/>
<use href="#h5" x="502.20" y="71.64" fill="#00b2ff"/>
<use href="#h5" x="451.20" y="76.57" fill="#0038ff"/>
<use href="#h5" x="457.20" y="76.57" fill="#0038ff"/>
<use href="#h5" x="463.20" y="76.57" fill="#0038ff"/>
<use href="#h5" x="469.20" y="76.57" fill="#0038ff"/>
<use href="#h5" x="475.20" y="76.57" fill="#0038ff"/>
<use href="#h5" x="481.20" y="76.57" fill="#0038ff"/>
<use href="#h5" x="487.20" y="76.57" fill="#004dff"/>
<use href="#h5" x="493.20" y="76.57" fill="#0061ff"/>
<use href="#h5" x="499.20" y="76.57" fill="#0061ff"/>
<use href="#h5" x="505.20" y="76.57" fill="#0061ff"/>
<use href="#h5" x="448.20" y="81.51" fill="#000fff"/>
<use href="#h5" x="454.20" y="81.51" fill="#000fff"/>
<use href="#h5" x="460.20" y="81.51" fill="#000fff"/>
<use href="#h5" x="466.20" y="81.51" fill="#000fff"/>
<use href="#h5" x="472.20" y="81.51" fill="#000fff"/>
<use href="#h5" x="478.20" y="81.51" fill="#000fff"/>
<use href="#h5" x="484.20" y="81.51" fill="#001aff"/>
<use href="#h5" x="490.20" y="81.51" fill="#001aff"/>
<use href="#h5" x="496.20" y="81.51" fill="#001aff"/>
<use href="#h5" x="502.20" y="81.51" fill="#001aff"/>
<use href="#h5" x="451.20" y="86.44" fill="#0000e6"/>
<use href="#h5" x="457.20" y="86.44" fill="#0000e6"/>
<use href="#h5" x="463.20" y="86.44" fill="#0000e6"/>
<use href="#h5" x="469.20" y="86.44" fill="#0000e6"/>
<use href="#h5" x="475.20" y="86.44" fill="#0000e6"/>
<use href="#h5" x="481.20" y="86.44" fill="#0000e6"/>
<use href="#h5" x="487.20" y="86.44" fill="#0000e6"/>
<use href="#h5" x="493.20" y="86.44" fill="#0000e6"/>
<use href="#h5" x="499.20" y="86.44" fill="#0000e6"/>
<use href="#h5" x="505.20" y="86.44" fill="#0000e6"/>
<use href="#h5" x="448.20" y="91.38" fill="#0000d1"/>
<use href="#h5" x="454.20" y="91.38" fill="#0000d1"/>
<use href="#h5" x="460.20" y="91.38" fill="#0000d1"/>
<use href="#h5" x="466.20" y="91.38" fill="#0000d1"/>
<use href="#h5" x="472.20" y="91.38" fill="#0000d1"/>
<use href="#h5" x="478.20" y="91.38" fill="#0000d1"/>
<use href="#h5" x="484.20" y="91.38" fill="#0000d1"/>
<use href="#h5" x="490.20" y="91.38" fill="#0000d1"/>
<use href="#h5" x="496.20" y="91.38" fill="#0000d1"/>
<use href="#h5" x="502.20" y="91.38" fill="#0000d1"/>
<use href="#h5" x="451.20" y="96.31" fill="#0000d1"/>
<use href="#h5" x="457.20" y="96.31" fill="#0000d1"/>
<use href="#h5" x="463.20" y="96.31" fill="#0000d1"/>
<use href="#h5" x="469.20" y="96.31" fill="#0000d1"/>
<use href="#h5" x="475.20" y="96.31" fill="#0000d1"/>
<use href="#h5" x="481.20" y="96.31" fill="#0000d1"/>
<use href="#h5" x="487.20" y="96.31" fill="#0000d1"/>
<use href="#h5" x="493.20" y="96.31" fill="#0000d1"/>
<use href="#h5" x="499.20" y="96.31" fill="#0000d1"/>
<use href="#h5" x="505.20" y="96.31" fill="#0000d1"/>
<rect x="516.8" y="19.0" width="6.2" height="81.0" fill="url(#jetg)"/>
<text x="525.8" y="23.0" class="cb">0.641</text>
<text x="525.8" y="43.2" class="cb">0.498</text>
<text x="525.8" y="63.5" class="cb">0.356</text>
<text x="525.8" y="83.8" class="cb">0.213</text>
<text x="525.8" y="104.0" class="cb">0.0701</text>
<text x="47.4" y="123.1" class="tt" text-anchor="middle">Cu</text>
<defs><path id="h6" d="M0.00 -3.49 3.18 -1.74 3.18 1.74 0.00 3.49 -3.18 1.74 -3.18 -1.74 Z"/></defs>
<use href="#h6" x="19.60" y="131.49" fill="#ff1a00"/>
<use href="#h6" x="25.60" y="131.49" fill="#ff3800"/>
<use href="#h6" x="31.60" y="131.49" fill="#ff6100"/>
<use href="#h6" x="37.60" y="131.49" fill="#ff9e00"/>
<use href="#h6" x="43.60" y="131.49" fill="#ff8000"/>
<use href="#h6" x="49.60" y="131.49" fill="#ff1a00"/>
<use href="#h6" x="55.60" y="131.49" fill="#b30000"/>
<use href="#h6" x="61.60" y="131.49" fill="#fa0000"/>
<use href="#h6" x="67.60" y="131.49" fill="#ff6100"/>
<use href="#h6" x="73.60" y="131.49" fill="#ff9e00"/>
<use href="#h6" x="22.60" y="136.42" fill="#ff4c00"/>
<use href="#h6" x="28.60" y="136.42" fill="#ff9e00"/>
<use href="#h6" x="34.60" y="136.42" fill="#ffc700"/>
<use href="#h6" x="40.60" y="136.42" fill="#ffc700"/>
<use href="#h6" x="46.60" y="136.42" fill="#ff9e00"/>
<use href="#h6" x="52.60" y="136.42" fill="#ff3800"/>
<use href="#h6" x="58.60" y="136.42" fill="#fa0000"/>
<use href="#h6" x="64.60" y="136.42" fill="#ff3800"/>
<use href="#h6" x="70.60" y="136.42" fill="#ff9e00"/>
<use href="#h6" x="76.60" y="136.42" fill="#ffe500"/>
<use href="#h6" x="19.60" y="141.36" fill="#ff9e00"/>
<use href="#h6" x="25.60" y="141.36" fill="#ffe500"/>
<use href="#h6" x="31.60" y="141.36" fill="#faff05"/>
<use href="#h6" x="37.60" y="141.36" fill="#faff05"/>
<use href="#h6" x="43.60" y="141.36" fill="#ffe500"/>
<use href="#h6" x="49.60" y="141.36" fill="#ff9e00"/>
<use href="#h6" x="55.60" y="141.36" fill="#ff8000"/>
<use href="#h6" x="61.60" y="141.36" fill="#ffb300"/>
<use href="#h6" x="67.60" y="141.36" fill="#ffe500"/>
<use href="#h6" x="73.60" y="141.36" fill="#e5ff1a"/>
<use href="#h6" x="22.60" y="146.29" fill="#e5ff1a"/>
<use href="#h6" x="28.60" y="146.29" fill="#bdff42"/>
<use href="#h6" x="34.60" y="146.29" fill="#b3ff4c"/>
<use href="#h6" x="40.60" y="146.29" fill="#bdff42"/>
<use href="#h6" x="46.60" y="146.29" fill="#d1ff2e"/>
<use href="#h6" x="52.60" y="146.29" fill="#faff05"/>
<use href="#h6" x="58.60" y="146.29" fill="#faff05"/>
<use href="#h6" x="64.60" y="146.29" fill="#e5ff1a"/>
<use href="#h6" x="70.60" y="146.29" fill="#bdff42"/>
<use href="#h6" x="76.60" y="146.29" fill="#94ff6b"/>
<use href="#h6" x="19.60" y="151.23" fill="#6bff94"/>
<use href="#h6" x="25.60" y="151.23" fill="#6bff94"/>
<use href="#h6" x="31.60" y="151.23" fill="#80ff80"/>
<use href="#h6" x="37.60" y="151.23" fill="#94ff6b"/>
<use href="#h6" x="43.60" y="151.23" fill="#94ff6b"/>
<use href="#h6" x="49.60" y="151.23" fill="#94ff6b"/>
<use href="#h6" x="55.60" y="151.23" fill="#94ff6b"/>
<use href="#h6" x="61.60" y="151.23" fill="#94ff6b"/>
<use href="#h6" x="67.60" y="151.23" fill="#80ff80"/>
<use href="#h6" x="73.60" y="151.23" fill="#6bff94"/>
<use href="#h6" x="22.60" y="156.16" fill="#2effd1"/>
<use href="#h6" x="28.60" y="156.16" fill="#42ffbd"/>
<use href="#h6" x="34.60" y="156.16" fill="#57ffa8"/>
<use href="#h6" x="40.60" y="156.16" fill="#6bff94"/>
<use href="#h6" x="46.60" y="156.16" fill="#6bff94"/>
<use href="#h6" x="52.60" y="156.16" fill="#57ffa8"/>
<use href="#h6" x="58.60" y="156.16" fill="#57ffa8"/>
<use href="#h6" x="64.60" y="156.16" fill="#57ffa8"/>
<use href="#h6" x="70.60" y="156.16" fill="#4dffb2"/>
<use href="#h6" x="76.60" y="156.16" fill="#42ffbd"/>
<use href="#h6" x="19.60" y="161.10" fill="#00f0ff"/>
<use href="#h6" x="25.60" y="161.10" fill="#05fffa"/>
<use href="#h6" x="31.60" y="161.10" fill="#1affe5"/>
<use href="#h6" x="37.60" y="161.10" fill="#2effd1"/>
<use href="#h6" x="43.60" y="161.10" fill="#2effd1"/>
<use href="#h6" x="49.60" y="161.10" fill="#1affe5"/>
<use href="#h6" x="55.60" y="161.10" fill="#1affe5"/>
<use href="#h6" x="61.60" y="161.10" fill="#1affe5"/>
<use href="#h6" x="67.60" y="161.10" fill="#1affe5"/>
<use href="#h6" x="73.60" y="161.10" fill="#1affe5"/>
<use href="#h6" x="22.60" y="166.03" fill="#00b2ff"/>
<use href="#h6" x="28.60" y="166.03" fill="#00c7ff"/>
<use href="#h6" x="34.60" y="166.03" fill="#00e5ff"/>
<use href="#h6" x="40.60" y="166.03" fill="#00f0ff"/>
<use href="#h6" x="46.60" y="166.03" fill="#00f0ff"/>
<use href="#h6" x="52.60" y="166.03" fill="#00f0ff"/>
<use href="#h6" x="58.60" y="166.03" fill="#00f0ff"/>
<use href="#h6" x="64.60" y="166.03" fill="#00f0ff"/>
<use href="#h6" x="70.60" y="166.03" fill="#00e5ff"/>
<use href="#h6" x="76.60" y="166.03" fill="#00e5ff"/>
<use href="#h6" x="19.60" y="170.97" fill="#0061ff"/>
<use href="#h6" x="25.60" y="170.97" fill="#0080ff"/>
<use href="#h6" x="31.60" y="170.97" fill="#009eff"/>
<use href="#h6" x="37.60" y="170.97" fill="#00c7ff"/>
<use href="#h6" x="43.60" y="170.97" fill="#00dbff"/>
<use href="#h6" x="49.60" y="170.97" fill="#00c7ff"/>
<use href="#h6" x="55.60" y="170.97" fill="#00b2ff"/>
<use href="#h6" x="61.60" y="170.97" fill="#00b2ff"/>
<use href="#h6" x="67.60" y="170.97" fill="#00b2ff"/>
<use href="#h6" x="73.60" y="170.97" fill="#00b2ff"/>
<use href="#h6" x="22.60" y="175.90" fill="#0038ff"/>
<use href="#h6" x="28.60" y="175.90" fill="#004dff"/>
<use href="#h6" x="34.60" y="175.90" fill="#0075ff"/>
<use href="#h6" x="40.60" y="175.90" fill="#009eff"/>
<use href="#h6" x="46.60" y="175.90" fill="#00b2ff"/>
<use href="#h6" x="52.60" y="175.90" fill="#009eff"/>
<use href="#h6" x="58.60" y="175.90" fill="#0080ff"/>
<use href="#h6" x="64.60" y="175.90" fill="#0080ff"/>
<use href="#h6" x="70.60" y="175.90" fill="#0080ff"/>
<use href="#h6" x="76.60" y="175.90" fill="#0080ff"/>
<use href="#h6" x="19.60" y="180.84" fill="#001aff"/>
<use href="#h6" x="25.60" y="180.84" fill="#002eff"/>
<use href="#h6" x="31.60" y="180.84" fill="#004dff"/>
<use href="#h6" x="37.60" y="180.84" fill="#0080ff"/>
<use href="#h6" x="43.60" y="180.84" fill="#009eff"/>
<use href="#h6" x="49.60" y="180.84" fill="#0080ff"/>
<use href="#h6" x="55.60" y="180.84" fill="#0061ff"/>
<use href="#h6" x="61.60" y="180.84" fill="#0061ff"/>
<use href="#h6" x="67.60" y="180.84" fill="#0061ff"/>
<use href="#h6" x="73.60" y="180.84" fill="#0061ff"/>
<use href="#h6" x="22.60" y="185.77" fill="#000fff"/>
<use href="#h6" x="28.60" y="185.77" fill="#001aff"/>
<use href="#h6" x="34.60" y="185.77" fill="#002eff"/>
<use href="#h6" x="40.60" y="185.77" fill="#004dff"/>
<use href="#h6" x="46.60" y="185.77" fill="#0075ff"/>
<use href="#h6" x="52.60" y="185.77" fill="#0061ff"/>
<use href="#h6" x="58.60" y="185.77" fill="#0038ff"/>
<use href="#h6" x="64.60" y="185.77" fill="#0038ff"/>
<use href="#h6" x="70.60" y="185.77" fill="#0038ff"/>
<use href="#h6" x="76.60" y="185.77" fill="#0038ff"/>
<use href="#h6" x="19.60" y="190.71" fill="#0000fa"/>
<use href="#h6" x="25.60" y="190.71" fill="#0005ff"/>
<use href="#h6" x="31.60" y="190.71" fill="#000fff"/>
<use href="#h6" x="37.60" y="190.71" fill="#0024ff"/>
<use href="#h6" x="43.60" y="190.71" fill="#004dff"/>
<use href="#h6" x="49.60" y="190.71" fill="#0038ff"/>
<use href="#h6" x="55.60" y="190.71" fill="#001aff"/>
<use href="#h6" x="61.60" y="190.71" fill="#001aff"/>
<use href="#h6" x="67.60" y="190.71" fill="#001aff"/>
<use href="#h6" x="73.60" y="190.71" fill="#001aff"/>
<use href="#h6" x="22.60" y="195.64" fill="#0000e6"/>
<use href="#h6" x="28.60" y="195.64" fill="#0000e6"/>
<use href="#h6" x="34.60" y="195.64" fill="#0000fa"/>
<use href="#h6" x="40.60" y="195.64" fill="#0005ff"/>
<use href="#h6" x="46.60" y="195.64" fill="#000fff"/>
<use href="#h6" x="52.60" y="195.64" fill="#000fff"/>
<use href="#h6" x="58.60" y="195.64" fill="#0000fa"/>
<use href="#h6" x="64.60" y="195.64" fill="#0000fa"/>
<use href="#h6" x="70.60" y="195.64" fill="#0000fa"/>
<use href="#h6" x="76.60" y="195.64" fill="#0000fa"/>
<use href="#h6" x="19.60" y="200.58" fill="#0000d1"/>
<use href="#h6" x="25.60" y="200.58" fill="#0000d1"/>
<use href="#h6" x="31.60" y="200.58" fill="#0000e6"/>
<use href="#h6" x="37.60" y="200.58" fill="#0000e6"/>
<use href="#h6" x="43.60" y="200.58" fill="#0000e6"/>
<use href="#h6" x="49.60" y="200.58" fill="#0000e6"/>
<use href="#h6" x="55.60" y="200.58" fill="#0000db"/>
<use href="#h6" x="61.60" y="200.58" fill="#0000d1"/>
<use href="#h6" x="67.60" y="200.58" fill="#0000d1"/>
<use href="#h6" x="73.60" y="200.58" fill="#0000d1"/>
<use href="#h6" x="22.60" y="205.51" fill="#0000d1"/>
<use href="#h6" x="28.60" y="205.51" fill="#0000d1"/>
<use href="#h6" x="34.60" y="205.51" fill="#0000d1"/>
<use href="#h6" x="40.60" y="205.51" fill="#0000d1"/>
<use href="#h6" x="46.60" y="205.51" fill="#0000d1"/>
<use href="#h6" x="52.60" y="205.51" fill="#0000d1"/>
<use href="#h6" x="58.60" y="205.51" fill="#0000bd"/>
<use href="#h6" x="64.60" y="205.51" fill="#0000bd"/>
<use href="#h6" x="70.60" y="205.51" fill="#0000bd"/>
<use href="#h6" x="76.60" y="205.51" fill="#0000bd"/>
<rect x="88.2" y="128.0" width="6.2" height="81.0" fill="url(#jetg)"/>
<text x="97.2" y="132.0" class="cb">0.53</text>
<text x="97.2" y="152.2" class="cb">0.428</text>
<text x="97.2" y="172.5" class="cb">0.325</text>
<text x="97.2" y="192.8" class="cb">0.223</text>
<text x="97.2" y="213.0" class="cb">0.12</text>
<text x="155.0" y="123.1" class="tt" text-anchor="middle">Ni</text>
<defs><path id="h7" d="M0.00 -3.49 3.18 -1.74 3.18 1.74 0.00 3.49 -3.18 1.74 -3.18 -1.74 Z"/></defs>
<use href="#h7" x="127.20" y="131.49" fill="#b30000"/>
<use href="#h7" x="133.20" y="131.49" fill="#d10000"/>
<use href="#h7" x="139.20" y="131.49" fill="#fa0000"/>
<use href="#h7" x="145.20" y="131.49" fill="#fa0000"/>
<use href="#h7" x="151.20" y="131.49" fill="#fa0000"/>
<use href="#h7" x="157.20" y="131.49" fill="#d10000"/>
<use href="#h7" x="163.20" y="131.49" fill="#b30000"/>
<use href="#h7" x="169.20" y="131.49" fill="#b30000"/>
<use href="#h7" x="175.20" y="131.49" fill="#e50000"/>
<use href="#h7" x="181.20" y="131.49" fill="#fa0000"/>
<use href="#h7" x="130.20" y="136.42" fill="#fa0000"/>
<use href="#h7" x="136.20" y="136.42" fill="#ff1a00"/>
<use href="#h7" x="142.20" y="136.42" fill="#ff3800"/>
<use href="#h7" x="148.20" y="136.42" fill="#ff3800"/>
<use href="#h7" x="154.20" y="136.42" fill="#ff1a00"/>
<use href="#h7" x="160.20" y="136.42" fill="#fa0000"/>
<use href="#h7" x="166.20" y="136.42" fill="#e50000"/>
<use href="#h7" x="172.20" y="136.42" fill="#e50000"/>
<use href="#h7" x="178.20" y="136.42" fill="#fa0000"/>
<use href="#h7" x="184.20" y="136.42" fill="#fa0000"/>
<use href="#h7" x="127.20" y="141.36" fill="#ff4c00"/>
<use href="#h7" x="133.20" y="141.36" fill="#ff6100"/>
<use href="#h7" x="139.20" y="141.36" fill="#ff8000"/>
<use href="#h7" x="145.20" y="141.36" fill="#ff8000"/>
<use href="#h7" x="151.20" y="141.36" fill="#ff4c00"/>
<use href="#h7" x="157.20" y="141.36" fill="#ff1a00"/>
<use href="#h7" x="163.20" y="141.36" fill="#fa0000"/>
<use href="#h7" x="169.20" y="141.36" fill="#fa0000"/>
<use href="#h7" x="175.20" y="141.36" fill="#fa0000"/>
<use href="#h7" x="181.20" y="141.36" fill="#e50000"/>
<use href="#h7" x="130.20" y="146.29" fill="#ffb300"/>
<use href="#h7" x="136.20" y="146.29" fill="#ffe500"/>
<use href="#h7" x="142.20" y="146.29" fill="#faff05"/>
<use href="#h7" x="148.20" y="146.29" fill="#ffe500"/>
<use href="#h7" x="154.20" y="146.29" fill="#ff9e00"/>
<use href="#h7" x="160.20" y="146.29" fill="#ff4c00"/>
<use href="#h7" x="166.20" y="146.29" fill="#ff3800"/>
<use href="#h7" x="172.20" y="146.29" fill="#ff1a00"/>
<use href="#h7" x="178.20" y="146.29" fill="#fa0000"/>
<use href="#h7" x="184.20" y="146.29" fill="#d10000"/>
<use href="#h7" x="127.20" y="151.23" fill="#faff05"/>
<use href="#h7" x="133.20" y="151.23" fill="#80ff80"/>
<use href="#h7" x="139.20" y="151.23" fill="#80ff80"/>
<use href="#h7" x="145.20" y="151.23" fill="#b3ff4c"/>
<use href="#h7" x="151.20" y="151.23" fill="#ffc700"/>
<use href="#h7" x="157.20" y="151.23" fill="#ff8000"/>
<use href="#h7" x="163.20" y="151.23" fill="#ff6100"/>
<use href="#h7" x="169.20" y="151.23" fill="#ff6100"/>
<use href="#h7" x="175.20" y="151.23" fill="#ff4c00"/>
<use href="#h7" x="181.20" y="151.23" fill="#ff3800"/>
<use href="#h7" x="130.20" y="156.16" fill="#6bff94"/>
<use href="#h7" x="136.20" y="156.16" fill="#4dffb2"/>
<use href="#h7" x="142.20" y="156.16" fill="#4dffb2"/>
<use href="#h7" x="148.20" y="156.16" fill="#80ff80"/>
<use href="#h7" x="154.20" y="156.16" fill="#faff05"/>
<use href="#h7" x="160.20" y="156.16" fill="#ffe500"/>
<use href="#h7" x="166.20" y="156.16" fill="#ffe500"/>
<use href="#h7" x="172.20" y="156.16" fill="#ffe500"/>
<use href="#h7" x="178.20" y="156.16" fill="#ffe500"/>
<use href="#h7" x="184.20" y="156.16" fill="#ffe500"/>
<use href="#h7" x="127.20" y="161.10" fill="#4dffb2"/>
<use href="#h7" x="133.20" y="161.10" fill="#2effd1"/>
<use href="#h7" x="139.20" y="161.10" fill="#2effd1"/>
<use href="#h7" x="145.20" y="161.10" fill="#4dffb2"/>
<use href="#h7" x="151.20" y="161.10" fill="#80ff80"/>
<use href="#h7" x="157.20" y="161.10" fill="#b3ff4c"/>
<use href="#h7" x="163.20" y="161.10" fill="#b3ff4c"/>
<use href="#h7" x="169.20" y="161.10" fill="#b3ff4c"/>
<use href="#h7" x="175.20" y="161.10" fill="#b3ff4c"/>
<use href="#h7" x="181.20" y="161.10" fill="#b3ff4c"/>
<use href="#h7" x="130.20" y="166.03" fill="#2effd1"/>
<use href="#h7" x="136.20" y="166.03" fill="#1affe5"/>
<use href="#h7" x="142.20" y="166.03" fill="#1affe5"/>
<use href="#h7" x="148.20" y="166.03" fill="#2effd1"/>
<use href="#h7" x="154.20" y="166.03" fill="#4dffb2"/>
<use href="#h7" x="160.20" y="166.03" fill="#57ffa8"/>
<use href="#h7" x="166.20" y="166.03" fill="#57ffa8"/>
<use href="#h7" x="172.20" y="166.03" fill="#57ffa8"/>
<use href="#h7" x="178.20" y="166.03" fill="#57ffa8"/>
<use href="#h7" x="184.20" y="166.03" fill="#6bff94"/>
<use href="#h7" x="127.20" y="170.97" fill="#05fffa"/>
<use href="#h7" x="133.20" y="170.97" fill="#00faff"/>
<use href="#h7" x="139.20" y="170.97" fill="#00faff"/>
<use href="#h7" x="145.20" y="170.97" fill="#05fffa"/>
<use href="#h7" x="151.20" y="170.97" fill="#1affe5"/>
<use href="#h7" x="157.20" y="170.97" fill="#1affe5"/>
<use href="#h7" x="163.20" y="170.97" fill="#1affe5"/>
<use href="#h7" x="169.20" y="170.97" fill="#1affe5"/>
<use href="#h7" x="175.20" y="170.97" fill="#1affe5"/>
<use href="#h7" x="181.20" y="170.97" fill="#1affe5"/>
<use href="#h7" x="130.20" y="175.90" fill="#00d1ff"/>
<use href="#h7" x="136.20" y="175.90" fill="#00d1ff"/>
<use href="#h7" x="142.20" y="175.90" fill="#00d1ff"/>
<use href="#h7" x="148.20" y="175.90" fill="#00d1ff"/>
<use href="#h7" x="154.20" y="175.90" fill="#00d1ff"/>
<use href="#h7" x="160.20" y="175.90" fill="#00d1ff"/>
<use href="#h7" x="166.20" y="175.90" fill="#00d1ff"/>
<use href="#h7" x="172.20" y="175.90" fill="#00d1ff"/>
<use href="#h7" x="178.20" y="175.90" fill="#00d1ff"/>
<use href="#h7" x="184.20" y="175.90" fill="#00d1ff"/>
<use href="#h7" x="127.20" y="180.84" fill="#009eff"/>
<use href="#h7" x="133.20" y="180.84" fill="#009eff"/>
<use href="#h7" x="139.20" y="180.84" fill="#009eff"/>
<use href="#h7" x="145.20" y="180.84" fill="#009eff"/>
<use href="#h7" x="151.20" y="180.84" fill="#009eff"/>
<use href="#h7" x="157.20" y="180.84" fill="#009eff"/>
<use href="#h7" x="163.20" y="180.84" fill="#009eff"/>
<use href="#h7" x="169.20" y="180.84" fill="#009eff"/>
<use href="#h7" x="175.20" y="180.84" fill="#009eff"/>
<use href="#h7" x="181.20" y="180.84" fill="#009eff"/>
<use href="#h7" x="130.20" y="185.77" fill="#006bff"/>
<use href="#h7" x="136.20" y="185.77" fill="#006bff"/>
<use href="#h7" x="142.20" y="185.77" fill="#006bff"/>
<use href="#h7" x="148.20" y="185.77" fill="#006bff"/>
<use href="#h7" x="154.20" y="185.77" fill="#006bff"/>
<use href="#h7" x="160.20" y="185.77" fill="#006bff"/>
<use href="#h7" x="166.20" y="185.77" fill="#006bff"/>
<use href="#h7" x="172.20" y="185.77" fill="#006bff"/>
<use href="#h7" x="178.20" y="185.77" fill="#006bff"/>
<use href="#h7" x="184.20" y="185.77" fill="#006bff"/>
<use href="#h7" x="127.20" y="190.71" fill="#0038ff"/>
<use href="#h7" x="133.20" y="190.71" fill="#0038ff"/>
<use href="#h7" x="139.20" y="190.71" fill="#0038ff"/>
<use href="#h7" x="145.20" y="190.71" fill="#0038ff"/>
<use href="#h7" x="151.20" y="190.71" fill="#0038ff"/>
<use href="#h7" x="157.20" y="190.71" fill="#0038ff"/>
<use href="#h7" x="163.20" y="190.71" fill="#0038ff"/>
<use href="#h7" x="169.20" y="190.71" fill="#0038ff"/>
<use href="#h7" x="175.20" y="190.71" fill="#0038ff"/>
<use href="#h7" x="181.20" y="190.71" fill="#0038ff"/>
<use href="#h7" x="130.20" y="195.64" fill="#001aff"/>
<use href="#h7" x="136.20" y="195.64" fill="#001aff"/>
<use href="#h7" x="142.20" y="195.64" fill="#001aff"/>
<use href="#h7" x="148.20" y="195.64" fill="#001aff"/>
<use href="#h7" x="154.20" y="195.64" fill="#001aff"/>
<use href="#h7" x="160.20" y="195.64" fill="#001aff"/>
<use href="#h7" x="166.20" y="195.64" fill="#001aff"/>
<use href="#h7" x="172.20" y="195.64" fill="#001aff"/>
<use href="#h7" x="178.20" y="195.64" fill="#001aff"/>
<use href="#h7" x="184.20" y="195.64" fill="#001aff"/>
<use href="#h7" x="127.20" y="200.58" fill="#0000fa"/>
<use href="#h7" x="133.20" y="200.58" fill="#0000fa"/>
<use href="#h7" x="139.20" y="200.58" fill="#0000fa"/>
<use href="#h7" x="145.20" y="200.58" fill="#0000fa"/>
<use href="#h7" x="151.20" y="200.58" fill="#0000fa"/>
<use href="#h7" x="157.20" y="200.58" fill="#0000fa"/>
<use href="#h7" x="163.20" y="200.58" fill="#0000fa"/>
<use href="#h7" x="169.20" y="200.58" fill="#0000fa"/>
<use href="#h7" x="175.20" y="200.58" fill="#0000fa"/>
<use href="#h7" x="181.20" y="200.58" fill="#0000fa"/>
<use href="#h7" x="130.20" y="205.51" fill="#0000e6"/>
<use href="#h7" x="136.20" y="205.51" fill="#0000e6"/>
<use href="#h7" x="142.20" y="205.51" fill="#0000e6"/>
<use href="#h7" x="148.20" y="205.51" fill="#0000e6"/>
<use href="#h7" x="154.20" y="205.51" fill="#0000e6"/>
<use href="#h7" x="160.20" y="205.51" fill="#0000e6"/>
<use href="#h7" x="166.20" y="205.51" fill="#0000e6"/>
<use href="#h7" x="172.20" y="205.51" fill="#0000e6"/>
<use href="#h7" x="178.20" y="205.51" fill="#0000e6"/>
<use href="#h7" x="184.20" y="205.51" fill="#0000e6"/>
<rect x="195.8" y="128.0" width="6.2" height="81.0" fill="url(#jetg)"/>
<text x="204.8" y="132.0" class="cb">0.278</text>
<text x="204.8" y="152.2" class="cb">0.224</text>
<text x="204.8" y="172.5" class="cb">0.171</text>
<text x="204.8" y="192.8" class="cb">0.118</text>
<text x="204.8" y="213.0" class="cb">0.0642</text>
<text x="262.0" y="123.1" class="tt" text-anchor="middle">As</text>
<defs><path id="h8" d="M0.00 -3.49 3.18 -1.74 3.18 1.74 0.00 3.49 -3.18 1.74 -3.18 -1.74 Z"/></defs>
<use href="#h8" x="234.20" y="131.49" fill="#bdff42"/>
<use href="#h8" x="240.20" y="131.49" fill="#bdff42"/>
<use href="#h8" x="246.20" y="131.49" fill="#bdff42"/>
<use href="#h8" x="252.20" y="131.49" fill="#bdff42"/>
<use href="#h8" x="258.20" y="131.49" fill="#bdff42"/>
<use href="#h8" x="264.20" y="131.49" fill="#d1ff2e"/>
<use href="#h8" x="270.20" y="131.49" fill="#e5ff1a"/>
<use href="#h8" x="276.20" y="131.49" fill="#faff05"/>
<use href="#h8" x="282.20" y="131.49" fill="#ff6100"/>
<use href="#h8" x="288.20" y="131.49" fill="#b30000"/>
<use href="#h8" x="237.20" y="136.42" fill="#80ff80"/>
<use href="#h8" x="243.20" y="136.42" fill="#80ff80"/>
<use href="#h8" x="249.20" y="136.42" fill="#80ff80"/>
<use href="#h8" x="255.20" y="136.42" fill="#94ff6b"/>
<use href="#h8" x="261.20" y="136.42" fill="#a8ff57"/>
<use href="#h8" x="267.20" y="136.42" fill="#bdff42"/>
<use href="#h8" x="273.20" y="136.42" fill="#d1ff2e"/>
<use href="#h8" x="279.20" y="136.42" fill="#faff05"/>
<use href="#h8" x="285.20" y="136.42" fill="#ff4c00"/>
<use href="#h8" x="291.20" y="136.42" fill="#d10000"/>
<use href="#h8" x="234.20" y="141.36" fill="#1affe5"/>
<use href="#h8" x="240.20" y="141.36" fill="#2effd1"/>
<use href="#h8" x="246.20" y="141.36" fill="#4dffb2"/>
<use href="#h8" x="252.20" y="141.36" fill="#6bff94"/>
<use href="#h8" x="258.20" y="141.36" fill="#80ff80"/>
<use href="#h8" x="264.20" y="141.36" fill="#94ff6b"/>
<use href="#h8" x="270.20" y="141.36" fill="#b3ff4c"/>
<use href="#h8" x="276.20" y="141.36" fill="#d1ff2e"/>
<use href="#h8" x="282.20" y="141.36" fill="#ffc700"/>
<use href="#h8" x="288.20" y="141.36" fill="#ff8000"/>
<use href="#h8" x="237.20" y="146.29" fill="#00d1ff"/>
<use href="#h8" x="243.20" y="146.29" fill="#00e5ff"/>
<use href="#h8" x="249.20" y="146.29" fill="#05fffa"/>
<use href="#h8" x="255.20" y="146.29" fill="#2effd1"/>
<use href="#h8" x="261.20" y="146.29" fill="#4dffb2"/>
<use href="#h8" x="267.20" y="146.29" fill="#80ff80"/>
<use href="#h8" x="273.20" y="146.29" fill="#94ff6b"/>
<use href="#h8" x="279.20" y="146.29" fill="#94ff6b"/>
<use href="#h8" x="285.20" y="146.29" fill="#94ff6b"/>
<use href="#h8" x="291.20" y="146.29" fill="#80ff80"/>
<use href="#h8" x="234.20" y="151.23" fill="#0080ff"/>
<use href="#h8" x="240.20" y="151.23" fill="#009eff"/>
<use href="#h8" x="246.20" y="151.23" fill="#00b2ff"/>
<use href="#h8" x="252.20" y="151.23" fill="#00e5ff"/>
<use href="#h8" x="258.20" y="151.23" fill="#2effd1"/>
<use href="#h8" x="264.20" y="151.23" fill="#6bff94"/>
<use href="#h8" x="270.20" y="151.23" fill="#80ff80"/>
<use href="#h8" x="276.20" y="151.23" fill="#6bff94"/>
<use href="#h8" x="282.20" y="151.23" fill="#4dffb2"/>
<use href="#h8" x="288.20" y="151.23" fill="#2effd1"/>
<use href="#h8" x="237.20" y="156.16" fill="#0061ff"/>
<use href="#h8" x="243.20" y="156.16" fill="#0061ff"/>
<use href="#h8" x="249.20" y="156.16" fill="#0080ff"/>
<use href="#h8" x="255.20" y="156.16" fill="#009eff"/>
<use href="#h8" x="261.20" y="156.16" fill="#00e5ff"/>
<use href="#h8" x="267.20" y="156.16" fill="#4dffb2"/>
<use href="#h8" x="273.20" y="156.16" fill="#6bff94"/>
<use href="#h8" x="279.20" y="156.16" fill="#4dffb2"/>
<use href="#h8" x="285.20" y="156.16" fill="#1affe5"/>
<use href="#h8" x="291.20" y="156.16" fill="#05fffa"/>
<use href="#h8" x="234.20" y="161.10" fill="#004dff"/>
<use href="#h8" x="240.20" y="161.10" fill="#004dff"/>
<use href="#h8" x="246.20" y="161.10" fill="#0061ff"/>
<use href="#h8" x="252.20" y="161.10" fill="#0080ff"/>
<use href="#h8" x="258.20" y="161.10" fill="#00b2ff"/>
<use href="#h8" x="264.20" y="161.10" fill="#05fffa"/>
<use href="#h8" x="270.20" y="161.10" fill="#2effd1"/>
<use href="#h8" x="276.20" y="161.10" fill="#1affe5"/>
<use href="#h8" x="282.20" y="161.10" fill="#00f0ff"/>
<use href="#h8" x="288.20" y="161.10" fill="#00dbff"/>
<use href="#h8" x="237.20" y="166.03" fill="#0038ff"/>
<use href="#h8" x="243.20" y="166.03" fill="#0038ff"/>
<use href="#h8" x="249.20" y="166.03" fill="#004dff"/>
<use href="#h8" x="255.20" y="166.03" fill="#0061ff"/>
<use href="#h8" x="261.20" y="166.03" fill="#0080ff"/>
<use href="#h8" x="267.20" y="166.03" fill="#00b2ff"/>
<use href="#h8" x="273.20" y="166.03" fill="#00c7ff"/>
<use href="#h8" x="279.20" y="166.03" fill="#00b2ff"/>
<use href="#h8" x="285.20" y="166.03" fill="#009eff"/>
<use href="#h8" x="291.20" y="166.03" fill="#008aff"/>
<use href="#h8" x="234.20" y="170.97" fill="#001aff"/>
<use href="#h8" x="240.20" y="170.97" fill="#001aff"/>
<use href="#h8" x="246.20" y="170.97" fill="#002eff"/>
<use href="#h8" x="252.20" y="170.97" fill="#0038ff"/>
<use href="#h8" x="258.20" y="170.97" fill="#004dff"/>
<use href="#h8" x="264.20" y="170.97" fill="#0061ff"/>
<use href="#h8" x="270.20" y="170.97" fill="#0061ff"/>
<use href="#h8" x="276.20" y="170.97" fill="#0061ff"/>
<use href="#h8" x="282.20" y="170.97" fill="#0061ff"/>
<use href="#h8" x="288.20" y="170.97" fill="#0061ff"/>
<use href="#h8" x="237.20" y="175.90" fill="#0005ff"/>
<use href="#h8" x="243.20" y="175.90" fill="#0005ff"/>
<use href="#h8" x="249.20" y="175.90" fill="#000fff"/>
<use href="#h8" x="255.20" y="175.90" fill="#001aff"/>
<use href="#h8" x="261.20" y="175.90" fill="#002eff"/>
<use href="#h8" x="267.20" y="175.90" fill="#0038ff"/>
<use href="#h8" x="273.20" y="175.90" fill="#0038ff"/>
<use href="#h8" x="279.20" y="175.90" fill="#0038ff"/>
<use href="#h8" x="285.20" y="175.90" fill="#0038ff"/>
<use href="#h8" x="291.20" y="175.90" fill="#0038ff"/>
<use href="#h8" x="234.20" y="180.84" fill="#0000fa"/>
<use href="#h8" x="240.20" y="180.84" fill="#0000fa"/>
<use href="#h8" x="246.20" y="180.84" fill="#0005ff"/>
<use href="#h8" x="252.20" y="180.84" fill="#000fff"/>
<use href="#h8" x="258.20" y="180.84" fill="#001aff"/>
<use href="#h8" x="264.20" y="180.84" fill="#0024ff"/>
<use href="#h8" x="270.20" y="180.84" fill="#0024ff"/>
<use href="#h8" x="276.20" y="180.84" fill="#0024ff"/>
<use href="#h8" x="282.20" y="180.84" fill="#0024ff"/>
<use href="#h8" x="288.20" y="180.84" fill="#0024ff"/>
<use href="#h8" x="237.20" y="185.77" fill="#0000fa"/>
<use href="#h8" x="243.20" y="185.77" fill="#0000fa"/>
<use href="#h8" x="249.20" y="185.77" fill="#0000fa"/>
<use href="#h8" x="255.20" y="185.77" fill="#0005ff"/>
<use href="#h8" x="261.20" y="185.77" fill="#001aff"/>
<use href="#h8" x="267.20" y="185.77" fill="#0024ff"/>
<use href="#h8" x="273.20" y="185.77" fill="#001aff"/>
<use href="#h8" x="279.20" y="185.77" fill="#001aff"/>
<use href="#h8" x="285.20" y="185.77" fill="#000fff"/>
<use href="#h8" x="291.20" y="185.77" fill="#000fff"/>
<use href="#h8" x="234.20" y="190.71" fill="#0000e6"/>
<use href="#h8" x="240.20" y="190.71" fill="#0000e6"/>
<use href="#h8" x="246.20" y="190.71" fill="#0000e6"/>
<use href="#h8" x="252.20" y="190.71" fill="#0000fa"/>
<use href="#h8" x="258.20" y="190.71" fill="#000fff"/>
<use href="#h8" x="264.20" y="190.71" fill="#001aff"/>
<use href="#h8" x="270.20" y="190.71" fill="#000fff"/>
<use href="#h8" x="276.20" y="190.71" fill="#0005ff"/>
<use href="#h8" x="282.20" y="190.71" fill="#0000fa"/>
<use href="#h8" x="288.20" y="190.71" fill="#0000fa"/>
<use href="#h8" x="237.20" y="195.64" fill="#0000db"/>
<use href="#h8" x="243.20" y="195.64" fill="#0000db"/>
<use href="#h8" x="249.20" y="195.64" fill="#0000db"/>
<use href="#h8" x="255.20" y="195.64" fill="#0000e6"/>
<use href="#h8" x="261.20" y="195.64" fill="#0000fa"/>
<use href="#h8" x="267.20" y="195.64" fill="#0000fa"/>
<use href="#h8" x="273.20" y="195.64" fill="#0000fa"/>
<use href="#h8" x="279.20" y="195.64" fill="#0000e6"/>
<use href="#h8" x="285.20" y="195.64" fill="#0000e6"/>
<use href="#h8" x="291.20" y="195.64" fill="#0000e6"/>
<use href="#h8" x="234.20" y="200.58" fill="#0000c7"/>
<use href="#h8" x="240.20" y="200.58" fill="#0000c7"/>
<use href="#h8" x="246.20" y="200.58" fill="#0000c7"/>
<use href="#h8" x="252.20" y="200.58" fill="#0000d1"/>
<use href="#h8" x="258.20" y="200.58" fill="#0000db"/>
<use href="#h8" x="264.20" y="200.58" fill="#0000db"/>
<use href="#h8" x="270.20" y="200.58" fill="#0000db"/>
<use href="#h8" x="276.20" y="200.58" fill="#0000d1"/>
<use href="#h8" x="282.20" y="200.58" fill="#0000d1"/>
<use href="#h8" x="288.20" y="200.58" fill="#0000d1"/>
<use href="#h8" x="237.20" y="205.51" fill="#0000bd"/>
<use href="#h8" x="243.20" y="205.51" fill="#0000bd"/>
<use href="#h8" x="249.20" y="205.51" fill="#0000bd"/>
<use href="#h8" x="255.20" y="205.51" fill="#0000bd"/>
<use href="#h8" x="261.20" y="205.51" fill="#0000c7"/>
<use href="#h8" x="267.20" y="205.51" fill="#0000c7"/>
<use href="#h8" x="273.20" y="205.51" fill="#0000c7"/>
<use href="#h8" x="279.20" y="205.51" fill="#0000bd"/>
<use href="#h8" x="285.20" y="205.51" fill="#0000bd"/>
<use href="#h8" x="291.20" y="205.51" fill="#0000bd"/>
<rect x="302.8" y="128.0" width="6.2" height="81.0" fill="url(#jetg)"/>
<text x="311.8" y="132.0" class="cb">0.358</text>
<text x="311.8" y="152.2" class="cb">0.293</text>
<text x="311.8" y="172.5" class="cb">0.228</text>
<text x="311.8" y="192.8" class="cb">0.163</text>
<text x="311.8" y="213.0" class="cb">0.0978</text>
<text x="369.2" y="123.1" class="tt" text-anchor="middle">Hg</text>
<defs><path id="h9" d="M0.00 -3.49 3.18 -1.74 3.18 1.74 0.00 3.49 -3.18 1.74 -3.18 -1.74 Z"/></defs>
<use href="#h9" x="341.40" y="131.49" fill="#e5ff1a"/>
<use href="#h9" x="347.40" y="131.49" fill="#ffb300"/>
<use href="#h9" x="353.40" y="131.49" fill="#ff1a00"/>
<use href="#h9" x="359.40" y="131.49" fill="#b30000"/>
<use href="#h9" x="365.40" y="131.49" fill="#ff1a00"/>
<use href="#h9" x="371.40" y="131.49" fill="#ffc700"/>
<use href="#h9" x="377.40" y="131.49" fill="#faff05"/>
<use href="#h9" x="383.40" y="131.49" fill="#faff05"/>
<use href="#h9" x="389.40" y="131.49" fill="#d1ff2e"/>
<use href="#h9" x="395.40" y="131.49" fill="#80ff80"/>
<use href="#h9" x="344.40" y="136.42" fill="#94ff6b"/>
<use href="#h9" x="350.40" y="136.42" fill="#faff05"/>
<use href="#h9" x="356.40" y="136.42" fill="#ff6100"/>
<use href="#h9" x="362.40" y="136.42" fill="#ff4c00"/>
<use href="#h9" x="368.40" y="136.42" fill="#ff8000"/>
<use href="#h9" x="374.40" y="136.42" fill="#e5ff1a"/>
<use href="#h9" x="380.40" y="136.42" fill="#b3ff4c"/>
<use href="#h9" x="386.40" y="136.42" fill="#94ff6b"/>
<use href="#h9" x="392.40" y="136.42" fill="#80ff80"/>
<use href="#h9" x="398.40" y="136.42" fill="#6bff94"/>
<use href="#h9" x="341.40" y="141.36" fill="#2effd1"/>
<use href="#h9" x="347.40" y="141.36" fill="#6bff94"/>
<use href="#h9" x="353.40" y="141.36" fill="#e5ff1a"/>
<use href="#h9" x="359.40" y="141.36" fill="#faff05"/>
<use href="#h9" x="365.40" y="141.36" fill="#b3ff4c"/>
<use href="#h9" x="371.40" y="141.36" fill="#80ff80"/>
<use href="#h9" x="377.40" y="141.36" fill="#6bff94"/>
<use href="#h9" x="383.40" y="141.36" fill="#6bff94"/>
<use href="#h9" x="389.40" y="141.36" fill="#94ff6b"/>
<use href="#h9" x="395.40" y="141.36" fill="#b3ff4c"/>
<use href="#h9" x="344.40" y="146.29" fill="#00e5ff"/>
<use href="#h9" x="350.40" y="146.29" fill="#05fffa"/>
<use href="#h9" x="356.40" y="146.29" fill="#2effd1"/>
<use href="#h9" x="362.40" y="146.29" fill="#4dffb2"/>
<use href="#h9" x="368.40" y="146.29" fill="#4dffb2"/>
<use href="#h9" x="374.40" y="146.29" fill="#4dffb2"/>
<use href="#h9" x="380.40" y="146.29" fill="#4dffb2"/>
<use href="#h9" x="386.40" y="146.29" fill="#6bff94"/>
<use href="#h9" x="392.40" y="146.29" fill="#b3ff4c"/>
<use href="#h9" x="398.40" y="146.29" fill="#b3ff4c"/>
<use href="#h9" x="341.40" y="151.23" fill="#009eff"/>
<use href="#h9" x="347.40" y="151.23" fill="#00b2ff"/>
<use href="#h9" x="353.40" y="151.23" fill="#00d1ff"/>
<use href="#h9" x="359.40" y="151.23" fill="#05fffa"/>
<use href="#h9" x="365.40" y="151.23" fill="#1affe5"/>
<use href="#h9" x="371.40" y="151.23" fill="#2effd1"/>
<use href="#h9" x="377.40" y="151.23" fill="#42ffbd"/>
<use href="#h9" x="383.40" y="151.23" fill="#57ffa8"/>
<use href="#h9" x="389.40" y="151.23" fill="#6bff94"/>
<use href="#h9" x="395.40" y="151.23" fill="#80ff80"/>
<use href="#h9" x="344.40" y="156.16" fill="#0080ff"/>
<use href="#h9" x="350.40" y="156.16" fill="#0080ff"/>
<use href="#h9" x="356.40" y="156.16" fill="#0094ff"/>
<use href="#h9" x="362.40" y="156.16" fill="#00b2ff"/>
<use href="#h9" x="368.40" y="156.16" fill="#00e5ff"/>
<use href="#h9" x="374.40" y="156.16" fill="#05fffa"/>
<use href="#h9" x="380.40" y="156.16" fill="#1affe5"/>
<use href="#h9" x="386.40" y="156.16" fill="#2effd1"/>
<use href="#h9" x="392.40" y="156.16" fill="#42ffbd"/>
<use href="#h9" x="398.40" y="156.16" fill="#4dffb2"/>
<use href="#h9" x="341.40" y="161.10" fill="#0061ff"/>
<use href="#h9" x="347.40" y="161.10" fill="#0061ff"/>
<use href="#h9" x="353.40" y="161.10" fill="#0061ff"/>
<use href="#h9" x="359.40" y="161.10" fill="#0080ff"/>
<use href="#h9" x="365.40" y="161.10" fill="#009eff"/>
<use href="#h9" x="371.40" y="161.10" fill="#00c7ff"/>
<use href="#h9" x="377.40" y="161.10" fill="#00e5ff"/>
<use href="#h9" x="383.40" y="161.10" fill="#05fffa"/>
<use href="#h9" x="389.40" y="161.10" fill="#1affe5"/>
<use href="#h9" x="395.40" y="161.10" fill="#1affe5"/>
<use href="#h9" x="344.40" y="166.03" fill="#004dff"/>
<use href="#h9" x="350.40" y="166.03" fill="#004dff"/>
<use href="#h9" x="356.40" y="166.03" fill="#004dff"/>
<use href="#h9" x="362.40" y="166.03" fill="#004dff"/>
<use href="#h9" x="368.40" y="166.03" fill="#0061ff"/>
<use href="#h9" x="374.40" y="166.03" fill="#0080ff"/>
<use href="#h9" x="380.40" y="166.03" fill="#009eff"/>
<use href="#h9" x="386.40" y="166.03" fill="#00b2ff"/>
<use href="#h9" x="392.40" y="166.03" fill="#00c7ff"/>
<use href="#h9" x="398.40" y="166.03" fill="#00c7ff"/>
<use href="#h9" x="341.40" y="170.97" fill="#001aff"/>
<use href="#h9" x="347.40" y="170.97" fill="#001aff"/>
<use href="#h9" x="353.40" y="170.97" fill="#001aff"/>
<use href="#h9" x="359.40" y="170.97" fill="#001aff"/>
<use href="#h9" x="365.40" y="170.97" fill="#0024ff"/>
<use href="#h9" x="371.40" y="170.97" fill="#002eff"/>
<use href="#h9" x="377.40" y="170.97" fill="#0038ff"/>
<use href="#h9" x="383.40" y="170.97" fill="#004dff"/>
<use href="#h9" x="389.40" y="170.97" fill="#004dff"/>
<use href="#h9" x="395.40" y="170.97" fill="#004dff"/>
<use href="#h9" x="344.40" y="175.90" fill="#0000fa"/>
<use href="#h9" x="350.40" y="175.90" fill="#0000fa"/>
<use href="#h9" x="356.40" y="175.90" fill="#0000fa"/>
<use href="#h9" x="362.40" y="175.90" fill="#0000fa"/>
<use href="#h9" x="368.40" y="175.90" fill="#0005ff"/>
<use href="#h9" x="374.40" y="175.90" fill="#000fff"/>
<use href="#h9" x="380.40" y="175.90" fill="#0024ff"/>
<use href="#h9" x="386.40" y="175.90" fill="#001aff"/>
<use href="#h9" x="392.40" y="175.90" fill="#001aff"/>
<use href="#h9" x="398.40" y="175.90" fill="#000fff"/>
<use href="#h9" x="341.40" y="180.84" fill="#0000e6"/>
<use href="#h9" x="347.40" y="180.84" fill="#0000e6"/>
<use href="#h9" x="353.40" y="180.84" fill="#0000e6"/>
<use href="#h9" x="359.40" y="180.84" fill="#0000e6"/>
<use href="#h9" x="365.40" y="180.84" fill="#0000f0"/>
<use href="#h9" x="371.40" y="180.84" fill="#000fff"/>
<use href="#h9" x="377.40" y="180.84" fill="#0024ff"/>
<use href="#h9" x="383.40" y="180.84" fill="#001aff"/>
<use href="#h9" x="389.40" y="180.84" fill="#0005ff"/>
<use href="#h9" x="395.40" y="180.84" fill="#0000fa"/>
<use href="#h9" x="344.40" y="185.77" fill="#0000e6"/>
<use href="#h9" x="350.40" y="185.77" fill="#0000e6"/>
<use href="#h9" x="356.40" y="185.77" fill="#0000e6"/>
<use href="#h9" x="362.40" y="185.77" fill="#0000e6"/>
<use href="#h9" x="368.40" y="185.77" fill="#0000f0"/>
<use href="#h9" x="374.40" y="185.77" fill="#0005ff"/>
<use href="#h9" x="380.40" y="185.77" fill="#002eff"/>
<use href="#h9" x="386.40" y="185.77" fill="#0024ff"/>
<use href="#h9" x="392.40" y="185.77" fill="#0005ff"/>
<use href="#h9" x="398.40" y="185.77" fill="#0000fa"/>
<use href="#h9" x="341.40" y="190.71" fill="#0000e6"/>
<use href="#h9" x="347.40" y="190.71" fill="#0000e6"/>
<use href="#h9" x="353.40" y="190.71" fill="#0000e6"/>
<use href="#h9" x="359.40" y="190.71" fill="#0000e6"/>
<use href="#h9" x="365.40" y="190.71" fill="#0000e6"/>
<use href="#h9" x="371.40" y="190.71" fill="#0000fa"/>
<use href="#h9" x="377.40" y="190.71" fill="#001aff"/>
<use href="#h9" x="383.40" y="190.71" fill="#001aff"/>
<use href="#h9" x="389.40" y="190.71" fill="#0000fa"/>
<use href="#h9" x="395.40" y="190.71" fill="#0000e6"/>
<use href="#h9" x="344.40" y="195.64" fill="#0000e6"/>
<use href="#h9" x="350.40" y="195.64" fill="#0000e6"/>
<use href="#h9" x="356.40" y="195.64" fill="#0000d1"/>
<use href="#h9" x="362.40" y="195.64" fill="#0000d1"/>
<use href="#h9" x="368.40" y="195.64" fill="#0000d1"/>
<use href="#h9" x="374.40" y="195.64" fill="#0000e6"/>
<use href="#h9" x="380.40" y="195.64" fill="#0000fa"/>
<use href="#h9" x="386.40" y="195.64" fill="#0000fa"/>
<use href="#h9" x="392.40" y="195.64" fill="#0000e6"/>
<use href="#h9" x="398.40" y="195.64" fill="#0000e6"/>
<use href="#h9" x="341.40" y="200.58" fill="#0000e6"/>
<use href="#h9" x="347.40" y="200.58" fill="#0000d1"/>
<use href="#h9" x="353.40" y="200.58" fill="#0000bd"/>
<use href="#h9" x="359.40" y="200.58" fill="#0000b2"/>
<use href="#h9" x="365.40" y="200.58" fill="#0000bd"/>
<use href="#h9" x="371.40" y="200.58" fill="#0000d1"/>
<use href="#h9" x="377.40" y="200.58" fill="#0000e6"/>
<use href="#h9" x="383.40" y="200.58" fill="#0000e6"/>
<use href="#h9" x="389.40" y="200.58" fill="#0000e6"/>
<use href="#h9" x="395.40" y="200.58" fill="#0000e6"/>
<use href="#h9" x="344.40" y="205.51" fill="#0000e6"/>
<use href="#h9" x="350.40" y="205.51" fill="#0000d1"/>
<use href="#h9" x="356.40" y="205.51" fill="#0000bd"/>
<use href="#h9" x="362.40" y="205.51" fill="#0000b2"/>
<use href="#h9" x="368.40" y="205.51" fill="#0000bd"/>
<use href="#h9" x="374.40" y="205.51" fill="#0000d1"/>
<use href="#h9" x="380.40" y="205.51" fill="#0000e6"/>
<use href="#h9" x="386.40" y="205.51" fill="#0000e6"/>
<use href="#h9" x="392.40" y="205.51" fill="#0000e6"/>
<use href="#h9" x="398.40" y="205.51" fill="#0000e6"/>
<rect x="410.0" y="128.0" width="6.2" height="81.0" fill="url(#jetg)"/>
<text x="419.0" y="132.0" class="cb">0.361</text>
<text x="419.0" y="152.2" class="cb">0.294</text>
<text x="419.0" y="172.5" class="cb">0.227</text>
<text x="419.0" y="192.8" class="cb">0.159</text>
<text x="419.0" y="213.0" class="cb">0.0923</text>
<text x="476.0" y="123.1" class="tt" text-anchor="middle">pH</text>
<defs><path id="h10" d="M0.00 -3.49 3.18 -1.74 3.18 1.74 0.00 3.49 -3.18 1.74 -3.18 -1.74 Z"/></defs>
<use href="#h10" x="448.20" y="131.49" fill="#009eff"/>
<use href="#h10" x="454.20" y="131.49" fill="#009eff"/>
<use href="#h10" x="460.20" y="131.49" fill="#0080ff"/>
<use href="#h10" x="466.20" y="131.49" fill="#0061ff"/>
<use href="#h10" x="472.20" y="131.49" fill="#0000fa"/>
<use href="#h10" x="478.20" y="131.49" fill="#0000fa"/>
<use href="#h10" x="484.20" y="131.49" fill="#009eff"/>
<use href="#h10" x="490.20" y="131.49" fill="#05fffa"/>
<use href="#h10" x="496.20" y="131.49" fill="#2effd1"/>
<use href="#h10" x="502.20" y="131.49" fill="#4dffb2"/>
<use href="#h10" x="451.20" y="136.42" fill="#0094ff"/>
<use href="#h10" x="457.20" y="136.42" fill="#0094ff"/>
<use href="#h10" x="463.20" y="136.42" fill="#0080ff"/>
<use href="#h10" x="469.20" y="136.42" fill="#004dff"/>
<use href="#h10" x="475.20" y="136.42" fill="#0000fa"/>
<use href="#h10" x="481.20" y="136.42" fill="#0000fa"/>
<use href="#h10" x="487.20" y="136.42" fill="#0080ff"/>
<use href="#h10" x="493.20" y="136.42" fill="#00e5ff"/>
<use href="#h10" x="499.20" y="136.42" fill="#2effd1"/>
<use href="#h10" x="505.20" y="136.42" fill="#6bff94"/>
<use href="#h10" x="448.20" y="141.36" fill="#0094ff"/>
<use href="#h10" x="454.20" y="141.36" fill="#00e5ff"/>
<use href="#h10" x="460.20" y="141.36" fill="#00e5ff"/>
<use href="#h10" x="466.20" y="141.36" fill="#0094ff"/>
<use href="#h10" x="472.20" y="141.36" fill="#001aff"/>
<use href="#h10" x="478.20" y="141.36" fill="#001aff"/>
<use href="#h10" x="484.20" y="141.36" fill="#0061ff"/>
<use href="#h10" x="490.20" y="141.36" fill="#00b2ff"/>
<use href="#h10" x="496.20" y="141.36" fill="#05fffa"/>
<use href="#h10" x="502.20" y="141.36" fill="#2effd1"/>
<use href="#h10" x="451.20" y="146.29" fill="#0080ff"/>
<use href="#h10" x="457.20" y="146.29" fill="#00faff"/>
<use href="#h10" x="463.20" y="146.29" fill="#1affe5"/>
<use href="#h10" x="469.20" y="146.29" fill="#00b2ff"/>
<use href="#h10" x="475.20" y="146.29" fill="#0038ff"/>
<use href="#h10" x="481.20" y="146.29" fill="#004dff"/>
<use href="#h10" x="487.20" y="146.29" fill="#0061ff"/>
<use href="#h10" x="493.20" y="146.29" fill="#009eff"/>
<use href="#h10" x="499.20" y="146.29" fill="#00e5ff"/>
<use href="#h10" x="505.20" y="146.29" fill="#05fffa"/>
<use href="#h10" x="448.20" y="151.23" fill="#0061ff"/>
<use href="#h10" x="454.20" y="151.23" fill="#00e5ff"/>
<use href="#h10" x="460.20" y="151.23" fill="#1affe5"/>
<use href="#h10" x="466.20" y="151.23" fill="#00e5ff"/>
<use href="#h10" x="472.20" y="151.23" fill="#0061ff"/>
<use href="#h10" x="478.20" y="151.23" fill="#0061ff"/>
<use href="#h10" x="484.20" y="151.23" fill="#0080ff"/>
<use href="#h10" x="490.20" y="151.23" fill="#00e5ff"/>
<use href="#h10" x="496.20" y="151.23" fill="#4dffb2"/>
<use href="#h10" x="502.20" y="151.23" fill="#b3ff4c"/>
<use href="#h10" x="451.20" y="156.16" fill="#004dff"/>
<use href="#h10" x="457.20" y="156.16" fill="#00d1ff"/>
<use href="#h10" x="463.20" y="156.16" fill="#24ffdb"/>
<use href="#h10" x="469.20" y="156.16" fill="#00e5ff"/>
<use href="#h10" x="475.20" y="156.16" fill="#0061ff"/>
<use href="#h10" x="481.20" y="156.16" fill="#004dff"/>
<use href="#h10" x="487.20" y="156.16" fill="#00b2ff"/>
<use href="#h10" x="493.20" y="156.16" fill="#80ff80"/>
<use href="#h10" x="499.20" y="156.16" fill="#ffe500"/>
<use href="#h10" x="505.20" y="156.16" fill="#ffb300"/>
<use href="#h10" x="448.20" y="161.10" fill="#0000fa"/>
<use href="#h10" x="454.20" y="161.10" fill="#00b2ff"/>
<use href="#h10" x="460.20" y="161.10" fill="#1affe5"/>
<use href="#h10" x="466.20" y="161.10" fill="#00faff"/>
<use href="#h10" x="472.20" y="161.10" fill="#0038ff"/>
<use href="#h10" x="478.20" y="161.10" fill="#001aff"/>
<use href="#h10" x="484.20" y="161.10" fill="#00c7ff"/>
<use href="#h10" x="490.20" y="161.10" fill="#e5ff1a"/>
<use href="#h10" x="496.20" y="161.10" fill="#ff6100"/>
<use href="#h10" x="502.20" y="161.10" fill="#ff1a00"/>
<use href="#h10" x="451.20" y="166.03" fill="#001aff"/>
<use href="#h10" x="457.20" y="166.03" fill="#00d1ff"/>
<use href="#h10" x="463.20" y="166.03" fill="#38ffc7"/>
<use href="#h10" x="469.20" y="166.03" fill="#00faff"/>
<use href="#h10" x="475.20" y="166.03" fill="#0038ff"/>
<use href="#h10" x="481.20" y="166.03" fill="#001aff"/>
<use href="#h10" x="487.20" y="166.03" fill="#00e5ff"/>
<use href="#h10" x="493.20" y="166.03" fill="#faff05"/>
<use href="#h10" x="499.20" y="166.03" fill="#ff1a00"/>
<use href="#h10" x="505.20" y="166.03" fill="#b30000"/>
<use href="#h10" x="448.20" y="170.97" fill="#0000fa"/>
<use href="#h10" x="454.20" y="170.97" fill="#00e5ff"/>
<use href="#h10" x="460.20" y="170.97" fill="#38ffc7"/>
<use href="#h10" x="466.20" y="170.97" fill="#05fffa"/>
<use href="#h10" x="472.20" y="170.97" fill="#004dff"/>
<use href="#h10" x="478.20" y="170.97" fill="#004dff"/>
<use href="#h10" x="484.20" y="170.97" fill="#05fffa"/>
<use href="#h10" x="490.20" y="170.97" fill="#e5ff1a"/>
<use href="#h10" x="496.20" y="170.97" fill="#ff1a00"/>
<use href="#h10" x="502.20" y="170.97" fill="#b30000"/>
<use href="#h10" x="451.20" y="175.90" fill="#004dff"/>
<use href="#h10" x="457.20" y="175.90" fill="#00d1ff"/>
<use href="#h10" x="463.20" y="175.90" fill="#1affe5"/>
<use href="#h10" x="469.20" y="175.90" fill="#05fffa"/>
<use href="#h10" x="475.20" y="175.90" fill="#009eff"/>
<use href="#h10" x="481.20" y="175.90" fill="#00b2ff"/>
<use href="#h10" x="487.20" y="175.90" fill="#2effd1"/>
<use href="#h10" x="493.20" y="175.90" fill="#faff05"/>
<use href="#h10" x="499.20" y="175.90" fill="#ff3800"/>
<use href="#h10" x="505.20" y="175.90" fill="#b30000"/>
<use href="#h10" x="448.20" y="180.84" fill="#0080ff"/>
<use href="#h10" x="454.20" y="180.84" fill="#00b2ff"/>
<use href="#h10" x="460.20" y="180.84" fill="#00d1ff"/>
<use href="#h10" x="466.20" y="180.84" fill="#00e5ff"/>
<use href="#h10" x="472.20" y="180.84" fill="#00e5ff"/>
<use href="#h10" x="478.20" y="180.84" fill="#1affe5"/>
<use href="#h10" x="484.20" y="180.84" fill="#80ff80"/>
<use href="#h10" x="490.20" y="180.84" fill="#ffe500"/>
<use href="#h10" x="496.20" y="180.84" fill="#ff6100"/>
<use href="#h10" x="502.20" y="180.84" fill="#ff3800"/>
<use href="#h10" x="451.20" y="185.77" fill="#001aff"/>
<use href="#h10" x="457.20" y="185.77" fill="#001aff"/>
<use href="#h10" x="463.20" y="185.77" fill="#004dff"/>
<use href="#h10" x="469.20" y="185.77" fill="#00b2ff"/>
<use href="#h10" x="475.20" y="185.77" fill="#05fffa"/>
<use href="#h10" x="481.20" y="185.77" fill="#4dffb2"/>
<use href="#h10" x="487.20" y="185.77" fill="#94ff6b"/>
<use href="#h10" x="493.20" y="185.77" fill="#faff05"/>
<use href="#h10" x="499.20" y="185.77" fill="#ff9e00"/>
<use href="#h10" x="505.20" y="185.77" fill="#ff8000"/>
<use href="#h10" x="448.20" y="190.71" fill="#0000fa"/>
<use href="#h10" x="454.20" y="190.71" fill="#0000fa"/>
<use href="#h10" x="460.20" y="190.71" fill="#0038ff"/>
<use href="#h10" x="466.20" y="190.71" fill="#00b2ff"/>
<use href="#h10" x="472.20" y="190.71" fill="#1affe5"/>
<use href="#h10" x="478.20" y="190.71" fill="#80ff80"/>
<use href="#h10" x="484.20" y="190.71" fill="#b3ff4c"/>
<use href="#h10" x="490.20" y="190.71" fill="#d1ff2e"/>
<use href="#h10" x="496.20" y="190.71" fill="#ffe500"/>
<use href="#h10" x="502.20" y="190.71" fill="#ffc700"/>
<use href="#h10" x="451.20" y="195.64" fill="#0000d1"/>
<use href="#h10" x="457.20" y="195.64" fill="#0000e6"/>
<use href="#h10" x="463.20" y="195.64" fill="#001aff"/>
<use href="#h10" x="469.20" y="195.64" fill="#00b2ff"/>
<use href="#h10" x="475.20" y="195.64" fill="#2effd1"/>
<use href="#h10" x="481.20" y="195.64" fill="#b3ff4c"/>
<use href="#h10" x="487.20" y="195.64" fill="#e5ff1a"/>
<use href="#h10" x="493.20" y="195.64" fill="#d1ff2e"/>
<use href="#h10" x="499.20" y="195.64" fill="#e5ff1a"/>
<use href="#h10" x="505.20" y="195.64" fill="#faff05"/>
<use href="#h10" x="448.20" y="200.58" fill="#0000bd"/>
<use href="#h10" x="454.20" y="200.58" fill="#0000d1"/>
<use href="#h10" x="460.20" y="200.58" fill="#001aff"/>
<use href="#h10" x="466.20" y="200.58" fill="#00c7ff"/>
<use href="#h10" x="472.20" y="200.58" fill="#4dffb2"/>
<use href="#h10" x="478.20" y="200.58" fill="#d1ff2e"/>
<use href="#h10" x="484.20" y="200.58" fill="#faff05"/>
<use href="#h10" x="490.20" y="200.58" fill="#e5ff1a"/>
<use href="#h10" x="496.20" y="200.58" fill="#d1ff2e"/>
<use href="#h10" x="502.20" y="200.58" fill="#e5ff1a"/>
<use href="#h10" x="451.20" y="205.51" fill="#0000d1"/>
<use href="#h10" x="457.20" y="205.51" fill="#0000e6"/>
<use href="#h10" x="463.20" y="205.51" fill="#004dff"/>
<use href="#h10" x="469.20" y="205.51" fill="#00e5ff"/>
<use href="#h10" x="475.20" y="205.51" fill="#80ff80"/>
<use href="#h10" x="481.20" y="205.51" fill="#e5ff1a"/>
<use href="#h10" x="487.20" y="205.51" fill="#faff05"/>
<use href="#h10" x="493.20" y="205.51" fill="#e5ff1a"/>
<use href="#h10" x="499.20" y="205.51" fill="#d1ff2e"/>
<use href="#h10" x="505.20" y="205.51" fill="#d1ff2e"/>
<rect x="516.8" y="128.0" width="6.2" height="81.0" fill="url(#jetg)"/>
<text x="525.8" y="132.0" class="cb">0.634</text>
<text x="525.8" y="152.2" class="cb">0.539</text>
<text x="525.8" y="172.5" class="cb">0.444</text>
<text x="525.8" y="192.8" class="cb">0.349</text>
<text x="525.8" y="213.0" class="cb">0.254</text>
<text transform="translate(3.6,34.9) scale(0.83,1)" class="big" style="font-size:20.5px">a</text>
<rect x="37.5" y="223.8" width="476" height="327.6" fill="#fff" stroke="#606060" stroke-width="1.2"/>
<clipPath id="cty"><polygon points="70.0,249.6 87.0,248.4 107.0,249.0 127.0,252.0 141.0,256.0 146.0,260.5 164.0,261.4 168.0,259.0 171.0,257.0 182.0,256.4 185.0,259.0 187.0,264.0 189.0,272.0 194.0,276.0 198.0,280.0 200.0,288.0 201.0,292.0 208.0,293.6 230.0,294.0 250.0,294.0 267.0,293.6 269.0,290.0 270.0,280.0 270.0,271.0 273.0,269.6 279.0,268.0 281.0,262.0 285.0,258.0 289.0,255.6 305.0,255.0 325.0,255.6 331.0,259.0 337.0,264.0 341.0,270.0 343.0,276.0 345.0,284.0 347.0,292.0 349.0,298.0 351.0,306.0 352.0,316.0 350.0,324.0 343.0,328.0 341.0,332.0 342.0,338.0 345.0,346.0 349.0,354.0 354.0,362.0 360.0,368.0 368.0,374.0 376.0,378.0 384.0,378.5 394.0,380.0 404.0,382.6 413.0,382.6 416.6,379.0 417.8,367.0 417.8,353.0 417.4,335.4 422.5,333.7 432.0,334.7 441.5,339.0 451.0,344.8 460.0,349.5 470.0,355.5 479.0,357.8 488.7,360.0 495.8,365.0 498.0,372.0 500.0,379.0 500.0,397.0 499.6,415.0 500.0,433.6 499.0,442.7 496.0,446.0 492.7,447.0 483.6,450.0 474.5,451.0 465.5,452.0 456.0,452.7 438.0,455.5 429.0,458.0 420.0,461.0 412.0,468.0 404.0,472.5 396.0,476.5 389.0,481.0 386.7,484.7 374.0,486.5 361.0,488.5 353.6,493.6 346.0,497.4 335.8,501.0 328.0,503.8 315.0,506.0 305.0,509.0 295.0,511.4 290.0,512.7 284.0,511.5 271.0,513.5 257.0,516.5 246.0,521.0 238.5,526.0 233.0,523.0 230.4,514.8 229.0,501.0 226.0,488.0 223.7,474.0 222.3,461.0 223.7,450.0 223.7,434.0 226.0,423.0 233.0,417.7 239.0,415.5 241.0,409.0 239.0,402.4 234.8,395.8 228.0,391.5 217.3,388.0 206.4,385.0 195.5,383.8 184.6,383.8 173.7,385.4 162.7,389.3 152.0,393.7 141.0,394.8 130.0,392.6 126.0,387.0 122.0,380.0 118.0,372.0 113.0,367.0 105.0,365.6 97.0,367.0 93.0,371.0 91.5,377.0 89.0,385.0 84.0,389.0 79.0,387.0 71.0,380.0 63.0,371.0 57.0,360.0 53.0,348.0 48.0,340.0 45.0,330.0 44.0,320.0 43.2,312.0 43.2,305.0 46.7,300.0 52.0,296.4 55.0,292.0 57.0,288.0 58.0,280.0 60.0,273.0 65.0,269.0 69.0,260.0 70.0,249.6"/></clipPath>
<polygon points="70.0,249.6 87.0,248.4 107.0,249.0 127.0,252.0 141.0,256.0 146.0,260.5 164.0,261.4 168.0,259.0 171.0,257.0 182.0,256.4 185.0,259.0 187.0,264.0 189.0,272.0 194.0,276.0 198.0,280.0 200.0,288.0 201.0,292.0 208.0,293.6 230.0,294.0 250.0,294.0 267.0,293.6 269.0,290.0 270.0,280.0 270.0,271.0 273.0,269.6 279.0,268.0 281.0,262.0 285.0,258.0 289.0,255.6 305.0,255.0 325.0,255.6 331.0,259.0 337.0,264.0 341.0,270.0 343.0,276.0 345.0,284.0 347.0,292.0 349.0,298.0 351.0,306.0 352.0,316.0 350.0,324.0 343.0,328.0 341.0,332.0 342.0,338.0 345.0,346.0 349.0,354.0 354.0,362.0 360.0,368.0 368.0,374.0 376.0,378.0 384.0,378.5 394.0,380.0 404.0,382.6 413.0,382.6 416.6,379.0 417.8,367.0 417.8,353.0 417.4,335.4 422.5,333.7 432.0,334.7 441.5,339.0 451.0,344.8 460.0,349.5 470.0,355.5 479.0,357.8 488.7,360.0 495.8,365.0 498.0,372.0 500.0,379.0 500.0,397.0 499.6,415.0 500.0,433.6 499.0,442.7 496.0,446.0 492.7,447.0 483.6,450.0 474.5,451.0 465.5,452.0 456.0,452.7 438.0,455.5 429.0,458.0 420.0,461.0 412.0,468.0 404.0,472.5 396.0,476.5 389.0,481.0 386.7,484.7 374.0,486.5 361.0,488.5 353.6,493.6 346.0,497.4 335.8,501.0 328.0,503.8 315.0,506.0 305.0,509.0 295.0,511.4 290.0,512.7 284.0,511.5 271.0,513.5 257.0,516.5 246.0,521.0 238.5,526.0 233.0,523.0 230.4,514.8 229.0,501.0 226.0,488.0 223.7,474.0 222.3,461.0 223.7,450.0 223.7,434.0 226.0,423.0 233.0,417.7 239.0,415.5 241.0,409.0 239.0,402.4 234.8,395.8 228.0,391.5 217.3,388.0 206.4,385.0 195.5,383.8 184.6,383.8 173.7,385.4 162.7,389.3 152.0,393.7 141.0,394.8 130.0,392.6 126.0,387.0 122.0,380.0 118.0,372.0 113.0,367.0 105.0,365.6 97.0,367.0 93.0,371.0 91.5,377.0 89.0,385.0 84.0,389.0 79.0,387.0 71.0,380.0 63.0,371.0 57.0,360.0 53.0,348.0 48.0,340.0 45.0,330.0 44.0,320.0 43.2,312.0 43.2,305.0 46.7,300.0 52.0,296.4 55.0,292.0 57.0,288.0 58.0,280.0 60.0,273.0 65.0,269.0 69.0,260.0 70.0,249.6" fill="#dbdbdb"/>
<g clip-path="url(#cty)">
<polygon points="30.0,230.0 340.0,230.0 338.0,262.0 334.0,290.0 336.0,310.0 330.0,334.0 300.0,340.0 288.0,341.0 272.0,341.0 258.0,340.0 240.0,340.0 226.0,342.0 214.0,347.0 207.0,356.0 205.0,366.0 202.0,374.0 196.0,378.0 183.6,382.0 171.0,384.0 158.0,384.7 145.0,385.5 132.7,387.0 120.0,386.0 30.0,386.0" fill="#5ef55e"/>
<polygon points="318.0,262.0 332.0,262.0 340.0,272.0 344.0,290.0 336.0,296.0 328.0,288.0 322.0,275.0" fill="#5ef55e"/>
<polygon points="318.0,303.0 338.0,298.0 346.0,310.0 346.0,325.0 335.0,330.0 325.0,322.0" fill="#5ef55e"/>
<polygon points="305.0,335.0 318.0,333.0 326.0,342.0 322.0,352.0 310.0,350.0" fill="#5ef55e"/>
<polygon points="262.0,335.0 275.0,333.0 282.0,340.0 276.0,346.0 265.0,344.0" fill="#5ef55e"/>
<polygon points="417.0,343.0 425.0,340.0 433.0,344.0 438.0,352.0 440.0,357.0 452.0,360.0 470.0,362.0 468.0,368.0 450.0,366.0 433.0,362.0 424.0,358.0 417.0,356.0" fill="#5ef55e"/>
<polygon points="425.0,335.0 436.0,334.0 440.0,340.0 430.0,341.0" fill="#5ef55e"/>
<polygon points="50.0,285.0 58.0,282.0 62.0,290.0 60.0,300.0 53.0,302.0 48.0,296.0" fill="#d9d9d9"/>
<polygon points="168.0,364.0 180.0,362.0 186.0,370.0 182.0,380.0 170.0,380.0" fill="#d9d9d9"/>
<polygon points="217.0,342.0 226.0,341.0 227.0,349.0 220.0,351.0" fill="#d9d9d9"/>
<polygon points="272.0,341.0 284.0,340.0 286.0,348.0 276.0,350.0" fill="#d9d9d9"/>
<polygon points="328.0,255.0 342.0,262.0 350.0,300.0 352.0,318.0 343.0,332.0 334.0,324.0 337.0,300.0 332.0,280.0" fill="#d9d9d9"/>
<polygon points="296.0,256.0 312.0,255.0 310.0,262.0 298.0,263.0" fill="#d9d9d9"/>
<polygon points="40.0,240.0 300.0,240.0 300.0,249.0 40.0,249.0" fill="#d9d9d9"/>
<polygon points="69.0,250.0 78.0,249.0 76.0,256.0 73.0,266.0 68.0,274.0 62.0,281.0 58.0,282.0 57.0,276.0 61.0,270.0 66.0,266.0 68.0,258.0" fill="#3c9a1e"/>
<polygon points="86.0,368.0 92.0,366.0 93.0,376.0 90.0,384.0 86.0,384.0 84.0,376.0" fill="#3c9a1e"/>
<path d="M74.5 359.1h2v2.6h-2zM81.6 369.1h2v2.6h-2zM79.3 368.1h2v2.6h-2zM50.2 345.3h2v2.6h-2zM87.7 354.4h2v2.6h-2zM85.9 327.7h2v2.6h-2zM68.2 334.3h2v2.6h-2zM71.3 350.7h2v2.6h-2zM49.5 332.8h2v2.6h-2zM60.5 367.8h2v2.6h-2zM80.4 330.0h2v2.6h-2zM81.7 328.9h2v2.6h-2zM74.3 328.3h2v2.6h-2zM49.1 365.6h2v2.6h-2zM57.6 332.8h2v2.6h-2zM89.3 365.6h2v2.6h-2zM60.9 370.1h2v2.6h-2zM71.1 355.9h2v2.6h-2zM57.4 369.0h2v2.6h-2zM77.3 370.3h2v2.6h-2zM85.6 336.9h2v2.6h-2zM63.8 330.3h2v2.6h-2zM55.0 325.3h2v2.6h-2zM61.4 352.2h2v2.6h-2zM49.1 355.9h2v2.6h-2zM62.9 337.5h2v2.6h-2zM82.6 346.0h2v2.6h-2zM61.9 346.1h2v2.6h-2zM77.9 324.9h2v2.6h-2zM89.0 323.1h2v2.6h-2zM79.7 364.2h2v2.6h-2zM49.7 361.4h2v2.6h-2zM64.0 350.9h2v2.6h-2zM49.4 324.3h2v2.6h-2z" fill="#3c9a1e"/>
<polygon points="88.0,280.0 100.0,275.0 114.0,277.0 122.0,283.0 124.0,295.0 120.0,308.0 114.0,320.0 104.0,324.0 94.0,318.0 88.0,306.0 86.0,292.0" fill="#fdfcc4"/>
<polygon points="140.0,290.0 156.0,287.0 170.0,290.0 172.0,300.0 160.0,300.0 145.0,296.0" fill="#fdfcc4"/>
<polygon points="147.0,276.0 155.0,276.0 155.0,290.0 147.0,290.0" fill="#fdfcc4"/>
<polygon points="128.0,316.0 145.0,313.0 160.0,318.0 176.0,324.0 186.0,334.0 180.0,338.0 164.0,336.0 148.0,328.0 132.0,324.0" fill="#fdfcc4"/>
<polygon points="170.0,304.0 180.0,306.0 186.0,316.0 180.0,318.0 172.0,312.0" fill="#fdfcc4"/>
<polygon points="219.0,327.0 228.0,330.0 229.0,336.0 220.0,335.0" fill="#fdfcc4"/>
<polygon points="200.0,356.0 212.0,346.0 232.0,342.0 262.0,342.0 285.0,348.0 310.0,352.0 330.0,356.0 338.0,368.0 332.0,382.0 328.0,392.0 326.0,410.0 316.0,428.0 304.0,440.0 292.0,438.0 286.0,420.0 282.0,398.0 250.0,394.0 240.0,390.0 228.0,386.0 214.0,376.0 202.0,366.0" fill="#fdfcc4"/>
<polygon points="230.0,398.0 246.0,398.0 247.0,430.0 242.0,470.0 240.0,520.0 236.0,520.0 236.0,470.0 232.0,430.0" fill="#fdfcc4"/>
<polygon points="418.0,358.0 430.0,360.0 440.0,366.0 436.0,380.0 434.0,396.0 418.0,396.0" fill="#fdfcc4"/>
<polygon points="440.0,366.0 462.0,370.0 470.0,380.0 455.0,384.0 444.0,378.0" fill="#fdfcc4"/>
<polygon points="298.0,262.0 314.0,260.0 322.0,280.0 320.0,300.0 312.0,306.0 302.0,292.0" fill="#fdfcc4"/>
<polygon points="262.0,324.0 274.0,318.0 284.0,320.0 282.0,330.0 266.0,332.0" fill="#fdfcc4"/>
<polygon points="300.0,305.0 316.0,306.0 322.0,322.0 310.0,334.0 298.0,330.0" fill="#fdfcc4"/>
<polygon points="345.0,360.0 360.0,364.0 385.0,378.0 415.0,392.0 410.0,398.0 380.0,392.0 350.0,382.0 342.0,370.0" fill="#fdfcc4"/>
<polygon points="302.0,272.0 305.0,271.0 316.0,298.0 321.0,326.0 318.0,328.0 311.0,300.0" fill="#bfe6f5"/>
<polygon points="372.0,389.0 388.0,387.0 398.0,390.0 388.0,393.0 374.0,393.0" fill="#f08070"/>
<polygon points="398.0,394.0 408.0,391.0 418.0,392.0 422.0,398.0 416.0,403.0 404.0,402.0" fill="#f08070"/>
<polygon points="318.0,368.0 328.0,366.0 330.0,376.0 322.0,378.0" fill="#f08070"/>
<path d="M37.0 305.5 L73.4 311.0 L102.5 316.4 L125.0 318.5 L146.0 318.0 L164.0 314.5 L182.5 309.0 L200.0 301.0 L215.0 296.0" fill="none" stroke="#f0a030" stroke-width="0.80" stroke-linejoin="round"/>
<path d="M240.0 452.0 L262.0 449.0 L290.0 446.0 L320.0 438.0 L335.0 430.0" fill="none" stroke="#f0a030" stroke-width="0.80" stroke-linejoin="round"/>
<path d="M420.0 393.6 L460.0 392.5 L500.0 391.8" fill="none" stroke="#f0a030" stroke-width="0.80" stroke-linejoin="round"/>
<path d="M483.6 401.0 L492.0 408.0 L500.0 414.5" fill="none" stroke="#f0a030" stroke-width="0.80" stroke-linejoin="round"/>
<path d="M413.0 398.0 L420.0 425.0 L425.0 445.0 L430.0 465.0" fill="none" stroke="#f0a030" stroke-width="0.80" stroke-linejoin="round"/>
<path d="M37.0 317.0 L42.5 320.0 L73.4 329.0 L100.0 336.4 L121.8 341.8 L143.6 351.6 L160.0 359.3 L186.0 365.0 L204.5 371.0 L222.7 379.0 L237.3 384.5 L250.0 388.0 L281.0 395.6 L306.0 397.4 L332.0 400.0 L370.0 407.7 L421.0 420.4 L446.0 421.7 L472.0 418.0 L500.0 413.5" fill="none" stroke="#f07080" stroke-width="0.80" stroke-linejoin="round"/>
<path d="M37.0 310.5 L42.5 311.6 L73.4 318.9 L100.0 328.2 L121.8 333.1 L143.6 340.2 L160.0 346.7 L186.4 355.5 L204.5 366.4 L222.7 376.4 L241.0 386.4 L255.5 391.2 L281.0 393.2 L306.5 394.7 L332.0 396.7 L357.5 398.3 L383.0 399.8 L408.6 400.8 L434.0 400.8 L459.6 399.8 L485.0 399.8 L495.0 400.8 L508.0 401.8" fill="none" stroke="#b0b0b0" stroke-width="1.30" stroke-linejoin="round"/>
<path d="M37.0 310.5 L42.5 311.6 L73.4 318.9 L100.0 328.2 L121.8 333.1 L143.6 340.2 L160.0 346.7 L186.4 355.5 L204.5 366.4 L222.7 376.4 L241.0 386.4 L255.5 391.2 L281.0 393.2 L306.5 394.7 L332.0 396.7 L357.5 398.3 L383.0 399.8 L408.6 400.8 L434.0 400.8 L459.6 399.8 L485.0 399.8 L495.0 400.8 L508.0 401.8" fill="none" stroke="#111" stroke-width="1.40" stroke-linejoin="round" stroke-dasharray="5,2"/>
</g>
<polygon points="70.0,249.6 87.0,248.4 107.0,249.0 127.0,252.0 141.0,256.0 146.0,260.5 164.0,261.4 168.0,259.0 171.0,257.0 182.0,256.4 185.0,259.0 187.0,264.0 189.0,272.0 194.0,276.0 198.0,280.0 200.0,288.0 201.0,292.0 208.0,293.6 230.0,294.0 250.0,294.0 267.0,293.6 269.0,290.0 270.0,280.0 270.0,271.0 273.0,269.6 279.0,268.0 281.0,262.0 285.0,258.0 289.0,255.6 305.0,255.0 325.0,255.6 331.0,259.0 337.0,264.0 341.0,270.0 343.0,276.0 345.0,284.0 347.0,292.0 349.0,298.0 351.0,306.0 352.0,316.0 350.0,324.0 343.0,328.0 341.0,332.0 342.0,338.0 345.0,346.0 349.0,354.0 354.0,362.0 360.0,368.0 368.0,374.0 376.0,378.0 384.0,378.5 394.0,380.0 404.0,382.6 413.0,382.6 416.6,379.0 417.8,367.0 417.8,353.0 417.4,335.4 422.5,333.7 432.0,334.7 441.5,339.0 451.0,344.8 460.0,349.5 470.0,355.5 479.0,357.8 488.7,360.0 495.8,365.0 498.0,372.0 500.0,379.0 500.0,397.0 499.6,415.0 500.0,433.6 499.0,442.7 496.0,446.0 492.7,447.0 483.6,450.0 474.5,451.0 465.5,452.0 456.0,452.7 438.0,455.5 429.0,458.0 420.0,461.0 412.0,468.0 404.0,472.5 396.0,476.5 389.0,481.0 386.7,484.7 374.0,486.5 361.0,488.5 353.6,493.6 346.0,497.4 335.8,501.0 328.0,503.8 315.0,506.0 305.0,509.0 295.0,511.4 290.0,512.7 284.0,511.5 271.0,513.5 257.0,516.5 246.0,521.0 238.5,526.0 233.0,523.0 230.4,514.8 229.0,501.0 226.0,488.0 223.7,474.0 222.3,461.0 223.7,450.0 223.7,434.0 226.0,423.0 233.0,417.7 239.0,415.5 241.0,409.0 239.0,402.4 234.8,395.8 228.0,391.5 217.3,388.0 206.4,385.0 195.5,383.8 184.6,383.8 173.7,385.4 162.7,389.3 152.0,393.7 141.0,394.8 130.0,392.6 126.0,387.0 122.0,380.0 118.0,372.0 113.0,367.0 105.0,365.6 97.0,367.0 93.0,371.0 91.5,377.0 89.0,385.0 84.0,389.0 79.0,387.0 71.0,380.0 63.0,371.0 57.0,360.0 53.0,348.0 48.0,340.0 45.0,330.0 44.0,320.0 43.2,312.0 43.2,305.0 46.7,300.0 52.0,296.4 55.0,292.0 57.0,288.0 58.0,280.0 60.0,273.0 65.0,269.0 69.0,260.0 70.0,249.6" fill="none" stroke="#555" stroke-width="0.8"/>
<path d="M74.6 257.5h3v3h-3zM85.7 257.5h3v3h-3zM96.9 257.5h3v3h-3zM108.0 257.5h3v3h-3zM286.3 257.5h3v3h-3zM74.6 266.5h3v3h-3zM85.7 266.5h3v3h-3zM96.9 266.5h3v3h-3zM108.0 266.5h3v3h-3zM119.2 266.5h3v3h-3zM130.3 266.5h3v3h-3zM174.9 266.5h3v3h-3zM286.3 266.5h3v3h-3zM63.5 275.6h3v3h-3zM119.2 275.6h3v3h-3zM130.3 275.6h3v3h-3zM141.4 275.6h3v3h-3zM174.9 275.6h3v3h-3zM275.1 275.6h3v3h-3zM286.3 275.6h3v3h-3zM63.5 284.7h3v3h-3zM74.6 284.7h3v3h-3zM85.7 284.7h3v3h-3zM130.3 284.7h3v3h-3zM174.9 284.7h3v3h-3zM186.0 284.7h3v3h-3zM275.1 284.7h3v3h-3zM52.3 293.8h3v3h-3zM63.5 293.8h3v3h-3zM74.6 293.8h3v3h-3zM130.3 293.8h3v3h-3zM141.4 293.8h3v3h-3zM186.0 293.8h3v3h-3zM264.0 293.8h3v3h-3zM286.3 293.8h3v3h-3zM52.3 302.8h3v3h-3zM63.5 302.8h3v3h-3zM74.6 302.8h3v3h-3zM85.7 302.8h3v3h-3zM119.2 302.8h3v3h-3zM130.3 302.8h3v3h-3zM141.4 302.8h3v3h-3zM152.6 302.8h3v3h-3zM186.0 302.8h3v3h-3zM197.1 302.8h3v3h-3zM208.3 302.8h3v3h-3zM219.4 302.8h3v3h-3zM252.8 302.8h3v3h-3zM264.0 302.8h3v3h-3zM275.1 302.8h3v3h-3zM286.3 302.8h3v3h-3zM52.3 311.9h3v3h-3zM63.5 311.9h3v3h-3zM74.6 311.9h3v3h-3zM85.7 311.9h3v3h-3zM119.2 311.9h3v3h-3zM130.3 311.9h3v3h-3zM152.6 311.9h3v3h-3zM163.7 311.9h3v3h-3zM186.0 311.9h3v3h-3zM197.1 311.9h3v3h-3zM208.3 311.9h3v3h-3zM219.4 311.9h3v3h-3zM230.6 311.9h3v3h-3zM241.7 311.9h3v3h-3zM252.8 311.9h3v3h-3zM264.0 311.9h3v3h-3zM275.1 311.9h3v3h-3zM63.5 321.0h3v3h-3zM85.7 321.0h3v3h-3zM197.1 321.0h3v3h-3zM208.3 321.0h3v3h-3zM230.6 321.0h3v3h-3zM241.7 321.0h3v3h-3zM252.8 321.0h3v3h-3zM275.1 321.0h3v3h-3zM286.3 321.0h3v3h-3zM52.3 330.0h3v3h-3zM63.5 330.0h3v3h-3zM130.3 330.0h3v3h-3zM141.4 330.0h3v3h-3zM197.1 330.0h3v3h-3zM219.4 330.0h3v3h-3zM230.6 330.0h3v3h-3zM241.7 330.0h3v3h-3zM252.8 330.0h3v3h-3zM264.0 330.0h3v3h-3zM275.1 330.0h3v3h-3zM286.3 330.0h3v3h-3zM52.3 339.1h3v3h-3zM63.5 339.1h3v3h-3zM74.6 339.1h3v3h-3zM96.9 339.1h3v3h-3zM141.4 339.1h3v3h-3zM152.6 339.1h3v3h-3zM163.7 339.1h3v3h-3zM174.9 339.1h3v3h-3zM186.0 339.1h3v3h-3zM208.3 339.1h3v3h-3zM230.6 339.1h3v3h-3zM241.7 339.1h3v3h-3zM252.8 339.1h3v3h-3zM264.0 339.1h3v3h-3zM275.1 339.1h3v3h-3zM286.3 339.1h3v3h-3zM297.4 339.1h3v3h-3zM308.5 339.1h3v3h-3zM319.7 339.1h3v3h-3zM330.8 339.1h3v3h-3zM52.3 348.2h3v3h-3zM63.5 348.2h3v3h-3zM74.6 348.2h3v3h-3zM119.2 348.2h3v3h-3zM141.4 348.2h3v3h-3zM163.7 348.2h3v3h-3zM186.0 348.2h3v3h-3zM197.1 348.2h3v3h-3zM208.3 348.2h3v3h-3zM219.4 348.2h3v3h-3zM230.6 348.2h3v3h-3zM241.7 348.2h3v3h-3zM252.8 348.2h3v3h-3zM264.0 348.2h3v3h-3zM275.1 348.2h3v3h-3zM286.3 348.2h3v3h-3zM297.4 348.2h3v3h-3zM308.5 348.2h3v3h-3zM319.7 348.2h3v3h-3zM330.8 348.2h3v3h-3zM63.5 357.2h3v3h-3zM74.6 357.2h3v3h-3zM85.7 357.2h3v3h-3zM119.2 357.2h3v3h-3zM130.3 357.2h3v3h-3zM141.4 357.2h3v3h-3zM152.6 357.2h3v3h-3zM163.7 357.2h3v3h-3zM186.0 357.2h3v3h-3zM197.1 357.2h3v3h-3zM208.3 357.2h3v3h-3zM219.4 357.2h3v3h-3zM230.6 357.2h3v3h-3zM241.7 357.2h3v3h-3zM252.8 357.2h3v3h-3zM264.0 357.2h3v3h-3zM275.1 357.2h3v3h-3zM286.3 357.2h3v3h-3zM297.4 357.2h3v3h-3zM308.5 357.2h3v3h-3zM319.7 357.2h3v3h-3zM330.8 357.2h3v3h-3zM74.6 366.3h3v3h-3zM85.7 366.3h3v3h-3zM119.2 366.3h3v3h-3zM130.3 366.3h3v3h-3zM141.4 366.3h3v3h-3zM152.6 366.3h3v3h-3zM163.7 366.3h3v3h-3zM174.9 366.3h3v3h-3zM186.0 366.3h3v3h-3zM197.1 366.3h3v3h-3zM208.3 366.3h3v3h-3zM219.4 366.3h3v3h-3zM230.6 366.3h3v3h-3zM241.7 366.3h3v3h-3zM252.8 366.3h3v3h-3zM264.0 366.3h3v3h-3zM275.1 366.3h3v3h-3zM286.3 366.3h3v3h-3zM297.4 366.3h3v3h-3zM308.5 366.3h3v3h-3zM319.7 366.3h3v3h-3zM330.8 366.3h3v3h-3zM163.7 375.4h3v3h-3zM186.0 375.4h3v3h-3zM197.1 375.4h3v3h-3zM208.3 375.4h3v3h-3zM219.4 375.4h3v3h-3zM230.6 375.4h3v3h-3zM241.7 375.4h3v3h-3zM252.8 375.4h3v3h-3zM264.0 375.4h3v3h-3zM275.1 375.4h3v3h-3zM286.3 375.4h3v3h-3zM297.4 375.4h3v3h-3zM308.5 375.4h3v3h-3zM319.7 375.4h3v3h-3zM330.8 375.4h3v3h-3zM85.7 384.4h3v3h-3zM130.3 384.4h3v3h-3zM141.4 384.4h3v3h-3zM152.6 384.4h3v3h-3zM163.7 384.4h3v3h-3zM219.4 384.4h3v3h-3zM230.6 384.4h3v3h-3zM241.7 384.4h3v3h-3zM252.8 384.4h3v3h-3zM264.0 384.4h3v3h-3zM275.1 384.4h3v3h-3zM286.3 384.4h3v3h-3zM297.4 384.4h3v3h-3zM308.5 384.4h3v3h-3zM319.7 384.4h3v3h-3zM330.8 384.4h3v3h-3zM241.7 393.5h3v3h-3zM252.8 393.5h3v3h-3zM264.0 393.5h3v3h-3zM275.1 393.5h3v3h-3zM286.3 393.5h3v3h-3zM297.4 393.5h3v3h-3zM308.5 393.5h3v3h-3zM319.7 393.5h3v3h-3zM330.8 393.5h3v3h-3zM342.0 393.5h3v3h-3zM353.1 393.5h3v3h-3zM364.2 393.5h3v3h-3zM375.4 393.5h3v3h-3zM386.5 393.5h3v3h-3zM397.7 393.5h3v3h-3zM408.8 393.5h3v3h-3zM419.9 393.5h3v3h-3zM241.7 402.6h3v3h-3zM252.8 402.6h3v3h-3zM275.1 402.6h3v3h-3zM286.3 402.6h3v3h-3zM297.4 402.6h3v3h-3zM308.5 402.6h3v3h-3zM319.7 402.6h3v3h-3zM330.8 402.6h3v3h-3zM342.0 402.6h3v3h-3zM353.1 402.6h3v3h-3zM364.2 402.6h3v3h-3zM375.4 402.6h3v3h-3zM386.5 402.6h3v3h-3zM397.7 402.6h3v3h-3zM419.9 402.6h3v3h-3zM431.1 402.6h3v3h-3zM442.2 402.6h3v3h-3zM453.4 402.6h3v3h-3zM464.5 402.6h3v3h-3zM475.6 402.6h3v3h-3zM486.8 402.6h3v3h-3zM497.9 402.6h3v3h-3zM241.7 411.7h3v3h-3zM252.8 411.7h3v3h-3zM264.0 411.7h3v3h-3zM286.3 411.7h3v3h-3zM297.4 411.7h3v3h-3zM308.5 411.7h3v3h-3zM319.7 411.7h3v3h-3zM330.8 411.7h3v3h-3zM342.0 411.7h3v3h-3zM353.1 411.7h3v3h-3zM364.2 411.7h3v3h-3zM375.4 411.7h3v3h-3zM397.7 411.7h3v3h-3zM408.8 411.7h3v3h-3zM419.9 411.7h3v3h-3zM431.1 411.7h3v3h-3zM442.2 411.7h3v3h-3zM453.4 411.7h3v3h-3zM464.5 411.7h3v3h-3zM475.6 411.7h3v3h-3zM486.8 411.7h3v3h-3zM497.9 411.7h3v3h-3zM230.6 420.7h3v3h-3zM241.7 420.7h3v3h-3zM297.4 420.7h3v3h-3zM308.5 420.7h3v3h-3zM319.7 420.7h3v3h-3zM330.8 420.7h3v3h-3zM342.0 420.7h3v3h-3zM353.1 420.7h3v3h-3zM364.2 420.7h3v3h-3zM375.4 420.7h3v3h-3zM386.5 420.7h3v3h-3zM397.7 420.7h3v3h-3zM408.8 420.7h3v3h-3zM419.9 420.7h3v3h-3zM442.2 420.7h3v3h-3zM464.5 420.7h3v3h-3zM475.6 420.7h3v3h-3zM486.8 420.7h3v3h-3zM497.9 420.7h3v3h-3zM230.6 429.8h3v3h-3zM241.7 429.8h3v3h-3zM252.8 429.8h3v3h-3zM264.0 429.8h3v3h-3zM275.1 429.8h3v3h-3zM286.3 429.8h3v3h-3zM297.4 429.8h3v3h-3zM319.7 429.8h3v3h-3zM330.8 429.8h3v3h-3zM353.1 429.8h3v3h-3zM364.2 429.8h3v3h-3zM375.4 429.8h3v3h-3zM386.5 429.8h3v3h-3zM397.7 429.8h3v3h-3zM408.8 429.8h3v3h-3zM419.9 429.8h3v3h-3zM431.1 429.8h3v3h-3zM442.2 429.8h3v3h-3zM453.4 429.8h3v3h-3zM464.5 429.8h3v3h-3zM475.6 429.8h3v3h-3zM486.8 429.8h3v3h-3zM497.9 429.8h3v3h-3zM230.6 438.9h3v3h-3zM241.7 438.9h3v3h-3zM252.8 438.9h3v3h-3zM264.0 438.9h3v3h-3zM275.1 438.9h3v3h-3zM286.3 438.9h3v3h-3zM297.4 438.9h3v3h-3zM308.5 438.9h3v3h-3zM319.7 438.9h3v3h-3zM330.8 438.9h3v3h-3zM342.0 438.9h3v3h-3zM353.1 438.9h3v3h-3zM364.2 438.9h3v3h-3zM375.4 438.9h3v3h-3zM386.5 438.9h3v3h-3zM397.7 438.9h3v3h-3zM408.8 438.9h3v3h-3zM419.9 438.9h3v3h-3zM431.1 438.9h3v3h-3zM442.2 438.9h3v3h-3zM453.4 438.9h3v3h-3zM464.5 438.9h3v3h-3zM475.6 438.9h3v3h-3zM486.8 438.9h3v3h-3zM230.6 447.9h3v3h-3zM241.7 447.9h3v3h-3zM252.8 447.9h3v3h-3zM264.0 447.9h3v3h-3zM275.1 447.9h3v3h-3zM286.3 447.9h3v3h-3zM297.4 447.9h3v3h-3zM308.5 447.9h3v3h-3zM319.7 447.9h3v3h-3zM330.8 447.9h3v3h-3zM342.0 447.9h3v3h-3zM353.1 447.9h3v3h-3zM364.2 447.9h3v3h-3zM375.4 447.9h3v3h-3zM386.5 447.9h3v3h-3zM397.7 447.9h3v3h-3zM408.8 447.9h3v3h-3zM419.9 447.9h3v3h-3zM431.1 447.9h3v3h-3zM442.2 447.9h3v3h-3zM453.4 447.9h3v3h-3zM230.6 457.0h3v3h-3zM241.7 457.0h3v3h-3zM252.8 457.0h3v3h-3zM264.0 457.0h3v3h-3zM275.1 457.0h3v3h-3zM286.3 457.0h3v3h-3zM297.4 457.0h3v3h-3zM308.5 457.0h3v3h-3zM319.7 457.0h3v3h-3zM330.8 457.0h3v3h-3zM342.0 457.0h3v3h-3zM353.1 457.0h3v3h-3zM364.2 457.0h3v3h-3zM375.4 457.0h3v3h-3zM386.5 457.0h3v3h-3zM397.7 457.0h3v3h-3zM408.8 457.0h3v3h-3zM419.9 457.0h3v3h-3zM230.6 466.1h3v3h-3zM241.7 466.1h3v3h-3zM252.8 466.1h3v3h-3zM264.0 466.1h3v3h-3zM286.3 466.1h3v3h-3zM297.4 466.1h3v3h-3zM319.7 466.1h3v3h-3zM330.8 466.1h3v3h-3zM342.0 466.1h3v3h-3zM353.1 466.1h3v3h-3zM364.2 466.1h3v3h-3zM375.4 466.1h3v3h-3zM386.5 466.1h3v3h-3zM397.7 466.1h3v3h-3zM230.6 475.2h3v3h-3zM241.7 475.2h3v3h-3zM252.8 475.2h3v3h-3zM264.0 475.2h3v3h-3zM286.3 475.2h3v3h-3zM297.4 475.2h3v3h-3zM308.5 475.2h3v3h-3zM319.7 475.2h3v3h-3zM330.8 475.2h3v3h-3zM342.0 475.2h3v3h-3zM353.1 475.2h3v3h-3zM364.2 475.2h3v3h-3zM375.4 475.2h3v3h-3zM230.6 484.2h3v3h-3zM241.7 484.2h3v3h-3zM252.8 484.2h3v3h-3zM264.0 484.2h3v3h-3zM275.1 484.2h3v3h-3zM286.3 484.2h3v3h-3zM308.5 484.2h3v3h-3zM319.7 484.2h3v3h-3zM330.8 484.2h3v3h-3zM342.0 484.2h3v3h-3zM230.6 493.3h3v3h-3zM241.7 493.3h3v3h-3zM252.8 493.3h3v3h-3zM264.0 493.3h3v3h-3zM275.1 493.3h3v3h-3zM286.3 493.3h3v3h-3zM297.4 493.3h3v3h-3zM308.5 493.3h3v3h-3zM319.7 493.3h3v3h-3zM230.6 502.4h3v3h-3zM241.7 502.4h3v3h-3zM252.8 502.4h3v3h-3zM264.0 502.4h3v3h-3zM275.1 502.4h3v3h-3zM286.3 502.4h3v3h-3zM222.2 345.9h3v3h-3zM205.5 364.0h3v3h-3zM233.3 368.6h3v3h-3zM250.1 368.6h3v3h-3zM250.1 373.1h3v3h-3zM277.9 377.6h3v3h-3zM311.3 332.3h3v3h-3zM316.9 332.3h3v3h-3zM328.0 332.3h3v3h-3zM305.8 336.8h3v3h-3zM311.3 336.8h3v3h-3zM294.6 341.4h3v3h-3zM322.5 341.4h3v3h-3zM333.6 341.4h3v3h-3zM339.2 341.4h3v3h-3zM294.6 345.9h3v3h-3zM305.8 345.9h3v3h-3zM289.0 350.4h3v3h-3zM305.8 359.5h3v3h-3zM322.5 359.5h3v3h-3zM305.8 364.0h3v3h-3zM311.3 364.0h3v3h-3zM328.0 364.0h3v3h-3zM322.5 373.1h3v3h-3zM328.0 382.2h3v3h-3zM311.3 395.8h3v3h-3zM316.9 400.3h3v3h-3zM250.1 418.5h3v3h-3zM238.9 491.0h3v3h-3zM116.4 277.9h3v3h-3zM110.8 286.9h3v3h-3zM127.5 286.9h3v3h-3zM88.5 291.5h3v3h-3zM105.2 291.5h3v3h-3zM94.1 296.0h3v3h-3zM99.7 296.0h3v3h-3zM105.2 296.0h3v3h-3zM116.4 296.0h3v3h-3zM121.9 296.0h3v3h-3zM83.0 300.6h3v3h-3zM94.1 300.6h3v3h-3zM99.7 300.6h3v3h-3zM105.2 300.6h3v3h-3zM83.0 305.1h3v3h-3zM105.2 305.1h3v3h-3zM110.8 305.1h3v3h-3zM290.6 264.3h3v3h-3zM296.2 264.3h3v3h-3zM307.4 264.3h3v3h-3zM318.5 264.3h3v3h-3zM324.1 264.3h3v3h-3zM290.6 268.8h3v3h-3zM301.8 268.8h3v3h-3zM318.5 268.8h3v3h-3zM290.6 273.3h3v3h-3zM296.2 273.3h3v3h-3zM307.4 273.3h3v3h-3zM312.9 273.3h3v3h-3zM324.1 273.3h3v3h-3zM329.6 273.3h3v3h-3zM296.2 277.9h3v3h-3zM307.4 277.9h3v3h-3zM312.9 277.9h3v3h-3zM318.5 277.9h3v3h-3zM296.2 282.4h3v3h-3zM301.8 282.4h3v3h-3zM307.4 282.4h3v3h-3zM312.9 282.4h3v3h-3zM324.1 282.4h3v3h-3zM335.2 282.4h3v3h-3zM296.2 286.9h3v3h-3zM301.8 286.9h3v3h-3zM329.6 286.9h3v3h-3zM335.2 286.9h3v3h-3zM296.2 291.5h3v3h-3zM301.8 291.5h3v3h-3zM307.4 291.5h3v3h-3zM318.5 291.5h3v3h-3zM324.1 291.5h3v3h-3zM329.6 291.5h3v3h-3zM335.2 291.5h3v3h-3zM301.8 296.0h3v3h-3zM307.4 296.0h3v3h-3zM324.1 296.0h3v3h-3zM329.6 296.0h3v3h-3zM335.2 296.0h3v3h-3zM296.2 300.6h3v3h-3zM301.8 300.6h3v3h-3zM307.4 300.6h3v3h-3zM312.9 300.6h3v3h-3zM318.5 300.6h3v3h-3zM324.1 300.6h3v3h-3zM329.6 300.6h3v3h-3zM296.2 305.1h3v3h-3zM301.8 305.1h3v3h-3zM307.4 305.1h3v3h-3zM312.9 305.1h3v3h-3zM318.5 305.1h3v3h-3zM324.1 305.1h3v3h-3zM329.6 305.1h3v3h-3zM335.2 305.1h3v3h-3zM307.4 309.6h3v3h-3zM296.2 314.2h3v3h-3zM301.8 314.2h3v3h-3zM307.4 314.2h3v3h-3zM318.5 314.2h3v3h-3zM340.8 314.2h3v3h-3zM296.2 318.7h3v3h-3zM301.8 318.7h3v3h-3zM307.4 318.7h3v3h-3zM296.2 323.2h3v3h-3zM318.5 323.2h3v3h-3zM324.1 323.2h3v3h-3zM329.6 323.2h3v3h-3zM296.2 327.8h3v3h-3zM301.8 327.8h3v3h-3zM307.4 327.8h3v3h-3zM312.9 327.8h3v3h-3zM329.6 327.8h3v3h-3zM433.9 355.0h3v3h-3zM445.0 355.0h3v3h-3zM450.6 355.0h3v3h-3zM428.3 359.5h3v3h-3zM433.9 359.5h3v3h-3zM450.6 359.5h3v3h-3zM445.0 364.0h3v3h-3zM456.1 364.0h3v3h-3zM467.3 364.0h3v3h-3zM478.4 368.6h3v3h-3zM422.7 373.1h3v3h-3zM445.0 373.1h3v3h-3zM428.3 377.6h3v3h-3zM433.9 377.6h3v3h-3zM439.4 377.6h3v3h-3zM461.7 377.6h3v3h-3zM484.0 377.6h3v3h-3zM433.9 382.2h3v3h-3zM478.4 382.2h3v3h-3zM428.3 386.7h3v3h-3zM433.9 386.7h3v3h-3zM461.7 386.7h3v3h-3zM467.3 386.7h3v3h-3zM422.7 391.3h3v3h-3zM445.0 391.3h3v3h-3zM456.1 391.3h3v3h-3zM461.7 391.3h3v3h-3zM478.4 391.3h3v3h-3zM422.7 395.8h3v3h-3zM428.3 395.8h3v3h-3zM433.9 395.8h3v3h-3zM155.4 282.4h3v3h-3zM144.2 286.9h3v3h-3zM149.8 286.9h3v3h-3zM160.9 286.9h3v3h-3zM166.5 286.9h3v3h-3zM138.7 291.5h3v3h-3zM144.2 291.5h3v3h-3zM149.8 291.5h3v3h-3zM155.4 291.5h3v3h-3zM160.9 291.5h3v3h-3zM166.5 291.5h3v3h-3zM149.8 296.0h3v3h-3zM155.4 296.0h3v3h-3zM160.9 296.0h3v3h-3zM166.5 296.0h3v3h-3zM160.9 300.6h3v3h-3zM166.5 300.6h3v3h-3zM172.1 300.6h3v3h-3zM172.1 305.1h3v3h-3zM183.2 309.6h3v3h-3zM138.7 314.2h3v3h-3zM177.6 314.2h3v3h-3zM138.7 318.7h3v3h-3zM149.8 323.2h3v3h-3zM155.4 323.2h3v3h-3zM138.7 327.8h3v3h-3zM172.1 327.8h3v3h-3zM149.8 332.3h3v3h-3zM172.1 332.3h3v3h-3zM155.4 336.8h3v3h-3zM160.9 336.8h3v3h-3zM155.4 341.4h3v3h-3zM127.5 376.5h3v3h-3zM132.5 372.5h3v3h-3zM138.5 368.5h3v3h-3zM138.5 381.5h3v3h-3zM143.5 381.5h3v3h-3zM149.5 381.5h3v3h-3zM149.5 385.9h3v3h-3zM155.5 381.5h3v3h-3zM161.5 381.5h3v3h-3zM166.5 381.5h3v3h-3zM342.5 349.0h3v3h-3zM341.8 366.1h3v3h-3zM345.9 363.7h3v3h-3zM345.9 368.5h3v3h-3zM350.8 368.5h3v3h-3zM345.9 373.5h3v3h-3zM350.8 373.5h3v3h-3zM362.2 376.0h3v3h-3zM364.5 380.9h3v3h-3zM354.9 382.5h3v3h-3zM350.8 382.5h3v3h-3zM368.0 382.5h3v3h-3zM372.9 382.5h3v3h-3zM376.1 385.0h3v3h-3zM387.5 385.0h3v3h-3zM398.2 385.0h3v3h-3zM403.5 388.5h3v3h-3zM393.5 389.5h3v3h-3zM183.3 309.3h3v3h-3zM194.2 341.1h3v3h-3zM205.7 341.1h3v3h-3z" fill="#e010e0"/>
<path d="M131.8 348.1l1.6 2.9h-3.2zM265.5 402.5l1.6 2.9h-3.2zM388.0 411.6l1.6 2.9h-3.2zM432.6 420.6l1.6 2.9h-3.2zM454.9 420.6l1.6 2.9h-3.2zM276.6 466.0l1.6 2.9h-3.2zM229.3 341.3l1.6 2.9h-3.2zM212.6 345.8l1.6 2.9h-3.2zM229.3 345.8l1.6 2.9h-3.2zM229.3 350.3l1.6 2.9h-3.2zM207.0 354.9l1.6 2.9h-3.2zM218.1 354.9l1.6 2.9h-3.2zM223.7 354.9l1.6 2.9h-3.2zM201.4 359.4l1.6 2.9h-3.2zM207.0 359.4l1.6 2.9h-3.2zM218.1 359.4l1.6 2.9h-3.2zM223.7 359.4l1.6 2.9h-3.2zM212.6 363.9l1.6 2.9h-3.2zM223.7 363.9l1.6 2.9h-3.2zM229.3 363.9l1.6 2.9h-3.2zM207.0 368.5l1.6 2.9h-3.2zM223.7 368.5l1.6 2.9h-3.2zM218.1 373.0l1.6 2.9h-3.2zM229.3 382.1l1.6 2.9h-3.2zM240.4 336.7l1.6 2.9h-3.2zM246.0 336.7l1.6 2.9h-3.2zM251.6 336.7l1.6 2.9h-3.2zM257.1 336.7l1.6 2.9h-3.2zM262.7 336.7l1.6 2.9h-3.2zM268.3 336.7l1.6 2.9h-3.2zM273.8 336.7l1.6 2.9h-3.2zM279.4 336.7l1.6 2.9h-3.2zM285.0 336.7l1.6 2.9h-3.2zM240.4 341.3l1.6 2.9h-3.2zM251.6 341.3l1.6 2.9h-3.2zM262.7 341.3l1.6 2.9h-3.2zM268.3 341.3l1.6 2.9h-3.2zM273.8 341.3l1.6 2.9h-3.2zM285.0 341.3l1.6 2.9h-3.2zM234.8 345.8l1.6 2.9h-3.2zM251.6 345.8l1.6 2.9h-3.2zM268.3 345.8l1.6 2.9h-3.2zM273.8 345.8l1.6 2.9h-3.2zM234.8 350.3l1.6 2.9h-3.2zM240.4 350.3l1.6 2.9h-3.2zM251.6 350.3l1.6 2.9h-3.2zM262.7 350.3l1.6 2.9h-3.2zM268.3 350.3l1.6 2.9h-3.2zM273.8 350.3l1.6 2.9h-3.2zM285.0 350.3l1.6 2.9h-3.2zM251.6 354.9l1.6 2.9h-3.2zM268.3 354.9l1.6 2.9h-3.2zM273.8 354.9l1.6 2.9h-3.2zM234.8 359.4l1.6 2.9h-3.2zM251.6 359.4l1.6 2.9h-3.2zM257.1 359.4l1.6 2.9h-3.2zM262.7 359.4l1.6 2.9h-3.2zM268.3 359.4l1.6 2.9h-3.2zM273.8 359.4l1.6 2.9h-3.2zM279.4 359.4l1.6 2.9h-3.2zM285.0 359.4l1.6 2.9h-3.2zM234.8 363.9l1.6 2.9h-3.2zM246.0 363.9l1.6 2.9h-3.2zM251.6 363.9l1.6 2.9h-3.2zM257.1 363.9l1.6 2.9h-3.2zM279.4 363.9l1.6 2.9h-3.2zM285.0 363.9l1.6 2.9h-3.2zM240.4 368.5l1.6 2.9h-3.2zM246.0 368.5l1.6 2.9h-3.2zM257.1 368.5l1.6 2.9h-3.2zM262.7 368.5l1.6 2.9h-3.2zM273.8 368.5l1.6 2.9h-3.2zM279.4 368.5l1.6 2.9h-3.2zM285.0 368.5l1.6 2.9h-3.2zM234.8 373.0l1.6 2.9h-3.2zM240.4 373.0l1.6 2.9h-3.2zM246.0 373.0l1.6 2.9h-3.2zM262.7 373.0l1.6 2.9h-3.2zM279.4 373.0l1.6 2.9h-3.2zM285.0 373.0l1.6 2.9h-3.2zM240.4 377.5l1.6 2.9h-3.2zM251.6 377.5l1.6 2.9h-3.2zM257.1 377.5l1.6 2.9h-3.2zM268.3 377.5l1.6 2.9h-3.2zM273.8 377.5l1.6 2.9h-3.2zM285.0 377.5l1.6 2.9h-3.2zM234.8 382.1l1.6 2.9h-3.2zM251.6 382.1l1.6 2.9h-3.2zM268.3 382.1l1.6 2.9h-3.2zM273.8 382.1l1.6 2.9h-3.2zM240.4 386.6l1.6 2.9h-3.2zM246.0 386.6l1.6 2.9h-3.2zM251.6 386.6l1.6 2.9h-3.2zM257.1 386.6l1.6 2.9h-3.2zM268.3 386.6l1.6 2.9h-3.2zM273.8 386.6l1.6 2.9h-3.2zM279.4 386.6l1.6 2.9h-3.2zM285.0 386.6l1.6 2.9h-3.2zM257.1 391.2l1.6 2.9h-3.2zM268.3 391.2l1.6 2.9h-3.2zM273.8 391.2l1.6 2.9h-3.2zM290.5 332.2l1.6 2.9h-3.2zM301.7 332.2l1.6 2.9h-3.2zM324.0 336.7l1.6 2.9h-3.2zM307.3 341.3l1.6 2.9h-3.2zM301.7 345.8l1.6 2.9h-3.2zM329.5 345.8l1.6 2.9h-3.2zM335.1 345.8l1.6 2.9h-3.2zM340.7 345.8l1.6 2.9h-3.2zM296.1 350.3l1.6 2.9h-3.2zM312.8 350.3l1.6 2.9h-3.2zM318.4 350.3l1.6 2.9h-3.2zM335.1 350.3l1.6 2.9h-3.2zM296.1 354.9l1.6 2.9h-3.2zM301.7 354.9l1.6 2.9h-3.2zM307.3 354.9l1.6 2.9h-3.2zM324.0 354.9l1.6 2.9h-3.2zM329.5 354.9l1.6 2.9h-3.2zM340.7 354.9l1.6 2.9h-3.2zM296.1 359.4l1.6 2.9h-3.2zM301.7 359.4l1.6 2.9h-3.2zM312.8 359.4l1.6 2.9h-3.2zM318.4 359.4l1.6 2.9h-3.2zM340.7 359.4l1.6 2.9h-3.2zM296.1 363.9l1.6 2.9h-3.2zM301.7 363.9l1.6 2.9h-3.2zM290.5 368.5l1.6 2.9h-3.2zM301.7 368.5l1.6 2.9h-3.2zM324.0 368.5l1.6 2.9h-3.2zM329.5 368.5l1.6 2.9h-3.2zM307.3 373.0l1.6 2.9h-3.2zM312.8 373.0l1.6 2.9h-3.2zM290.5 377.5l1.6 2.9h-3.2zM296.1 377.5l1.6 2.9h-3.2zM307.3 377.5l1.6 2.9h-3.2zM312.8 377.5l1.6 2.9h-3.2zM329.5 377.5l1.6 2.9h-3.2zM290.5 382.1l1.6 2.9h-3.2zM301.7 382.1l1.6 2.9h-3.2zM307.3 382.1l1.6 2.9h-3.2zM318.4 382.1l1.6 2.9h-3.2zM324.0 382.1l1.6 2.9h-3.2zM301.7 386.6l1.6 2.9h-3.2zM318.4 386.6l1.6 2.9h-3.2zM324.0 386.6l1.6 2.9h-3.2zM290.5 391.2l1.6 2.9h-3.2zM301.7 391.2l1.6 2.9h-3.2zM307.3 391.2l1.6 2.9h-3.2zM312.8 391.2l1.6 2.9h-3.2zM318.4 391.2l1.6 2.9h-3.2zM324.0 391.2l1.6 2.9h-3.2zM329.5 391.2l1.6 2.9h-3.2zM296.1 395.7l1.6 2.9h-3.2zM307.3 395.7l1.6 2.9h-3.2zM324.0 395.7l1.6 2.9h-3.2zM307.3 400.2l1.6 2.9h-3.2zM324.0 400.2l1.6 2.9h-3.2zM296.1 404.8l1.6 2.9h-3.2zM301.7 404.8l1.6 2.9h-3.2zM307.3 404.8l1.6 2.9h-3.2zM318.4 404.8l1.6 2.9h-3.2zM324.0 404.8l1.6 2.9h-3.2zM296.1 409.3l1.6 2.9h-3.2zM301.7 409.3l1.6 2.9h-3.2zM307.3 409.3l1.6 2.9h-3.2zM318.4 409.3l1.6 2.9h-3.2zM301.7 413.8l1.6 2.9h-3.2zM307.3 413.8l1.6 2.9h-3.2zM296.1 418.4l1.6 2.9h-3.2zM301.7 418.4l1.6 2.9h-3.2zM307.3 418.4l1.6 2.9h-3.2zM290.5 422.9l1.6 2.9h-3.2zM301.7 422.9l1.6 2.9h-3.2zM312.8 422.9l1.6 2.9h-3.2zM296.1 427.4l1.6 2.9h-3.2zM301.7 427.4l1.6 2.9h-3.2zM285.0 432.0l1.6 2.9h-3.2zM290.5 432.0l1.6 2.9h-3.2zM296.1 432.0l1.6 2.9h-3.2zM301.7 432.0l1.6 2.9h-3.2zM285.0 436.5l1.6 2.9h-3.2zM290.5 436.5l1.6 2.9h-3.2zM296.1 436.5l1.6 2.9h-3.2zM296.1 441.0l1.6 2.9h-3.2zM285.0 445.6l1.6 2.9h-3.2zM290.5 445.6l1.6 2.9h-3.2zM279.4 450.1l1.6 2.9h-3.2zM285.0 454.6l1.6 2.9h-3.2zM246.0 400.2l1.6 2.9h-3.2zM246.0 409.3l1.6 2.9h-3.2zM246.0 413.8l1.6 2.9h-3.2zM234.8 418.4l1.6 2.9h-3.2zM229.3 427.4l1.6 2.9h-3.2zM229.3 432.0l1.6 2.9h-3.2zM240.4 432.0l1.6 2.9h-3.2zM246.0 432.0l1.6 2.9h-3.2zM229.3 436.5l1.6 2.9h-3.2zM240.4 436.5l1.6 2.9h-3.2zM246.0 436.5l1.6 2.9h-3.2zM234.8 441.0l1.6 2.9h-3.2zM240.4 445.6l1.6 2.9h-3.2zM229.3 450.1l1.6 2.9h-3.2zM240.4 450.1l1.6 2.9h-3.2zM234.8 459.2l1.6 2.9h-3.2zM240.4 459.2l1.6 2.9h-3.2zM234.8 463.7l1.6 2.9h-3.2zM234.8 468.2l1.6 2.9h-3.2zM240.4 472.8l1.6 2.9h-3.2zM234.8 481.9l1.6 2.9h-3.2zM240.4 486.4l1.6 2.9h-3.2zM234.8 490.9l1.6 2.9h-3.2zM234.8 504.5l1.6 2.9h-3.2zM240.4 509.1l1.6 2.9h-3.2zM234.8 518.1l1.6 2.9h-3.2zM106.7 277.8l1.6 2.9h-3.2zM101.2 282.3l1.6 2.9h-3.2zM117.9 282.3l1.6 2.9h-3.2zM101.2 286.8l1.6 2.9h-3.2zM117.9 286.8l1.6 2.9h-3.2zM95.6 305.0l1.6 2.9h-3.2zM308.9 286.8l1.6 2.9h-3.2zM314.4 291.4l1.6 2.9h-3.2zM303.3 309.5l1.6 2.9h-3.2zM320.0 318.6l1.6 2.9h-3.2zM325.6 318.6l1.6 2.9h-3.2zM429.8 363.9l1.6 2.9h-3.2zM429.8 368.5l1.6 2.9h-3.2zM440.9 368.5l1.6 2.9h-3.2zM463.2 368.5l1.6 2.9h-3.2zM468.8 368.5l1.6 2.9h-3.2zM440.9 373.0l1.6 2.9h-3.2zM452.1 373.0l1.6 2.9h-3.2zM457.6 373.0l1.6 2.9h-3.2zM463.2 373.0l1.6 2.9h-3.2zM424.2 377.5l1.6 2.9h-3.2zM452.1 377.5l1.6 2.9h-3.2zM457.6 377.5l1.6 2.9h-3.2zM429.8 382.1l1.6 2.9h-3.2zM440.9 382.1l1.6 2.9h-3.2zM457.6 382.1l1.6 2.9h-3.2zM429.8 391.2l1.6 2.9h-3.2zM435.4 391.2l1.6 2.9h-3.2zM468.8 391.2l1.6 2.9h-3.2zM156.9 286.8l1.6 2.9h-3.2zM156.9 318.6l1.6 2.9h-3.2zM129.0 314.1l1.6 2.9h-3.2z" fill="#3f9fe0"/>
<defs><circle id="ci" r="1.55" fill="#e84800" stroke="#5a1800" stroke-width="0.8"/></defs>
<use href="#ci" x="87.2" y="277.1"/><use href="#ci" x="98.4" y="277.1"/><use href="#ci" x="109.5" y="277.1"/><use href="#ci" x="142.9" y="286.2"/><use href="#ci" x="87.2" y="295.2"/><use href="#ci" x="176.4" y="295.2"/><use href="#ci" x="165.2" y="304.3"/><use href="#ci" x="98.4" y="313.4"/><use href="#ci" x="109.5" y="313.4"/><use href="#ci" x="142.9" y="313.4"/><use href="#ci" x="176.4" y="313.4"/><use href="#ci" x="287.8" y="313.4"/><use href="#ci" x="98.4" y="322.5"/><use href="#ci" x="109.5" y="322.5"/><use href="#ci" x="120.7" y="322.5"/><use href="#ci" x="176.4" y="322.5"/><use href="#ci" x="187.5" y="322.5"/><use href="#ci" x="220.9" y="322.5"/><use href="#ci" x="265.5" y="322.5"/><use href="#ci" x="76.1" y="331.5"/><use href="#ci" x="87.2" y="331.5"/><use href="#ci" x="98.4" y="331.5"/><use href="#ci" x="109.5" y="331.5"/><use href="#ci" x="120.7" y="331.5"/><use href="#ci" x="187.5" y="331.5"/><use href="#ci" x="209.8" y="331.5"/><use href="#ci" x="87.2" y="340.6"/><use href="#ci" x="109.5" y="340.6"/><use href="#ci" x="120.7" y="340.6"/><use href="#ci" x="131.8" y="340.6"/><use href="#ci" x="198.6" y="340.6"/><use href="#ci" x="220.9" y="340.6"/><use href="#ci" x="421.4" y="340.6"/><use href="#ci" x="87.2" y="349.7"/><use href="#ci" x="98.4" y="349.7"/><use href="#ci" x="109.5" y="349.7"/><use href="#ci" x="154.1" y="349.7"/><use href="#ci" x="176.4" y="349.7"/><use href="#ci" x="98.4" y="358.7"/><use href="#ci" x="109.5" y="358.7"/><use href="#ci" x="176.4" y="358.7"/><use href="#ci" x="154.1" y="376.9"/><use href="#ci" x="176.4" y="376.9"/><use href="#ci" x="410.3" y="404.1"/><use href="#ci" x="276.6" y="413.2"/><use href="#ci" x="254.3" y="422.2"/><use href="#ci" x="265.5" y="422.2"/><use href="#ci" x="276.6" y="422.2"/><use href="#ci" x="287.8" y="422.2"/><use href="#ci" x="310.0" y="431.3"/><use href="#ci" x="343.5" y="431.3"/><use href="#ci" x="310.0" y="467.6"/><use href="#ci" x="276.6" y="476.7"/><use href="#ci" x="298.9" y="485.7"/><use href="#ci" x="229.3" y="338.3"/><use href="#ci" x="218.1" y="342.9"/><use href="#ci" x="223.7" y="342.9"/><use href="#ci" x="218.1" y="347.4"/><use href="#ci" x="207.0" y="351.9"/><use href="#ci" x="212.6" y="351.9"/><use href="#ci" x="223.7" y="351.9"/><use href="#ci" x="201.4" y="356.5"/><use href="#ci" x="212.6" y="356.5"/><use href="#ci" x="229.3" y="356.5"/><use href="#ci" x="212.6" y="361.0"/><use href="#ci" x="229.3" y="361.0"/><use href="#ci" x="218.1" y="365.5"/><use href="#ci" x="218.1" y="370.1"/><use href="#ci" x="229.3" y="370.1"/><use href="#ci" x="223.7" y="374.6"/><use href="#ci" x="229.3" y="374.6"/><use href="#ci" x="218.1" y="379.1"/><use href="#ci" x="229.3" y="379.1"/><use href="#ci" x="234.8" y="338.3"/><use href="#ci" x="246.0" y="342.9"/><use href="#ci" x="279.4" y="342.9"/><use href="#ci" x="240.4" y="347.4"/><use href="#ci" x="246.0" y="347.4"/><use href="#ci" x="262.7" y="347.4"/><use href="#ci" x="279.4" y="347.4"/><use href="#ci" x="285.0" y="347.4"/><use href="#ci" x="246.0" y="351.9"/><use href="#ci" x="257.1" y="351.9"/><use href="#ci" x="240.4" y="356.5"/><use href="#ci" x="246.0" y="356.5"/><use href="#ci" x="257.1" y="356.5"/><use href="#ci" x="262.7" y="356.5"/><use href="#ci" x="279.4" y="356.5"/><use href="#ci" x="285.0" y="356.5"/><use href="#ci" x="240.4" y="361.0"/><use href="#ci" x="262.7" y="365.5"/><use href="#ci" x="268.3" y="365.5"/><use href="#ci" x="268.3" y="370.1"/><use href="#ci" x="257.1" y="374.6"/><use href="#ci" x="273.8" y="374.6"/><use href="#ci" x="234.8" y="379.1"/><use href="#ci" x="246.0" y="379.1"/><use href="#ci" x="262.7" y="379.1"/><use href="#ci" x="240.4" y="383.7"/><use href="#ci" x="246.0" y="383.7"/><use href="#ci" x="257.1" y="383.7"/><use href="#ci" x="262.7" y="383.7"/><use href="#ci" x="279.4" y="383.7"/><use href="#ci" x="285.0" y="383.7"/><use href="#ci" x="262.7" y="388.2"/><use href="#ci" x="246.0" y="392.8"/><use href="#ci" x="251.6" y="392.8"/><use href="#ci" x="262.7" y="392.8"/><use href="#ci" x="279.4" y="392.8"/><use href="#ci" x="285.0" y="392.8"/><use href="#ci" x="296.1" y="333.8"/><use href="#ci" x="307.3" y="333.8"/><use href="#ci" x="324.0" y="333.8"/><use href="#ci" x="335.1" y="333.8"/><use href="#ci" x="340.7" y="333.8"/><use href="#ci" x="290.5" y="338.3"/><use href="#ci" x="296.1" y="338.3"/><use href="#ci" x="335.1" y="338.3"/><use href="#ci" x="301.7" y="342.9"/><use href="#ci" x="312.8" y="342.9"/><use href="#ci" x="318.4" y="342.9"/><use href="#ci" x="329.5" y="342.9"/><use href="#ci" x="290.5" y="347.4"/><use href="#ci" x="318.4" y="347.4"/><use href="#ci" x="301.7" y="351.9"/><use href="#ci" x="307.3" y="351.9"/><use href="#ci" x="324.0" y="351.9"/><use href="#ci" x="340.7" y="351.9"/><use href="#ci" x="290.5" y="356.5"/><use href="#ci" x="312.8" y="356.5"/><use href="#ci" x="318.4" y="356.5"/><use href="#ci" x="335.1" y="356.5"/><use href="#ci" x="329.5" y="361.0"/><use href="#ci" x="335.1" y="361.0"/><use href="#ci" x="290.5" y="365.5"/><use href="#ci" x="318.4" y="365.5"/><use href="#ci" x="324.0" y="365.5"/><use href="#ci" x="296.1" y="370.1"/><use href="#ci" x="307.3" y="370.1"/><use href="#ci" x="312.8" y="370.1"/><use href="#ci" x="318.4" y="370.1"/><use href="#ci" x="335.1" y="370.1"/><use href="#ci" x="290.5" y="374.6"/><use href="#ci" x="296.1" y="374.6"/><use href="#ci" x="301.7" y="374.6"/><use href="#ci" x="318.4" y="374.6"/><use href="#ci" x="329.5" y="374.6"/><use href="#ci" x="335.1" y="374.6"/><use href="#ci" x="301.7" y="379.1"/><use href="#ci" x="318.4" y="379.1"/><use href="#ci" x="324.0" y="379.1"/><use href="#ci" x="296.1" y="383.7"/><use href="#ci" x="312.8" y="383.7"/><use href="#ci" x="290.5" y="388.2"/><use href="#ci" x="296.1" y="388.2"/><use href="#ci" x="312.8" y="388.2"/><use href="#ci" x="329.5" y="388.2"/><use href="#ci" x="296.1" y="392.8"/><use href="#ci" x="301.7" y="397.3"/><use href="#ci" x="318.4" y="397.3"/><use href="#ci" x="290.5" y="401.8"/><use href="#ci" x="296.1" y="401.8"/><use href="#ci" x="301.7" y="401.8"/><use href="#ci" x="312.8" y="401.8"/><use href="#ci" x="290.5" y="406.4"/><use href="#ci" x="290.5" y="410.9"/><use href="#ci" x="312.8" y="410.9"/><use href="#ci" x="290.5" y="415.4"/><use href="#ci" x="296.1" y="415.4"/><use href="#ci" x="312.8" y="415.4"/><use href="#ci" x="318.4" y="415.4"/><use href="#ci" x="290.5" y="420.0"/><use href="#ci" x="312.8" y="420.0"/><use href="#ci" x="296.1" y="424.5"/><use href="#ci" x="307.3" y="424.5"/><use href="#ci" x="307.3" y="429.0"/><use href="#ci" x="285.0" y="442.6"/><use href="#ci" x="290.5" y="442.6"/><use href="#ci" x="285.0" y="451.7"/><use href="#ci" x="290.5" y="451.7"/><use href="#ci" x="279.4" y="456.2"/><use href="#ci" x="279.4" y="460.8"/><use href="#ci" x="240.4" y="401.8"/><use href="#ci" x="246.0" y="406.4"/><use href="#ci" x="240.4" y="415.4"/><use href="#ci" x="240.4" y="420.0"/><use href="#ci" x="246.0" y="420.0"/><use href="#ci" x="229.3" y="424.5"/><use href="#ci" x="234.8" y="424.5"/><use href="#ci" x="240.4" y="424.5"/><use href="#ci" x="246.0" y="424.5"/><use href="#ci" x="251.6" y="424.5"/><use href="#ci" x="234.8" y="429.0"/><use href="#ci" x="246.0" y="429.0"/><use href="#ci" x="234.8" y="433.6"/><use href="#ci" x="234.8" y="438.1"/><use href="#ci" x="229.3" y="442.6"/><use href="#ci" x="246.0" y="442.6"/><use href="#ci" x="229.3" y="447.2"/><use href="#ci" x="234.8" y="447.2"/><use href="#ci" x="229.3" y="456.2"/><use href="#ci" x="234.8" y="456.2"/><use href="#ci" x="240.4" y="456.2"/><use href="#ci" x="229.3" y="460.8"/><use href="#ci" x="240.4" y="465.3"/><use href="#ci" x="240.4" y="469.8"/><use href="#ci" x="234.8" y="474.4"/><use href="#ci" x="234.8" y="478.9"/><use href="#ci" x="240.4" y="478.9"/><use href="#ci" x="240.4" y="483.5"/><use href="#ci" x="234.8" y="488.0"/><use href="#ci" x="234.8" y="497.1"/><use href="#ci" x="240.4" y="497.1"/><use href="#ci" x="234.8" y="501.6"/><use href="#ci" x="240.4" y="501.6"/><use href="#ci" x="234.8" y="510.7"/><use href="#ci" x="234.8" y="515.2"/><use href="#ci" x="240.4" y="515.2"/><use href="#ci" x="240.4" y="519.7"/><use href="#ci" x="95.6" y="279.4"/><use href="#ci" x="101.2" y="279.4"/><use href="#ci" x="112.3" y="279.4"/><use href="#ci" x="90.0" y="283.9"/><use href="#ci" x="95.6" y="283.9"/><use href="#ci" x="106.7" y="283.9"/><use href="#ci" x="112.3" y="283.9"/><use href="#ci" x="123.4" y="283.9"/><use href="#ci" x="90.0" y="288.4"/><use href="#ci" x="95.6" y="288.4"/><use href="#ci" x="106.7" y="288.4"/><use href="#ci" x="123.4" y="288.4"/><use href="#ci" x="95.6" y="293.0"/><use href="#ci" x="101.2" y="293.0"/><use href="#ci" x="112.3" y="293.0"/><use href="#ci" x="117.9" y="293.0"/><use href="#ci" x="123.4" y="293.0"/><use href="#ci" x="90.0" y="297.5"/><use href="#ci" x="112.3" y="297.5"/><use href="#ci" x="90.0" y="302.1"/><use href="#ci" x="112.3" y="302.1"/><use href="#ci" x="117.9" y="302.1"/><use href="#ci" x="90.0" y="306.6"/><use href="#ci" x="101.2" y="306.6"/><use href="#ci" x="95.6" y="311.1"/><use href="#ci" x="101.2" y="311.1"/><use href="#ci" x="106.7" y="311.1"/><use href="#ci" x="101.2" y="315.7"/><use href="#ci" x="106.7" y="315.7"/><use href="#ci" x="303.3" y="265.8"/><use href="#ci" x="314.4" y="265.8"/><use href="#ci" x="297.7" y="270.3"/><use href="#ci" x="314.4" y="270.3"/><use href="#ci" x="325.6" y="270.3"/><use href="#ci" x="303.3" y="274.8"/><use href="#ci" x="320.0" y="274.8"/><use href="#ci" x="303.3" y="279.4"/><use href="#ci" x="331.1" y="279.4"/><use href="#ci" x="320.0" y="283.9"/><use href="#ci" x="331.1" y="283.9"/><use href="#ci" x="314.4" y="288.4"/><use href="#ci" x="325.6" y="288.4"/><use href="#ci" x="297.7" y="297.5"/><use href="#ci" x="320.0" y="297.5"/><use href="#ci" x="314.4" y="311.1"/><use href="#ci" x="325.6" y="311.1"/><use href="#ci" x="331.1" y="311.1"/><use href="#ci" x="336.7" y="311.1"/><use href="#ci" x="342.3" y="311.1"/><use href="#ci" x="314.4" y="315.7"/><use href="#ci" x="325.6" y="315.7"/><use href="#ci" x="331.1" y="315.7"/><use href="#ci" x="336.7" y="315.7"/><use href="#ci" x="314.4" y="320.2"/><use href="#ci" x="331.1" y="320.2"/><use href="#ci" x="336.7" y="320.2"/><use href="#ci" x="303.3" y="324.7"/><use href="#ci" x="308.9" y="324.7"/><use href="#ci" x="314.4" y="324.7"/><use href="#ci" x="320.0" y="329.3"/><use href="#ci" x="325.6" y="329.3"/><use href="#ci" x="429.8" y="356.5"/><use href="#ci" x="440.9" y="356.5"/><use href="#ci" x="440.9" y="361.0"/><use href="#ci" x="446.5" y="361.0"/><use href="#ci" x="435.4" y="365.5"/><use href="#ci" x="440.9" y="365.5"/><use href="#ci" x="452.1" y="365.5"/><use href="#ci" x="463.2" y="365.5"/><use href="#ci" x="435.4" y="370.1"/><use href="#ci" x="446.5" y="370.1"/><use href="#ci" x="452.1" y="370.1"/><use href="#ci" x="457.6" y="370.1"/><use href="#ci" x="474.4" y="370.1"/><use href="#ci" x="429.8" y="374.6"/><use href="#ci" x="435.4" y="374.6"/><use href="#ci" x="468.8" y="374.6"/><use href="#ci" x="474.4" y="374.6"/><use href="#ci" x="446.5" y="379.1"/><use href="#ci" x="468.8" y="379.1"/><use href="#ci" x="474.4" y="379.1"/><use href="#ci" x="479.9" y="379.1"/><use href="#ci" x="424.2" y="383.7"/><use href="#ci" x="446.5" y="383.7"/><use href="#ci" x="452.1" y="383.7"/><use href="#ci" x="463.2" y="383.7"/><use href="#ci" x="468.8" y="383.7"/><use href="#ci" x="474.4" y="383.7"/><use href="#ci" x="424.2" y="388.2"/><use href="#ci" x="440.9" y="388.2"/><use href="#ci" x="474.4" y="388.2"/><use href="#ci" x="485.5" y="388.2"/><use href="#ci" x="474.4" y="392.8"/><use href="#ci" x="485.5" y="397.3"/><use href="#ci" x="151.3" y="274.8"/><use href="#ci" x="151.3" y="279.4"/><use href="#ci" x="156.9" y="279.4"/><use href="#ci" x="151.3" y="283.9"/><use href="#ci" x="179.1" y="306.6"/><use href="#ci" x="173.6" y="311.1"/><use href="#ci" x="179.1" y="311.1"/><use href="#ci" x="134.6" y="315.7"/><use href="#ci" x="145.7" y="315.7"/><use href="#ci" x="151.3" y="315.7"/><use href="#ci" x="156.9" y="315.7"/><use href="#ci" x="129.0" y="320.2"/><use href="#ci" x="134.6" y="320.2"/><use href="#ci" x="145.7" y="320.2"/><use href="#ci" x="151.3" y="320.2"/><use href="#ci" x="162.4" y="320.2"/><use href="#ci" x="168.0" y="320.2"/><use href="#ci" x="129.0" y="324.7"/><use href="#ci" x="134.6" y="324.7"/><use href="#ci" x="140.2" y="324.7"/><use href="#ci" x="145.7" y="324.7"/><use href="#ci" x="162.4" y="324.7"/><use href="#ci" x="168.0" y="324.7"/><use href="#ci" x="145.7" y="329.3"/><use href="#ci" x="151.3" y="329.3"/><use href="#ci" x="156.9" y="329.3"/><use href="#ci" x="162.4" y="329.3"/><use href="#ci" x="168.0" y="329.3"/><use href="#ci" x="145.7" y="333.8"/><use href="#ci" x="156.9" y="333.8"/><use href="#ci" x="162.4" y="333.8"/><use href="#ci" x="168.0" y="333.8"/><use href="#ci" x="179.1" y="333.8"/><use href="#ci" x="173.6" y="338.3"/><use href="#ci" x="143.0" y="367.0"/><use href="#ci" x="146.0" y="365.0"/><use href="#ci" x="140.0" y="374.0"/><use href="#ci" x="145.0" y="374.0"/><use href="#ci" x="129.0" y="383.0"/><use href="#ci" x="134.0" y="383.0"/><use href="#ci" x="134.0" y="387.4"/><use href="#ci" x="341.6" y="357.0"/><use href="#ci" x="344.0" y="359.5"/><use href="#ci" x="341.6" y="375.0"/><use href="#ci" x="358.0" y="379.1"/><use href="#ci" x="368.6" y="380.0"/><use href="#ci" x="380.0" y="384.0"/><use href="#ci" x="190.3" y="342.6"/><use href="#ci" x="179.4" y="338.3"/>
<text x="49" y="246" class="big" style="font-size:18px">b</text>
<text x="357" y="328" class="lg" style="font-size:13.8px">Yutian County</text>
<text x="479.8" y="240.2" text-anchor="middle" style="font-family:'Liberation Sans',sans-serif;font-size:12px;fill:#000;stroke:#000;stroke-width:0.35">N</text>
<path d="M479.2 244.2 L470.3 275.1 L479.5 264.2 Z" fill="#000"/>
<path d="M479.2 244.2 L488.3 274.5 L479.5 264.2 Z" fill="#fff" stroke="#000" stroke-width="0.9" stroke-linejoin="miter"/>
<text x="74" y="463" class="lg" style="font-size:11.5px">Legend</text>
<text x="102" y="483" class="lg" style="font-size:11px">Cluster I</text>
<text x="102" y="499.6" class="lg" style="font-size:11px">Cluster II</text>
<text x="102" y="516.4" class="lg" style="font-size:11px">Cluster III</text>
<path d="M85.4 477.8L87.0 480.7L83.8 480.7Z" fill="#3f9fe0"/>
<circle cx="85.4" cy="496.0" r="1.55" fill="#e84800" stroke="#5a1800" stroke-width="0.8"/>
<rect x="83.9" y="511.5" width="3" height="3" fill="#e010e0"/>
<rect x="385.4" y="528.8" width="90.5" height="6.7" fill="#000"/>
<rect x="408.5" y="530.2" width="21.8" height="3.9" fill="#fff"/>
<text x="385.4" y="522.5" text-anchor="middle" class="lg" style="font-size:11.5px">0</text>
<text x="407.8" y="522.5" text-anchor="middle" class="lg" style="font-size:11.5px">5</text>
<text x="431.0" y="522.5" text-anchor="middle" class="lg" style="font-size:11.5px">10</text>
<text x="474.7" y="522.5" text-anchor="middle" class="lg" style="font-size:11.5px">20</text>
<text x="479.5" y="535.4" class="lg" style="font-size:12.5px">km</text>
</svg>
</body></html>
